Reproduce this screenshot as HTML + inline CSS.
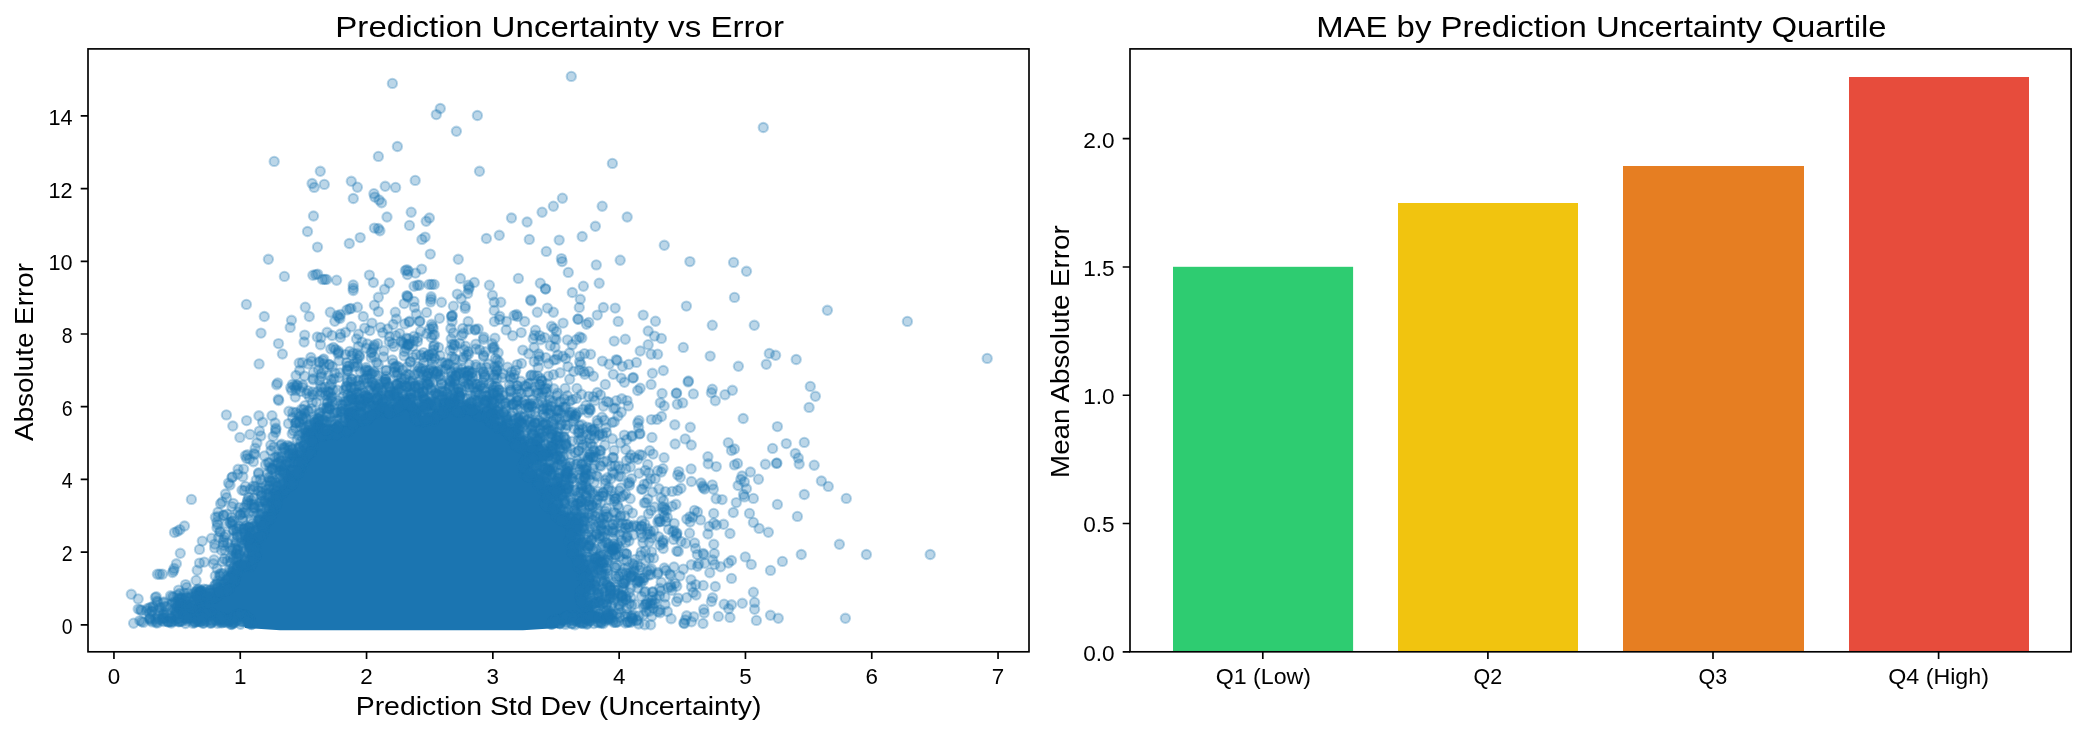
<!DOCTYPE html>
<html><head><meta charset="utf-8"><title>Prediction Uncertainty</title>
<style>html,body{margin:0;padding:0;background:#fff}svg{display:block;will-change:transform;opacity:.9999}text{font-family:"Liberation Sans",sans-serif;fill:#000}</style></head><body>
<svg width="2086" height="734" viewBox="0 0 2086 734">
<rect width="2086" height="734" fill="#fff"/>
<defs><circle id="p" r="4.65"/><clipPath id="ca"><rect x="88" y="48.9" width="941" height="602.9"/></clipPath></defs>
<g clip-path="url(#ca)"><path d="M392 392h1v1h-1zM457 392h1v1h-1zM391 393h3v1h-3zM456 393h3v1h-3zM390 394h5v1h-5zM455 394h3v1h-3zM355 395h1v1h-1zM362 395h2v1h-2zM389 395h6v1h-6zM398 395h1v1h-1zM407 395h1v1h-1zM420 395h2v1h-2zM455 395h4v1h-4zM361 396h4v1h-4zM390 396h5v1h-5zM397 396h3v1h-3zM406 396h3v1h-3zM419 396h4v1h-4zM454 396h5v1h-5zM493 396h1v1h-1zM361 397h8v1h-8zM381 397h1v1h-1zM392 397h2v1h-2zM398 397h4v1h-4zM403 397h1v1h-1zM405 397h5v1h-5zM420 397h2v1h-2zM450 397h1v1h-1zM454 397h4v1h-4zM492 397h3v1h-3zM354 396h3v3h-3zM380 398h3v1h-3zM392 398h3v1h-3zM399 398h11v1h-11zM428 398h1v1h-1zM445 398h13v1h-13zM488 398h1v1h-1zM493 398h1v1h-1zM355 399h1v1h-1zM379 399h4v1h-4zM393 399h1v1h-1zM398 399h12v1h-12zM425 399h5v1h-5zM444 399h15v1h-15zM487 399h3v1h-3zM362 398h8v3h-8zM355 400h2v1h-2zM359 400h1v1h-1zM378 400h4v1h-4zM398 400h13v1h-13zM423 400h9v1h-9zM445 400h15v1h-15zM486 400h4v1h-4zM354 401h17v1h-17zM373 401h1v1h-1zM377 401h6v1h-6zM398 401h15v1h-15zM422 401h11v1h-11zM444 401h15v1h-15zM487 401h4v1h-4zM355 402h10v1h-10zM367 402h3v1h-3zM372 402h3v1h-3zM376 402h7v1h-7zM384 402h2v1h-2zM397 402h17v1h-17zM421 402h13v1h-13zM440 402h1v1h-1zM444 402h16v1h-16zM488 402h3v2h-3zM356 403h10v1h-10zM368 403h1v1h-1zM373 403h1v1h-1zM375 403h12v1h-12zM396 403h19v1h-19zM421 403h12v1h-12zM444 403h15v1h-15zM468 403h1v1h-1zM439 403h3v2h-3zM357 404h3v1h-3zM362 404h5v1h-5zM375 404h13v1h-13zM395 404h21v1h-21zM422 404h12v1h-12zM444 404h14v1h-14zM465 404h6v1h-6zM473 404h2v1h-2zM487 404h3v1h-3zM356 405h1v1h-1zM364 405h3v1h-3zM392 405h25v1h-25zM420 405h14v1h-14zM439 405h20v1h-20zM463 405h13v1h-13zM376 405h13v2h-13zM486 405h3v2h-3zM355 406h3v1h-3zM365 406h1v1h-1zM391 406h27v1h-27zM419 406h14v1h-14zM439 406h36v1h-36zM356 407h7v1h-7zM375 407h57v1h-57zM439 407h37v1h-37zM487 407h1v1h-1zM490 407h1v1h-1zM347 408h1v1h-1zM349 408h4v1h-4zM357 408h7v1h-7zM374 408h58v1h-58zM439 408h38v1h-38zM489 408h6v1h-6zM346 409h19v1h-19zM371 409h57v1h-57zM429 409h2v1h-2zM435 409h1v1h-1zM437 409h41v1h-41zM488 409h8v1h-8zM345 410h16v1h-16zM362 410h2v1h-2zM369 410h55v1h-55zM434 410h47v1h-47zM482 410h1v1h-1zM487 410h10v1h-10zM345 411h13v1h-13zM368 411h54v1h-54zM434 411h64v1h-64zM345 412h12v1h-12zM366 412h55v1h-55zM433 412h65v1h-65zM344 413h15v1h-15zM365 413h56v1h-56zM426 413h1v1h-1zM432 413h65v1h-65zM344 414h16v1h-16zM363 414h58v1h-58zM425 414h3v1h-3zM431 414h66v1h-66zM345 415h14v1h-14zM361 415h60v1h-60zM424 415h5v1h-5zM430 415h68v1h-68zM345 416h153v1h-153zM317 417h1v1h-1zM345 417h154v1h-154zM316 418h3v1h-3zM346 418h152v1h-152zM520 418h2v1h-2zM317 419h3v1h-3zM519 419h4v1h-4zM346 419h150v2h-150zM317 420h4v1h-4zM503 420h1v1h-1zM518 420h4v1h-4zM316 421h6v1h-6zM347 421h150v1h-150zM502 421h3v1h-3zM519 421h1v1h-1zM315 422h7v1h-7zM347 422h151v1h-151zM502 422h4v1h-4zM516 422h2v1h-2zM314 423h9v1h-9zM335 423h1v1h-1zM347 423h152v1h-152zM500 423h6v1h-6zM515 423h4v1h-4zM313 424h11v1h-11zM334 424h3v1h-3zM514 424h6v1h-6zM346 424h161v2h-161zM313 425h12v1h-12zM333 425h6v1h-6zM342 425h1v1h-1zM515 425h6v2h-6zM312 426h14v1h-14zM334 426h6v1h-6zM341 426h167v1h-167zM312 427h13v1h-13zM512 427h8v1h-8zM333 427h176v2h-176zM308 428h16v1h-16zM327 428h1v1h-1zM329 428h1v1h-1zM510 428h9v1h-9zM307 429h17v1h-17zM325 429h6v1h-6zM333 429h187v1h-187zM306 430h214v1h-214zM306 431h215v1h-215zM305 432h215v1h-215zM304 433h216v1h-216zM537 433h1v1h-1zM303 434h217v1h-217zM536 434h3v1h-3zM304 435h1v1h-1zM306 435h213v1h-213zM535 435h5v1h-5zM307 436h211v1h-211zM535 436h4v1h-4zM308 437h210v1h-210zM519 437h3v1h-3zM536 437h1v1h-1zM307 438h216v1h-216zM533 438h1v1h-1zM308 439h214v1h-214zM532 439h3v1h-3zM532 440h4v1h-4zM537 440h1v1h-1zM525 441h1v1h-1zM532 441h7v1h-7zM307 440h214v3h-214zM524 442h3v1h-3zM531 442h9v1h-9zM531 443h10v1h-10zM555 443h1v1h-1zM307 443h221v2h-221zM532 444h8v1h-8zM554 444h3v1h-3zM302 445h1v1h-1zM308 445h220v1h-220zM530 445h10v1h-10zM555 445h1v1h-1zM301 446h3v1h-3zM307 446h234v1h-234zM302 447h1v1h-1zM306 447h234v2h-234zM303 448h2v1h-2zM548 448h1v1h-1zM302 449h237v1h-237zM543 449h3v1h-3zM547 449h4v1h-4zM301 450h238v1h-238zM541 450h11v1h-11zM296 451h1v1h-1zM302 451h249v1h-249zM556 451h1v1h-1zM292 452h2v1h-2zM295 452h3v1h-3zM303 452h248v1h-248zM555 452h3v1h-3zM291 453h7v1h-7zM302 453h251v1h-251zM556 453h1v1h-1zM291 454h8v1h-8zM301 454h253v1h-253zM292 455h262v1h-262zM292 456h261v1h-261zM290 457h258v1h-258zM289 458h258v1h-258zM290 459h256v1h-256zM291 460h1v1h-1zM294 460h248v1h-248zM297 461h239v1h-239zM537 461h1v1h-1zM540 461h1v1h-1zM297 462h237v1h-237zM297 463h233v1h-233zM531 463h3v1h-3zM290 464h1v1h-1zM532 464h1v1h-1zM296 464h233v2h-233zM289 465h3v1h-3zM294 465h1v1h-1zM546 465h2v1h-2zM549 465h1v1h-1zM279 466h1v1h-1zM288 466h3v1h-3zM293 466h236v1h-236zM545 466h6v1h-6zM278 467h3v1h-3zM282 467h1v1h-1zM289 467h1v1h-1zM544 467h9v1h-9zM294 467h236v2h-236zM279 468h6v1h-6zM286 468h2v1h-2zM543 468h11v2h-11zM280 469h9v1h-9zM294 469h235v1h-235zM532 469h1v1h-1zM279 470h6v1h-6zM286 470h4v1h-4zM292 470h237v1h-237zM531 470h3v1h-3zM542 470h12v1h-12zM280 471h1v1h-1zM286 471h249v1h-249zM541 471h12v1h-12zM286 472h250v1h-250zM541 472h11v1h-11zM569 472h1v1h-1zM286 473h251v1h-251zM542 473h10v1h-10zM568 473h3v2h-3zM285 474h253v1h-253zM546 474h5v1h-5zM286 475h253v1h-253zM540 475h1v1h-1zM547 475h3v1h-3zM567 475h4v1h-4zM284 476h259v1h-259zM567 476h3v1h-3zM568 477h1v1h-1zM283 477h261v2h-261zM284 479h1v1h-1zM286 479h259v1h-259zM287 480h258v2h-258zM558 481h1v1h-1zM285 482h261v1h-261zM557 482h3v1h-3zM284 483h261v1h-261zM556 483h4v1h-4zM283 484h262v1h-262zM546 484h1v1h-1zM554 484h7v1h-7zM281 485h269v1h-269zM552 485h11v1h-11zM280 486h284v1h-284zM279 487h286v1h-286zM279 488h287v1h-287zM279 489h286v1h-286zM276 490h289v1h-289zM271 491h1v1h-1zM275 491h290v1h-290zM270 492h294v1h-294zM270 493h293v1h-293zM271 494h291v1h-291zM271 495h289v2h-289zM271 497h288v1h-288zM268 498h1v1h-1zM270 498h286v1h-286zM267 499h285v1h-285zM268 500h283v1h-283zM269 501h282v1h-282zM270 502h280v1h-280zM552 502h1v1h-1zM271 503h283v1h-283zM271 504h286v1h-286zM561 504h1v1h-1zM270 505h288v1h-288zM560 505h3v2h-3zM269 506h289v1h-289zM269 507h290v1h-290zM561 507h1v1h-1zM269 508h291v1h-291zM269 509h292v1h-292zM268 510h293v1h-293zM268 511h294v1h-294zM267 512h295v1h-295zM266 513h295v1h-295zM563 513h1v1h-1zM565 513h1v1h-1zM567 513h2v1h-2zM266 514h304v1h-304zM263 515h306v1h-306zM262 516h307v1h-307zM573 516h2v1h-2zM261 517h308v1h-308zM572 517h5v1h-5zM261 518h310v1h-310zM572 518h6v1h-6zM579 518h1v1h-1zM261 519h320v1h-320zM260 520h322v1h-322zM260 521h321v1h-321zM257 522h1v1h-1zM259 522h322v1h-322zM256 523h325v1h-325zM256 524h326v1h-326zM257 525h326v1h-326zM253 526h1v1h-1zM256 526h326v1h-326zM252 527h3v1h-3zM257 527h324v2h-324zM247 528h1v1h-1zM253 528h1v1h-1zM246 529h3v1h-3zM258 529h323v2h-323zM245 530h3v1h-3zM246 531h4v1h-4zM258 531h322v1h-322zM245 532h6v1h-6zM256 532h321v1h-321zM245 533h7v1h-7zM254 533h324v1h-324zM245 534h334v1h-334zM244 535h334v1h-334zM244 536h332v3h-332zM578 538h2v1h-2zM243 539h333v1h-333zM577 539h4v2h-4zM244 540h331v1h-331zM587 541h1v1h-1zM245 541h335v2h-335zM586 542h3v1h-3zM244 543h336v1h-336zM587 543h1v1h-1zM245 544h335v2h-335zM611 545h4v1h-4zM245 546h334v1h-334zM610 546h6v1h-6zM609 547h8v1h-8zM246 547h332v2h-332zM608 548h10v1h-10zM247 549h332v1h-332zM609 549h8v1h-8zM249 550h329v1h-329zM610 550h7v1h-7zM249 551h330v1h-330zM611 551h6v1h-6zM250 552h1v1h-1zM612 552h5v1h-5zM252 552h327v2h-327zM613 553h3v1h-3zM250 554h330v1h-330zM581 554h1v1h-1zM248 555h335v1h-335zM247 556h337v1h-337zM247 557h336v1h-336zM599 557h3v1h-3zM248 558h335v1h-335zM598 558h5v1h-5zM240 559h1v1h-1zM248 559h336v1h-336zM585 559h1v1h-1zM597 559h7v1h-7zM239 560h3v1h-3zM247 560h340v1h-340zM593 560h1v1h-1zM596 560h7v1h-7zM237 561h1v1h-1zM239 561h347v1h-347zM592 561h10v1h-10zM235 562h350v1h-350zM592 562h8v1h-8zM234 563h351v1h-351zM593 563h7v1h-7zM235 564h350v1h-350zM596 564h5v1h-5zM236 565h349v1h-349zM587 565h1v1h-1zM597 565h4v1h-4zM598 566h2v1h-2zM236 566h353v2h-353zM234 568h1v1h-1zM237 568h352v1h-352zM233 569h357v1h-357zM232 570h359v1h-359zM231 571h361v1h-361zM230 572h362v1h-362zM228 573h364v1h-364zM227 574h364v1h-364zM227 575h363v1h-363zM228 576h361v1h-361zM229 577h359v1h-359zM223 578h1v1h-1zM229 578h360v1h-360zM592 578h1v1h-1zM222 579h3v1h-3zM229 579h365v1h-365zM223 580h1v1h-1zM228 580h366v1h-366zM227 581h366v1h-366zM225 582h368v1h-368zM220 583h1v1h-1zM224 583h369v1h-369zM223 584h371v1h-371zM219 584h3v2h-3zM224 585h371v1h-371zM219 586h376v1h-376zM216 587h1v1h-1zM218 587h376v1h-376zM201 588h2v1h-2zM213 588h380v1h-380zM196 589h1v1h-1zM200 589h4v1h-4zM212 589h379v1h-379zM195 590h11v1h-11zM213 590h377v1h-377zM195 591h12v1h-12zM214 591h375v1h-375zM195 592h16v1h-16zM213 592h375v1h-375zM195 593h392v1h-392zM195 594h391v1h-391zM192 595h1v1h-1zM194 595h392v1h-392zM191 596h395v2h-395zM181 597h1v1h-1zM177 598h1v1h-1zM180 598h3v1h-3zM192 598h394v1h-394zM596 598h1v1h-1zM176 599h3v1h-3zM181 599h3v1h-3zM595 599h3v1h-3zM193 599h394v2h-394zM176 600h4v1h-4zM182 600h4v1h-4zM188 600h2v1h-2zM591 600h1v1h-1zM596 600h1v1h-1zM175 601h16v1h-16zM194 601h399v1h-399zM175 602h17v1h-17zM195 602h397v2h-397zM176 603h17v1h-17zM175 604h417v1h-417zM175 605h418v2h-418zM174 607h419v2h-419zM174 609h418v1h-418zM174 610h419v1h-419zM609 610h1v1h-1zM175 611h418v1h-418zM608 611h3v1h-3zM176 612h421v1h-421zM608 612h2v1h-2zM177 613h421v1h-421zM603 613h1v1h-1zM606 613h5v1h-5zM178 614h421v1h-421zM602 614h10v1h-10zM174 615h1v1h-1zM179 615h421v1h-421zM601 615h12v1h-12zM166 616h2v1h-2zM173 616h3v1h-3zM178 616h436v1h-436zM165 617h4v1h-4zM171 617h1v1h-1zM173 617h442v1h-442zM628 617h1v1h-1zM165 618h3v1h-3zM170 618h444v1h-444zM627 618h3v1h-3zM171 619h6v1h-6zM182 619h427v1h-427zM610 619h3v1h-3zM628 619h1v1h-1zM166 619h3v2h-3zM173 620h3v1h-3zM183 620h1v1h-1zM185 620h3v1h-3zM204 620h1v1h-1zM206 620h2v1h-2zM214 620h388v1h-388zM604 620h3v1h-3zM189 620h14v2h-14zM167 621h1v1h-1zM174 621h1v1h-1zM186 621h1v1h-1zM215 621h23v1h-23zM243 621h349v1h-349zM593 621h1v1h-1zM596 621h4v1h-4zM605 621h1v1h-1zM190 622h1v1h-1zM194 622h8v1h-8zM216 622h22v1h-22zM244 622h325v1h-325zM574 622h7v1h-7zM582 622h8v1h-8zM197 623h3v1h-3zM219 623h15v1h-15zM235 623h2v1h-2zM244 623h321v1h-321zM575 623h5v1h-5zM584 623h2v1h-2zM587 623h1v1h-1zM198 624h1v1h-1zM226 624h6v1h-6zM559 624h1v1h-1zM561 624h3v1h-3zM576 624h1v1h-1zM245 624h313v4h-313zM282 628h192v1h-192zM479 628h1v1h-1zM481 628h26v1h-26zM515 628h1v1h-1zM299 629h1v1h-1zM301 629h1v1h-1zM308 629h2v1h-2zM313 629h1v1h-1zM315 629h119v1h-119zM435 629h7v1h-7zM463 629h1v1h-1zM245 628H558L523 630.35H280z" fill="#1b75b1"/>
<g fill="#1f77b4" stroke="#1f77b4" fill-opacity=".3" stroke-opacity=".3" stroke-width="2.08">
<use href="#p" x="535.3" y="423.8"/><use href="#p" x="178.8" y="613.8"/><use href="#p" x="300.8" y="441.6"/><use href="#p" x="585.4" y="475.3"/><use href="#p" x="554.7" y="442.2"/><use href="#p" x="641.1" y="533.3"/><use href="#p" x="423.7" y="357.6"/><use href="#p" x="605.1" y="511.3"/><use href="#p" x="460.4" y="278.5"/><use href="#p" x="377.7" y="343.7"/><use href="#p" x="210.7" y="623.4"/><use href="#p" x="707.9" y="456.7"/><use href="#p" x="576.9" y="534.2"/><use href="#p" x="569.8" y="478.2"/><use href="#p" x="809.1" y="407.4"/><use href="#p" x="345.5" y="354.6"/><use href="#p" x="604.1" y="524.1"/><use href="#p" x="602.4" y="603.1"/><use href="#p" x="374.8" y="385.3"/><use href="#p" x="539.6" y="464.5"/><use href="#p" x="691.1" y="468.9"/><use href="#p" x="261.8" y="483.1"/><use href="#p" x="580.3" y="492.2"/><use href="#p" x="691.5" y="586.8"/><use href="#p" x="636.4" y="620.8"/><use href="#p" x="421.3" y="421.4"/><use href="#p" x="243.1" y="512.9"/><use href="#p" x="547.4" y="425.0"/><use href="#p" x="583.5" y="542.0"/><use href="#p" x="238.9" y="526.3"/><use href="#p" x="478.2" y="328.9"/><use href="#p" x="248.1" y="530.1"/><use href="#p" x="550.6" y="437.3"/><use href="#p" x="449.3" y="406.4"/><use href="#p" x="627.0" y="400.6"/><use href="#p" x="545.5" y="468.7"/><use href="#p" x="472.1" y="409.8"/><use href="#p" x="573.3" y="551.9"/><use href="#p" x="292.2" y="433.7"/><use href="#p" x="608.3" y="548.2"/><use href="#p" x="223.1" y="573.8"/><use href="#p" x="555.4" y="467.1"/><use href="#p" x="476.8" y="404.0"/><use href="#p" x="607.6" y="573.6"/><use href="#p" x="572.2" y="412.0"/><use href="#p" x="337.5" y="390.1"/><use href="#p" x="605.0" y="620.9"/><use href="#p" x="238.2" y="546.9"/><use href="#p" x="306.3" y="448.1"/><use href="#p" x="227.7" y="579.4"/><use href="#p" x="357.5" y="421.9"/><use href="#p" x="701.1" y="483.0"/><use href="#p" x="302.7" y="463.6"/><use href="#p" x="514.1" y="315.5"/><use href="#p" x="248.1" y="527.6"/><use href="#p" x="217.6" y="587.0"/><use href="#p" x="278.2" y="462.8"/><use href="#p" x="600.1" y="465.4"/><use href="#p" x="814.2" y="465.2"/><use href="#p" x="546.5" y="498.8"/><use href="#p" x="326.0" y="421.7"/><use href="#p" x="282.7" y="492.7"/><use href="#p" x="307.6" y="436.4"/><use href="#p" x="372.8" y="408.5"/><use href="#p" x="598.9" y="435.5"/><use href="#p" x="256.5" y="530.5"/><use href="#p" x="557.5" y="478.4"/><use href="#p" x="614.1" y="450.4"/><use href="#p" x="310.8" y="445.5"/><use href="#p" x="272.3" y="497.2"/><use href="#p" x="356.9" y="362.8"/><use href="#p" x="626.5" y="460.7"/><use href="#p" x="776.9" y="463.0"/><use href="#p" x="556.7" y="480.7"/><use href="#p" x="609.8" y="554.6"/><use href="#p" x="428.3" y="355.0"/><use href="#p" x="333.0" y="390.1"/><use href="#p" x="166.6" y="612.6"/><use href="#p" x="553.8" y="503.2"/><use href="#p" x="529.8" y="403.8"/><use href="#p" x="429.3" y="403.2"/><use href="#p" x="349.8" y="415.6"/><use href="#p" x="613.1" y="549.4"/><use href="#p" x="636.7" y="582.9"/><use href="#p" x="319.2" y="362.7"/><use href="#p" x="577.5" y="556.8"/><use href="#p" x="512.7" y="335.7"/><use href="#p" x="565.8" y="424.7"/><use href="#p" x="627.7" y="622.2"/><use href="#p" x="563.2" y="500.8"/><use href="#p" x="422.1" y="408.0"/><use href="#p" x="245.6" y="531.8"/><use href="#p" x="461.3" y="407.6"/><use href="#p" x="524.9" y="467.2"/><use href="#p" x="440.1" y="410.0"/><use href="#p" x="229.7" y="580.2"/><use href="#p" x="360.1" y="399.7"/><use href="#p" x="600.5" y="394.9"/><use href="#p" x="736.3" y="502.6"/><use href="#p" x="222.0" y="620.5"/><use href="#p" x="376.0" y="388.1"/><use href="#p" x="552.9" y="401.8"/><use href="#p" x="625.3" y="616.4"/><use href="#p" x="415.9" y="414.3"/><use href="#p" x="586.9" y="434.5"/><use href="#p" x="353.2" y="288.2"/><use href="#p" x="591.8" y="504.9"/><use href="#p" x="575.7" y="538.2"/><use href="#p" x="357.1" y="421.7"/><use href="#p" x="321.2" y="373.8"/><use href="#p" x="306.4" y="418.3"/><use href="#p" x="171.4" y="623.0"/><use href="#p" x="397.6" y="391.0"/><use href="#p" x="252.8" y="554.0"/><use href="#p" x="589.3" y="489.5"/><use href="#p" x="165.8" y="617.7"/><use href="#p" x="550.0" y="486.2"/><use href="#p" x="390.0" y="408.1"/><use href="#p" x="543.6" y="424.7"/><use href="#p" x="305.2" y="432.6"/><use href="#p" x="599.9" y="450.5"/><use href="#p" x="574.6" y="510.4"/><use href="#p" x="470.5" y="395.0"/><use href="#p" x="371.9" y="352.2"/><use href="#p" x="424.9" y="399.3"/><use href="#p" x="450.1" y="397.0"/><use href="#p" x="451.1" y="371.3"/><use href="#p" x="198.1" y="616.1"/><use href="#p" x="537.2" y="444.5"/><use href="#p" x="769.3" y="353.5"/><use href="#p" x="530.6" y="443.0"/><use href="#p" x="608.2" y="517.2"/><use href="#p" x="431.6" y="324.3"/><use href="#p" x="598.0" y="491.3"/><use href="#p" x="343.5" y="431.1"/><use href="#p" x="290.7" y="387.8"/><use href="#p" x="534.1" y="449.9"/><use href="#p" x="243.7" y="551.6"/><use href="#p" x="641.6" y="596.5"/><use href="#p" x="268.1" y="513.1"/><use href="#p" x="587.5" y="574.1"/><use href="#p" x="185.5" y="623.5"/><use href="#p" x="261.4" y="501.4"/><use href="#p" x="616.3" y="359.6"/><use href="#p" x="181.8" y="597.8"/><use href="#p" x="379.1" y="200.0"/><use href="#p" x="604.1" y="537.1"/><use href="#p" x="273.3" y="502.6"/><use href="#p" x="308.4" y="453.3"/><use href="#p" x="555.8" y="511.6"/><use href="#p" x="377.2" y="398.4"/><use href="#p" x="253.0" y="486.2"/><use href="#p" x="738.4" y="366.3"/><use href="#p" x="595.8" y="581.5"/><use href="#p" x="613.0" y="603.0"/><use href="#p" x="315.3" y="421.9"/><use href="#p" x="509.3" y="385.0"/><use href="#p" x="387.7" y="329.0"/><use href="#p" x="553.2" y="509.8"/><use href="#p" x="633.0" y="620.6"/><use href="#p" x="468.2" y="370.6"/><use href="#p" x="249.8" y="619.8"/><use href="#p" x="288.2" y="482.0"/><use href="#p" x="535.2" y="480.9"/><use href="#p" x="528.7" y="461.2"/><use href="#p" x="573.7" y="371.4"/><use href="#p" x="306.9" y="452.9"/><use href="#p" x="514.7" y="442.1"/><use href="#p" x="553.4" y="312.2"/><use href="#p" x="596.3" y="264.9"/><use href="#p" x="429.1" y="284.4"/><use href="#p" x="432.6" y="326.4"/><use href="#p" x="557.9" y="410.5"/><use href="#p" x="324.2" y="420.4"/><use href="#p" x="232.4" y="524.8"/><use href="#p" x="404.9" y="379.1"/><use href="#p" x="265.3" y="502.9"/><use href="#p" x="494.8" y="419.2"/><use href="#p" x="507.7" y="421.9"/><use href="#p" x="484.4" y="377.1"/><use href="#p" x="444.8" y="402.2"/><use href="#p" x="613.7" y="530.3"/><use href="#p" x="253.8" y="540.8"/><use href="#p" x="269.5" y="503.1"/><use href="#p" x="446.3" y="408.7"/><use href="#p" x="325.3" y="428.8"/><use href="#p" x="619.5" y="617.3"/><use href="#p" x="583.4" y="579.4"/><use href="#p" x="369.8" y="330.6"/><use href="#p" x="147.6" y="608.5"/><use href="#p" x="225.5" y="494.0"/><use href="#p" x="361.2" y="412.1"/><use href="#p" x="396.4" y="407.9"/><use href="#p" x="334.8" y="429.2"/><use href="#p" x="360.1" y="418.3"/><use href="#p" x="438.4" y="412.0"/><use href="#p" x="287.6" y="475.3"/><use href="#p" x="249.0" y="544.2"/><use href="#p" x="581.4" y="558.5"/><use href="#p" x="484.7" y="408.6"/><use href="#p" x="554.4" y="338.3"/><use href="#p" x="314.2" y="187.4"/><use href="#p" x="417.2" y="411.8"/><use href="#p" x="598.8" y="566.6"/><use href="#p" x="483.9" y="337.2"/><use href="#p" x="476.9" y="392.1"/><use href="#p" x="632.4" y="618.2"/><use href="#p" x="327.9" y="391.6"/><use href="#p" x="303.0" y="419.6"/><use href="#p" x="427.9" y="373.2"/><use href="#p" x="627.3" y="621.9"/><use href="#p" x="399.5" y="404.6"/><use href="#p" x="357.1" y="418.2"/><use href="#p" x="264.4" y="501.0"/><use href="#p" x="619.1" y="490.9"/><use href="#p" x="326.7" y="407.4"/><use href="#p" x="575.2" y="490.2"/><use href="#p" x="548.4" y="376.1"/><use href="#p" x="429.7" y="329.0"/><use href="#p" x="236.9" y="620.3"/><use href="#p" x="492.7" y="347.9"/><use href="#p" x="585.8" y="596.2"/><use href="#p" x="523.8" y="469.8"/><use href="#p" x="323.7" y="408.1"/><use href="#p" x="497.0" y="395.4"/><use href="#p" x="301.7" y="462.2"/><use href="#p" x="184.6" y="598.9"/><use href="#p" x="651.6" y="600.6"/><use href="#p" x="592.4" y="612.6"/><use href="#p" x="496.5" y="410.8"/><use href="#p" x="413.8" y="340.8"/><use href="#p" x="582.1" y="528.1"/><use href="#p" x="579.5" y="478.7"/><use href="#p" x="533.3" y="475.8"/><use href="#p" x="433.2" y="328.4"/><use href="#p" x="312.6" y="392.0"/><use href="#p" x="250.7" y="546.1"/><use href="#p" x="500.8" y="302.2"/><use href="#p" x="221.5" y="623.0"/><use href="#p" x="209.8" y="590.5"/><use href="#p" x="634.6" y="457.6"/><use href="#p" x="229.3" y="588.4"/><use href="#p" x="576.0" y="537.2"/><use href="#p" x="309.0" y="425.6"/><use href="#p" x="528.5" y="472.2"/><use href="#p" x="204.6" y="620.9"/><use href="#p" x="455.9" y="375.5"/><use href="#p" x="330.2" y="422.0"/><use href="#p" x="375.2" y="374.8"/><use href="#p" x="369.1" y="390.0"/><use href="#p" x="584.3" y="520.7"/><use href="#p" x="246.3" y="562.0"/><use href="#p" x="568.3" y="509.6"/><use href="#p" x="265.1" y="519.7"/><use href="#p" x="362.0" y="342.1"/><use href="#p" x="419.5" y="321.5"/><use href="#p" x="573.0" y="545.4"/><use href="#p" x="538.6" y="353.9"/><use href="#p" x="560.6" y="509.4"/><use href="#p" x="581.3" y="517.3"/><use href="#p" x="507.2" y="419.9"/><use href="#p" x="187.4" y="620.7"/><use href="#p" x="408.9" y="374.7"/><use href="#p" x="557.8" y="464.6"/><use href="#p" x="576.6" y="558.7"/><use href="#p" x="248.4" y="619.2"/><use href="#p" x="531.9" y="476.0"/><use href="#p" x="584.6" y="592.2"/><use href="#p" x="167.1" y="621.3"/><use href="#p" x="275.8" y="429.6"/><use href="#p" x="296.0" y="387.4"/><use href="#p" x="651.3" y="568.7"/><use href="#p" x="233.8" y="530.6"/><use href="#p" x="373.6" y="347.0"/><use href="#p" x="626.0" y="573.1"/><use href="#p" x="454.2" y="408.2"/><use href="#p" x="410.6" y="361.9"/><use href="#p" x="348.3" y="413.4"/><use href="#p" x="586.5" y="546.1"/><use href="#p" x="170.5" y="595.8"/><use href="#p" x="364.7" y="328.1"/><use href="#p" x="338.4" y="351.0"/><use href="#p" x="236.7" y="554.0"/><use href="#p" x="625.8" y="468.8"/><use href="#p" x="565.9" y="444.5"/><use href="#p" x="557.7" y="618.9"/><use href="#p" x="599.5" y="617.2"/><use href="#p" x="217.8" y="581.0"/><use href="#p" x="326.6" y="279.4"/><use href="#p" x="354.9" y="400.7"/><use href="#p" x="608.6" y="618.8"/><use href="#p" x="930.2" y="554.5"/><use href="#p" x="201.0" y="591.0"/><use href="#p" x="227.4" y="543.1"/><use href="#p" x="224.4" y="558.9"/><use href="#p" x="650.5" y="606.0"/><use href="#p" x="579.5" y="425.4"/><use href="#p" x="565.5" y="624.4"/><use href="#p" x="674.8" y="424.8"/><use href="#p" x="587.2" y="556.6"/><use href="#p" x="654.5" y="336.1"/><use href="#p" x="537.0" y="460.4"/><use href="#p" x="580.3" y="531.6"/><use href="#p" x="404.1" y="355.9"/><use href="#p" x="459.8" y="396.6"/><use href="#p" x="488.3" y="400.2"/><use href="#p" x="179.7" y="593.5"/><use href="#p" x="269.9" y="467.5"/><use href="#p" x="477.5" y="414.9"/><use href="#p" x="441.0" y="369.7"/><use href="#p" x="328.6" y="392.6"/><use href="#p" x="483.4" y="339.2"/><use href="#p" x="568.0" y="366.6"/><use href="#p" x="536.3" y="438.4"/><use href="#p" x="444.7" y="403.1"/><use href="#p" x="542.6" y="448.6"/><use href="#p" x="589.3" y="602.6"/><use href="#p" x="612.0" y="550.1"/><use href="#p" x="574.0" y="542.7"/><use href="#p" x="230.8" y="624.3"/><use href="#p" x="412.6" y="407.2"/><use href="#p" x="497.3" y="370.4"/><use href="#p" x="573.7" y="529.2"/><use href="#p" x="574.0" y="514.8"/><use href="#p" x="188.1" y="605.3"/><use href="#p" x="260.8" y="435.9"/><use href="#p" x="365.4" y="395.5"/><use href="#p" x="433.9" y="420.7"/><use href="#p" x="284.5" y="449.3"/><use href="#p" x="238.1" y="469.3"/><use href="#p" x="426.7" y="409.5"/><use href="#p" x="559.7" y="623.5"/><use href="#p" x="523.9" y="462.3"/><use href="#p" x="344.0" y="430.2"/><use href="#p" x="305.4" y="443.1"/><use href="#p" x="605.6" y="615.3"/><use href="#p" x="581.0" y="593.0"/><use href="#p" x="679.9" y="576.0"/><use href="#p" x="293.7" y="467.9"/><use href="#p" x="615.7" y="513.1"/><use href="#p" x="253.1" y="555.5"/><use href="#p" x="273.4" y="512.4"/><use href="#p" x="273.5" y="489.3"/><use href="#p" x="579.5" y="622.2"/><use href="#p" x="217.6" y="524.4"/><use href="#p" x="703.2" y="553.5"/><use href="#p" x="294.8" y="473.8"/><use href="#p" x="186.4" y="618.6"/><use href="#p" x="305.3" y="307.2"/><use href="#p" x="527.7" y="441.8"/><use href="#p" x="295.9" y="412.5"/><use href="#p" x="359.8" y="412.5"/><use href="#p" x="331.7" y="428.8"/><use href="#p" x="312.1" y="432.1"/><use href="#p" x="570.0" y="401.1"/><use href="#p" x="293.2" y="481.8"/><use href="#p" x="330.2" y="406.6"/><use href="#p" x="531.0" y="300.8"/><use href="#p" x="182.1" y="621.2"/><use href="#p" x="299.1" y="446.8"/><use href="#p" x="553.8" y="453.6"/><use href="#p" x="506.1" y="409.1"/><use href="#p" x="350.0" y="405.2"/><use href="#p" x="311.0" y="452.0"/><use href="#p" x="618.0" y="590.3"/><use href="#p" x="600.9" y="529.8"/><use href="#p" x="290.3" y="446.3"/><use href="#p" x="294.4" y="470.2"/><use href="#p" x="386.4" y="402.2"/><use href="#p" x="519.0" y="446.8"/><use href="#p" x="591.0" y="546.2"/><use href="#p" x="316.4" y="427.2"/><use href="#p" x="643.2" y="315.1"/><use href="#p" x="351.4" y="399.4"/><use href="#p" x="576.0" y="519.3"/><use href="#p" x="622.4" y="366.3"/><use href="#p" x="586.8" y="427.1"/><use href="#p" x="585.4" y="478.2"/><use href="#p" x="609.9" y="587.2"/><use href="#p" x="579.6" y="469.7"/><use href="#p" x="475.9" y="344.1"/><use href="#p" x="180.8" y="602.8"/><use href="#p" x="553.4" y="206.2"/><use href="#p" x="352.7" y="421.1"/><use href="#p" x="252.3" y="561.6"/><use href="#p" x="234.3" y="576.4"/><use href="#p" x="516.6" y="314.5"/><use href="#p" x="657.7" y="574.1"/><use href="#p" x="347.5" y="366.2"/><use href="#p" x="171.4" y="621.4"/><use href="#p" x="661.3" y="472.0"/><use href="#p" x="292.1" y="453.4"/><use href="#p" x="319.1" y="426.8"/><use href="#p" x="606.6" y="584.5"/><use href="#p" x="408.9" y="391.8"/><use href="#p" x="601.0" y="466.3"/><use href="#p" x="684.4" y="623.6"/><use href="#p" x="530.7" y="375.8"/><use href="#p" x="526.6" y="386.5"/><use href="#p" x="412.7" y="383.2"/><use href="#p" x="316.3" y="430.9"/><use href="#p" x="599.5" y="538.5"/><use href="#p" x="409.6" y="343.9"/><use href="#p" x="301.7" y="465.2"/><use href="#p" x="431.4" y="390.4"/><use href="#p" x="431.1" y="404.9"/><use href="#p" x="590.5" y="590.0"/><use href="#p" x="568.3" y="482.4"/><use href="#p" x="221.6" y="584.4"/><use href="#p" x="239.4" y="507.7"/><use href="#p" x="744.4" y="496.9"/><use href="#p" x="244.2" y="490.6"/><use href="#p" x="332.0" y="335.5"/><use href="#p" x="254.0" y="453.4"/><use href="#p" x="589.4" y="557.4"/><use href="#p" x="568.4" y="618.4"/><use href="#p" x="415.1" y="413.2"/><use href="#p" x="281.4" y="470.7"/><use href="#p" x="495.1" y="414.7"/><use href="#p" x="594.3" y="583.8"/><use href="#p" x="256.3" y="549.6"/><use href="#p" x="370.8" y="386.9"/><use href="#p" x="249.7" y="566.7"/><use href="#p" x="377.3" y="413.2"/><use href="#p" x="589.3" y="439.1"/><use href="#p" x="446.0" y="369.1"/><use href="#p" x="450.9" y="372.7"/><use href="#p" x="603.4" y="307.5"/><use href="#p" x="691.4" y="481.5"/><use href="#p" x="479.7" y="386.2"/><use href="#p" x="509.8" y="435.4"/><use href="#p" x="253.3" y="538.0"/><use href="#p" x="488.7" y="406.7"/><use href="#p" x="270.7" y="481.8"/><use href="#p" x="533.9" y="460.0"/><use href="#p" x="488.2" y="364.0"/><use href="#p" x="200.2" y="603.8"/><use href="#p" x="497.2" y="400.1"/><use href="#p" x="318.5" y="369.8"/><use href="#p" x="356.5" y="339.0"/><use href="#p" x="514.3" y="440.1"/><use href="#p" x="266.6" y="516.6"/><use href="#p" x="632.3" y="618.5"/><use href="#p" x="341.2" y="417.9"/><use href="#p" x="308.1" y="436.8"/><use href="#p" x="277.2" y="497.4"/><use href="#p" x="336.9" y="419.4"/><use href="#p" x="626.9" y="578.6"/><use href="#p" x="560.6" y="425.3"/><use href="#p" x="528.6" y="458.9"/><use href="#p" x="309.8" y="451.8"/><use href="#p" x="644.3" y="502.9"/><use href="#p" x="586.5" y="467.6"/><use href="#p" x="287.6" y="445.5"/><use href="#p" x="409.5" y="225.4"/><use href="#p" x="550.1" y="491.6"/><use href="#p" x="588.7" y="577.4"/><use href="#p" x="178.6" y="599.5"/><use href="#p" x="368.2" y="398.1"/><use href="#p" x="197.1" y="619.6"/><use href="#p" x="334.3" y="429.6"/><use href="#p" x="578.0" y="543.5"/><use href="#p" x="418.6" y="420.0"/><use href="#p" x="592.5" y="446.4"/><use href="#p" x="602.0" y="417.2"/><use href="#p" x="433.6" y="349.9"/><use href="#p" x="274.5" y="480.4"/><use href="#p" x="410.0" y="402.4"/><use href="#p" x="583.8" y="371.6"/><use href="#p" x="597.6" y="561.2"/><use href="#p" x="363.3" y="316.5"/><use href="#p" x="548.1" y="503.5"/><use href="#p" x="556.0" y="409.9"/><use href="#p" x="637.7" y="390.5"/><use href="#p" x="599.9" y="454.5"/><use href="#p" x="566.5" y="446.7"/><use href="#p" x="275.1" y="493.1"/><use href="#p" x="626.7" y="537.5"/><use href="#p" x="572.2" y="344.7"/><use href="#p" x="589.5" y="570.0"/><use href="#p" x="579.8" y="550.8"/><use href="#p" x="572.1" y="478.2"/><use href="#p" x="590.2" y="526.3"/><use href="#p" x="395.5" y="391.6"/><use href="#p" x="606.5" y="618.8"/><use href="#p" x="357.9" y="405.4"/><use href="#p" x="371.0" y="374.0"/><use href="#p" x="317.3" y="337.0"/><use href="#p" x="392.4" y="83.4"/><use href="#p" x="410.8" y="406.1"/><use href="#p" x="486.4" y="238.5"/><use href="#p" x="548.6" y="456.2"/><use href="#p" x="376.8" y="408.3"/><use href="#p" x="433.5" y="346.6"/><use href="#p" x="639.9" y="578.4"/><use href="#p" x="309.4" y="397.1"/><use href="#p" x="606.5" y="508.4"/><use href="#p" x="357.7" y="381.3"/><use href="#p" x="584.0" y="596.1"/><use href="#p" x="542.0" y="464.2"/><use href="#p" x="477.4" y="115.5"/><use href="#p" x="184.6" y="606.6"/><use href="#p" x="297.6" y="385.3"/><use href="#p" x="442.0" y="362.5"/><use href="#p" x="611.0" y="466.1"/><use href="#p" x="738.1" y="485.5"/><use href="#p" x="567.3" y="395.7"/><use href="#p" x="580.3" y="299.3"/><use href="#p" x="602.5" y="436.2"/><use href="#p" x="392.4" y="359.9"/><use href="#p" x="632.7" y="563.5"/><use href="#p" x="322.5" y="279.4"/><use href="#p" x="234.6" y="581.0"/><use href="#p" x="293.0" y="470.4"/><use href="#p" x="553.7" y="423.9"/><use href="#p" x="155.5" y="619.0"/><use href="#p" x="226.4" y="414.9"/><use href="#p" x="615.8" y="555.1"/><use href="#p" x="522.7" y="445.4"/><use href="#p" x="625.8" y="449.5"/><use href="#p" x="499.8" y="316.3"/><use href="#p" x="395.7" y="407.6"/><use href="#p" x="555.2" y="493.7"/><use href="#p" x="610.1" y="552.2"/><use href="#p" x="607.8" y="585.4"/><use href="#p" x="257.4" y="526.3"/><use href="#p" x="521.1" y="409.0"/><use href="#p" x="556.9" y="508.5"/><use href="#p" x="502.6" y="392.4"/><use href="#p" x="228.0" y="582.4"/><use href="#p" x="234.2" y="582.2"/><use href="#p" x="483.6" y="355.3"/><use href="#p" x="622.4" y="523.3"/><use href="#p" x="355.3" y="420.3"/><use href="#p" x="538.1" y="481.7"/><use href="#p" x="241.8" y="564.2"/><use href="#p" x="607.3" y="477.8"/><use href="#p" x="537.5" y="423.0"/><use href="#p" x="536.2" y="467.2"/><use href="#p" x="212.2" y="613.9"/><use href="#p" x="633.8" y="525.3"/><use href="#p" x="439.0" y="412.7"/><use href="#p" x="402.5" y="393.8"/><use href="#p" x="420.9" y="355.1"/><use href="#p" x="534.1" y="347.5"/><use href="#p" x="428.4" y="379.1"/><use href="#p" x="302.4" y="362.7"/><use href="#p" x="754.6" y="602.4"/><use href="#p" x="332.2" y="366.6"/><use href="#p" x="304.9" y="413.2"/><use href="#p" x="598.8" y="613.6"/><use href="#p" x="584.2" y="564.8"/><use href="#p" x="575.5" y="617.1"/><use href="#p" x="365.4" y="401.7"/><use href="#p" x="596.5" y="503.8"/><use href="#p" x="546.5" y="392.2"/><use href="#p" x="203.7" y="623.1"/><use href="#p" x="542.6" y="480.1"/><use href="#p" x="627.6" y="524.3"/><use href="#p" x="663.2" y="512.1"/><use href="#p" x="312.5" y="445.4"/><use href="#p" x="614.1" y="557.7"/><use href="#p" x="428.0" y="403.6"/><use href="#p" x="694.5" y="510.4"/><use href="#p" x="436.3" y="114.6"/><use href="#p" x="215.4" y="517.3"/><use href="#p" x="235.7" y="615.2"/><use href="#p" x="231.6" y="621.3"/><use href="#p" x="566.1" y="492.8"/><use href="#p" x="272.4" y="478.9"/><use href="#p" x="421.0" y="422.3"/><use href="#p" x="670.6" y="575.5"/><use href="#p" x="570.8" y="620.0"/><use href="#p" x="472.3" y="384.2"/><use href="#p" x="517.8" y="385.9"/><use href="#p" x="417.7" y="337.7"/><use href="#p" x="421.8" y="404.4"/><use href="#p" x="357.3" y="359.0"/><use href="#p" x="378.4" y="411.2"/><use href="#p" x="613.1" y="524.6"/><use href="#p" x="312.7" y="444.2"/><use href="#p" x="382.8" y="398.9"/><use href="#p" x="537.7" y="447.5"/><use href="#p" x="262.2" y="534.3"/><use href="#p" x="579.2" y="370.1"/><use href="#p" x="384.8" y="410.3"/><use href="#p" x="576.4" y="529.7"/><use href="#p" x="289.7" y="475.8"/><use href="#p" x="583.5" y="593.5"/><use href="#p" x="394.1" y="393.6"/><use href="#p" x="306.7" y="393.5"/><use href="#p" x="542.7" y="392.9"/><use href="#p" x="456.3" y="378.4"/><use href="#p" x="323.7" y="358.9"/><use href="#p" x="592.8" y="492.7"/><use href="#p" x="454.4" y="409.5"/><use href="#p" x="649.4" y="611.2"/><use href="#p" x="194.7" y="621.8"/><use href="#p" x="581.6" y="569.8"/><use href="#p" x="563.4" y="456.4"/><use href="#p" x="300.1" y="458.4"/><use href="#p" x="490.2" y="420.4"/><use href="#p" x="227.1" y="514.1"/><use href="#p" x="589.7" y="506.1"/><use href="#p" x="613.3" y="457.6"/><use href="#p" x="433.7" y="372.2"/><use href="#p" x="597.5" y="499.5"/><use href="#p" x="366.1" y="416.2"/><use href="#p" x="527.2" y="471.5"/><use href="#p" x="311.7" y="433.9"/><use href="#p" x="537.4" y="390.2"/><use href="#p" x="384.6" y="289.3"/><use href="#p" x="368.1" y="401.5"/><use href="#p" x="627.2" y="536.0"/><use href="#p" x="418.2" y="421.0"/><use href="#p" x="541.8" y="466.5"/><use href="#p" x="364.7" y="395.9"/><use href="#p" x="703.1" y="487.8"/><use href="#p" x="746.5" y="271.3"/><use href="#p" x="484.9" y="400.8"/><use href="#p" x="254.2" y="504.3"/><use href="#p" x="582.1" y="447.0"/><use href="#p" x="550.9" y="434.0"/><use href="#p" x="262.1" y="488.0"/><use href="#p" x="541.8" y="380.6"/><use href="#p" x="777.4" y="504.4"/><use href="#p" x="440.3" y="108.5"/><use href="#p" x="490.3" y="413.2"/><use href="#p" x="293.5" y="456.3"/><use href="#p" x="605.3" y="384.4"/><use href="#p" x="606.0" y="599.1"/><use href="#p" x="559.8" y="486.8"/><use href="#p" x="409.5" y="321.3"/><use href="#p" x="246.6" y="420.6"/><use href="#p" x="149.8" y="618.8"/><use href="#p" x="369.2" y="408.3"/><use href="#p" x="338.5" y="430.7"/><use href="#p" x="594.6" y="562.3"/><use href="#p" x="560.4" y="459.0"/><use href="#p" x="296.7" y="385.2"/><use href="#p" x="597.3" y="558.5"/><use href="#p" x="202.2" y="620.3"/><use href="#p" x="418.0" y="420.1"/><use href="#p" x="458.6" y="400.4"/><use href="#p" x="371.4" y="397.5"/><use href="#p" x="651.9" y="537.9"/><use href="#p" x="255.7" y="555.9"/><use href="#p" x="581.7" y="510.4"/><use href="#p" x="275.9" y="428.2"/><use href="#p" x="238.1" y="556.8"/><use href="#p" x="768.4" y="532.3"/><use href="#p" x="426.7" y="356.4"/><use href="#p" x="650.6" y="478.9"/><use href="#p" x="519.3" y="422.0"/><use href="#p" x="278.5" y="343.6"/><use href="#p" x="599.3" y="614.0"/><use href="#p" x="377.6" y="389.8"/><use href="#p" x="337.0" y="431.2"/><use href="#p" x="600.9" y="556.1"/><use href="#p" x="289.2" y="462.7"/><use href="#p" x="394.4" y="367.8"/><use href="#p" x="346.7" y="388.9"/><use href="#p" x="197.0" y="594.9"/><use href="#p" x="218.8" y="617.6"/><use href="#p" x="408.5" y="338.8"/><use href="#p" x="668.2" y="587.6"/><use href="#p" x="251.5" y="504.5"/><use href="#p" x="578.7" y="451.1"/><use href="#p" x="253.9" y="526.5"/><use href="#p" x="452.1" y="321.5"/><use href="#p" x="317.7" y="274.1"/><use href="#p" x="602.4" y="523.5"/><use href="#p" x="620.2" y="260.2"/><use href="#p" x="311.2" y="408.6"/><use href="#p" x="364.4" y="399.9"/><use href="#p" x="500.3" y="399.1"/><use href="#p" x="230.9" y="575.9"/><use href="#p" x="655.2" y="478.7"/><use href="#p" x="663.3" y="540.1"/><use href="#p" x="610.1" y="587.2"/><use href="#p" x="264.3" y="524.7"/><use href="#p" x="534.7" y="455.3"/><use href="#p" x="593.3" y="396.7"/><use href="#p" x="543.7" y="490.3"/><use href="#p" x="770.5" y="615.3"/><use href="#p" x="479.7" y="394.5"/><use href="#p" x="425.8" y="420.3"/><use href="#p" x="281.1" y="461.0"/><use href="#p" x="472.9" y="410.0"/><use href="#p" x="685.3" y="620.0"/><use href="#p" x="526.3" y="449.4"/><use href="#p" x="603.4" y="517.2"/><use href="#p" x="592.9" y="494.6"/><use href="#p" x="559.1" y="477.1"/><use href="#p" x="295.6" y="428.2"/><use href="#p" x="542.5" y="456.0"/><use href="#p" x="406.9" y="295.6"/><use href="#p" x="582.1" y="543.0"/><use href="#p" x="240.1" y="515.1"/><use href="#p" x="595.4" y="615.7"/><use href="#p" x="410.8" y="398.5"/><use href="#p" x="546.5" y="477.6"/><use href="#p" x="389.1" y="396.2"/><use href="#p" x="697.5" y="512.0"/><use href="#p" x="542.0" y="461.8"/><use href="#p" x="715.3" y="400.7"/><use href="#p" x="268.1" y="462.5"/><use href="#p" x="382.8" y="332.7"/><use href="#p" x="652.4" y="596.6"/><use href="#p" x="279.8" y="482.2"/><use href="#p" x="675.0" y="583.6"/><use href="#p" x="414.4" y="386.5"/><use href="#p" x="313.3" y="444.2"/><use href="#p" x="260.9" y="506.7"/><use href="#p" x="226.2" y="590.6"/><use href="#p" x="303.0" y="461.1"/><use href="#p" x="518.9" y="442.1"/><use href="#p" x="473.7" y="387.8"/><use href="#p" x="249.5" y="619.1"/><use href="#p" x="468.1" y="383.6"/><use href="#p" x="331.5" y="421.0"/><use href="#p" x="611.0" y="614.2"/><use href="#p" x="275.8" y="506.2"/><use href="#p" x="514.1" y="432.0"/><use href="#p" x="404.9" y="403.3"/><use href="#p" x="309.3" y="316.5"/><use href="#p" x="565.3" y="485.3"/><use href="#p" x="516.2" y="443.7"/><use href="#p" x="270.8" y="445.2"/><use href="#p" x="565.3" y="618.2"/><use href="#p" x="529.1" y="419.0"/><use href="#p" x="577.1" y="531.8"/><use href="#p" x="347.3" y="430.1"/><use href="#p" x="253.4" y="538.5"/><use href="#p" x="196.1" y="594.5"/><use href="#p" x="561.7" y="423.9"/><use href="#p" x="618.0" y="416.0"/><use href="#p" x="590.0" y="613.8"/><use href="#p" x="653.0" y="592.0"/><use href="#p" x="300.8" y="391.4"/><use href="#p" x="491.4" y="405.5"/><use href="#p" x="343.0" y="396.7"/><use href="#p" x="628.1" y="483.5"/><use href="#p" x="337.5" y="412.2"/><use href="#p" x="566.8" y="488.9"/><use href="#p" x="432.2" y="413.2"/><use href="#p" x="353.0" y="407.7"/><use href="#p" x="557.5" y="455.4"/><use href="#p" x="319.0" y="425.7"/><use href="#p" x="196.0" y="607.6"/><use href="#p" x="191.6" y="614.4"/><use href="#p" x="585.5" y="469.7"/><use href="#p" x="510.3" y="389.3"/><use href="#p" x="184.2" y="618.0"/><use href="#p" x="588.8" y="564.3"/><use href="#p" x="367.5" y="382.9"/><use href="#p" x="590.6" y="354.3"/><use href="#p" x="583.9" y="456.1"/><use href="#p" x="606.8" y="562.7"/><use href="#p" x="603.0" y="563.2"/><use href="#p" x="644.4" y="592.2"/><use href="#p" x="299.9" y="446.8"/><use href="#p" x="291.8" y="390.5"/><use href="#p" x="373.6" y="392.9"/><use href="#p" x="378.3" y="228.5"/><use href="#p" x="573.2" y="549.9"/><use href="#p" x="406.6" y="401.0"/><use href="#p" x="637.4" y="620.0"/><use href="#p" x="510.1" y="400.0"/><use href="#p" x="275.7" y="482.7"/><use href="#p" x="189.7" y="614.8"/><use href="#p" x="585.9" y="591.5"/><use href="#p" x="383.9" y="350.8"/><use href="#p" x="654.9" y="603.1"/><use href="#p" x="537.4" y="448.3"/><use href="#p" x="409.9" y="386.6"/><use href="#p" x="475.1" y="330.1"/><use href="#p" x="315.7" y="423.9"/><use href="#p" x="664.1" y="507.1"/><use href="#p" x="400.8" y="400.7"/><use href="#p" x="608.1" y="560.6"/><use href="#p" x="534.9" y="423.1"/><use href="#p" x="564.4" y="521.6"/><use href="#p" x="219.0" y="617.7"/><use href="#p" x="378.4" y="156.4"/><use href="#p" x="633.8" y="576.3"/><use href="#p" x="633.7" y="615.0"/><use href="#p" x="691.3" y="445.0"/><use href="#p" x="283.4" y="490.0"/><use href="#p" x="715.3" y="586.5"/><use href="#p" x="599.5" y="434.0"/><use href="#p" x="451.2" y="338.9"/><use href="#p" x="321.0" y="337.6"/><use href="#p" x="503.6" y="412.8"/><use href="#p" x="609.1" y="598.6"/><use href="#p" x="588.2" y="513.8"/><use href="#p" x="431.6" y="405.8"/><use href="#p" x="438.7" y="376.6"/><use href="#p" x="222.9" y="622.4"/><use href="#p" x="644.7" y="624.7"/><use href="#p" x="533.2" y="338.8"/><use href="#p" x="231.7" y="624.6"/><use href="#p" x="664.2" y="406.0"/><use href="#p" x="545.3" y="453.8"/><use href="#p" x="271.6" y="501.9"/><use href="#p" x="498.2" y="422.6"/><use href="#p" x="583.6" y="593.9"/><use href="#p" x="565.7" y="445.6"/><use href="#p" x="325.8" y="395.6"/><use href="#p" x="585.2" y="605.6"/><use href="#p" x="273.1" y="436.4"/><use href="#p" x="393.5" y="405.9"/><use href="#p" x="332.8" y="429.6"/><use href="#p" x="700.5" y="519.9"/><use href="#p" x="493.5" y="374.9"/><use href="#p" x="273.8" y="493.1"/><use href="#p" x="324.9" y="435.3"/><use href="#p" x="366.1" y="348.1"/><use href="#p" x="173.6" y="597.3"/><use href="#p" x="216.2" y="617.2"/><use href="#p" x="564.3" y="500.0"/><use href="#p" x="416.3" y="414.8"/><use href="#p" x="613.3" y="548.4"/><use href="#p" x="546.3" y="251.4"/><use href="#p" x="517.5" y="409.4"/><use href="#p" x="629.1" y="592.7"/><use href="#p" x="553.1" y="621.0"/><use href="#p" x="342.4" y="404.9"/><use href="#p" x="625.7" y="542.7"/><use href="#p" x="587.8" y="457.4"/><use href="#p" x="578.9" y="526.6"/><use href="#p" x="664.3" y="516.4"/><use href="#p" x="465.6" y="372.2"/><use href="#p" x="351.0" y="381.6"/><use href="#p" x="405.0" y="399.3"/><use href="#p" x="600.8" y="525.6"/><use href="#p" x="239.0" y="555.1"/><use href="#p" x="576.3" y="556.8"/><use href="#p" x="551.6" y="624.4"/><use href="#p" x="312.9" y="275.3"/><use href="#p" x="409.6" y="398.8"/><use href="#p" x="528.2" y="472.5"/><use href="#p" x="604.4" y="618.3"/><use href="#p" x="479.7" y="349.9"/><use href="#p" x="228.6" y="621.9"/><use href="#p" x="454.1" y="403.6"/><use href="#p" x="499.0" y="397.6"/><use href="#p" x="161.8" y="620.2"/><use href="#p" x="516.9" y="400.6"/><use href="#p" x="163.6" y="603.0"/><use href="#p" x="529.8" y="477.4"/><use href="#p" x="409.8" y="397.2"/><use href="#p" x="348.7" y="399.2"/><use href="#p" x="398.4" y="397.5"/><use href="#p" x="617.0" y="565.4"/><use href="#p" x="381.6" y="202.8"/><use href="#p" x="493.7" y="393.8"/><use href="#p" x="299.5" y="448.9"/><use href="#p" x="523.7" y="468.0"/><use href="#p" x="572.3" y="441.3"/><use href="#p" x="295.5" y="422.9"/><use href="#p" x="238.0" y="614.4"/><use href="#p" x="276.6" y="384.7"/><use href="#p" x="615.0" y="520.0"/><use href="#p" x="250.7" y="546.1"/><use href="#p" x="295.8" y="422.9"/><use href="#p" x="595.2" y="516.1"/><use href="#p" x="581.4" y="464.6"/><use href="#p" x="570.5" y="537.8"/><use href="#p" x="243.6" y="469.1"/><use href="#p" x="603.7" y="583.7"/><use href="#p" x="237.6" y="549.5"/><use href="#p" x="628.0" y="567.6"/><use href="#p" x="457.3" y="294.1"/><use href="#p" x="537.6" y="375.9"/><use href="#p" x="907.4" y="321.4"/><use href="#p" x="527.1" y="222.0"/><use href="#p" x="589.2" y="619.0"/><use href="#p" x="211.3" y="596.5"/><use href="#p" x="608.7" y="487.5"/><use href="#p" x="753.4" y="592.2"/><use href="#p" x="547.1" y="486.1"/><use href="#p" x="218.2" y="616.9"/><use href="#p" x="259.5" y="526.0"/><use href="#p" x="206.3" y="614.8"/><use href="#p" x="675.1" y="444.0"/><use href="#p" x="608.0" y="489.5"/><use href="#p" x="539.6" y="335.6"/><use href="#p" x="581.6" y="394.3"/><use href="#p" x="506.2" y="329.9"/><use href="#p" x="289.3" y="465.1"/><use href="#p" x="224.2" y="618.6"/><use href="#p" x="643.0" y="542.8"/><use href="#p" x="264.0" y="531.3"/><use href="#p" x="404.2" y="400.3"/><use href="#p" x="476.2" y="376.0"/><use href="#p" x="528.9" y="472.0"/><use href="#p" x="162.8" y="618.1"/><use href="#p" x="484.7" y="403.3"/><use href="#p" x="563.0" y="620.3"/><use href="#p" x="249.1" y="538.4"/><use href="#p" x="581.2" y="439.5"/><use href="#p" x="591.3" y="539.9"/><use href="#p" x="565.3" y="473.3"/><use href="#p" x="675.9" y="504.3"/><use href="#p" x="625.3" y="339.2"/><use href="#p" x="171.4" y="618.2"/><use href="#p" x="249.2" y="537.5"/><use href="#p" x="590.2" y="498.9"/><use href="#p" x="268.0" y="516.6"/><use href="#p" x="232.1" y="572.6"/><use href="#p" x="630.2" y="498.7"/><use href="#p" x="407.4" y="274.6"/><use href="#p" x="797.4" y="516.4"/><use href="#p" x="742.3" y="603.3"/><use href="#p" x="360.3" y="372.0"/><use href="#p" x="303.7" y="463.9"/><use href="#p" x="281.3" y="457.0"/><use href="#p" x="340.0" y="425.2"/><use href="#p" x="565.7" y="443.6"/><use href="#p" x="350.9" y="420.1"/><use href="#p" x="302.0" y="437.1"/><use href="#p" x="587.4" y="489.4"/><use href="#p" x="552.7" y="482.9"/><use href="#p" x="740.8" y="479.5"/><use href="#p" x="567.7" y="425.4"/><use href="#p" x="676.3" y="393.4"/><use href="#p" x="399.8" y="333.5"/><use href="#p" x="306.6" y="455.9"/><use href="#p" x="245.6" y="541.0"/><use href="#p" x="572.3" y="292.5"/><use href="#p" x="513.2" y="440.8"/><use href="#p" x="744.4" y="481.9"/><use href="#p" x="432.3" y="364.1"/><use href="#p" x="351.4" y="398.2"/><use href="#p" x="378.4" y="297.3"/><use href="#p" x="205.6" y="618.8"/><use href="#p" x="345.3" y="418.6"/><use href="#p" x="259.4" y="431.1"/><use href="#p" x="413.4" y="409.0"/><use href="#p" x="308.7" y="433.5"/><use href="#p" x="579.1" y="554.9"/><use href="#p" x="592.0" y="535.1"/><use href="#p" x="637.4" y="581.2"/><use href="#p" x="581.5" y="507.1"/><use href="#p" x="192.9" y="623.3"/><use href="#p" x="336.1" y="434.8"/><use href="#p" x="557.9" y="485.9"/><use href="#p" x="439.4" y="414.7"/><use href="#p" x="618.8" y="604.5"/><use href="#p" x="150.8" y="620.2"/><use href="#p" x="284.9" y="447.4"/><use href="#p" x="545.3" y="424.0"/><use href="#p" x="578.2" y="319.0"/><use href="#p" x="518.4" y="419.3"/><use href="#p" x="395.9" y="375.4"/><use href="#p" x="722.1" y="499.6"/><use href="#p" x="456.4" y="131.3"/><use href="#p" x="778.3" y="618.3"/><use href="#p" x="651.0" y="510.4"/><use href="#p" x="524.7" y="416.3"/><use href="#p" x="276.5" y="494.9"/><use href="#p" x="625.8" y="599.5"/><use href="#p" x="549.2" y="398.8"/><use href="#p" x="546.8" y="490.4"/><use href="#p" x="475.5" y="410.3"/><use href="#p" x="449.2" y="387.3"/><use href="#p" x="381.4" y="404.9"/><use href="#p" x="431.0" y="419.5"/><use href="#p" x="525.7" y="451.3"/><use href="#p" x="449.3" y="380.1"/><use href="#p" x="597.2" y="610.6"/><use href="#p" x="486.8" y="411.4"/><use href="#p" x="529.1" y="446.2"/><use href="#p" x="489.7" y="396.1"/><use href="#p" x="585.9" y="405.4"/><use href="#p" x="638.3" y="580.6"/><use href="#p" x="543.3" y="449.9"/><use href="#p" x="547.7" y="498.7"/><use href="#p" x="196.7" y="591.2"/><use href="#p" x="643.7" y="607.2"/><use href="#p" x="138.2" y="598.9"/><use href="#p" x="284.5" y="487.2"/><use href="#p" x="186.8" y="587.4"/><use href="#p" x="629.0" y="540.9"/><use href="#p" x="624.9" y="515.9"/><use href="#p" x="358.3" y="346.4"/><use href="#p" x="230.5" y="562.7"/><use href="#p" x="282.8" y="473.3"/><use href="#p" x="511.6" y="415.8"/><use href="#p" x="527.1" y="465.9"/><use href="#p" x="520.9" y="422.7"/><use href="#p" x="310.3" y="452.3"/><use href="#p" x="406.9" y="269.6"/><use href="#p" x="750.4" y="472.0"/><use href="#p" x="532.6" y="470.0"/><use href="#p" x="280.1" y="489.6"/><use href="#p" x="587.6" y="570.7"/><use href="#p" x="218.3" y="594.3"/><use href="#p" x="546.3" y="472.2"/><use href="#p" x="465.5" y="405.5"/><use href="#p" x="579.4" y="517.0"/><use href="#p" x="537.8" y="480.7"/><use href="#p" x="324.2" y="430.1"/><use href="#p" x="577.3" y="503.7"/><use href="#p" x="639.0" y="473.3"/><use href="#p" x="171.7" y="604.2"/><use href="#p" x="565.3" y="463.9"/><use href="#p" x="651.4" y="419.6"/><use href="#p" x="398.4" y="401.0"/><use href="#p" x="686.7" y="615.8"/><use href="#p" x="661.5" y="416.5"/><use href="#p" x="320.6" y="386.1"/><use href="#p" x="578.7" y="561.7"/><use href="#p" x="338.8" y="377.3"/><use href="#p" x="295.0" y="458.6"/><use href="#p" x="247.7" y="500.1"/><use href="#p" x="689.9" y="261.6"/><use href="#p" x="258.7" y="472.7"/><use href="#p" x="219.8" y="531.4"/><use href="#p" x="346.8" y="370.2"/><use href="#p" x="698.7" y="564.0"/><use href="#p" x="247.8" y="566.2"/><use href="#p" x="284.2" y="490.2"/><use href="#p" x="494.2" y="302.2"/><use href="#p" x="565.1" y="518.9"/><use href="#p" x="231.9" y="506.6"/><use href="#p" x="541.7" y="381.0"/><use href="#p" x="239.4" y="554.1"/><use href="#p" x="386.1" y="409.2"/><use href="#p" x="603.4" y="623.5"/><use href="#p" x="556.8" y="504.4"/><use href="#p" x="530.1" y="383.1"/><use href="#p" x="493.2" y="412.0"/><use href="#p" x="815.4" y="396.3"/><use href="#p" x="429.5" y="370.0"/><use href="#p" x="505.4" y="418.3"/><use href="#p" x="179.6" y="610.0"/><use href="#p" x="223.8" y="540.1"/><use href="#p" x="560.1" y="514.9"/><use href="#p" x="345.1" y="404.2"/><use href="#p" x="159.5" y="607.3"/><use href="#p" x="411.2" y="212.2"/><use href="#p" x="580.0" y="595.9"/><use href="#p" x="652.4" y="492.1"/><use href="#p" x="671.1" y="618.7"/><use href="#p" x="549.4" y="468.9"/><use href="#p" x="271.0" y="450.6"/><use href="#p" x="245.5" y="615.4"/><use href="#p" x="513.6" y="423.7"/><use href="#p" x="782.4" y="561.4"/><use href="#p" x="591.2" y="605.4"/><use href="#p" x="557.0" y="432.5"/><use href="#p" x="449.9" y="350.5"/><use href="#p" x="599.8" y="518.2"/><use href="#p" x="141.6" y="610.6"/><use href="#p" x="307.6" y="456.0"/><use href="#p" x="247.1" y="540.1"/><use href="#p" x="711.4" y="601.5"/><use href="#p" x="423.4" y="391.2"/><use href="#p" x="242.5" y="520.9"/><use href="#p" x="556.1" y="459.2"/><use href="#p" x="427.1" y="420.6"/><use href="#p" x="619.2" y="546.3"/><use href="#p" x="596.1" y="475.3"/><use href="#p" x="596.3" y="616.7"/><use href="#p" x="570.0" y="462.7"/><use href="#p" x="369.4" y="275.1"/><use href="#p" x="480.0" y="400.3"/><use href="#p" x="419.9" y="414.1"/><use href="#p" x="492.4" y="295.3"/><use href="#p" x="592.5" y="507.3"/><use href="#p" x="543.7" y="502.8"/><use href="#p" x="493.9" y="387.4"/><use href="#p" x="245.7" y="560.5"/><use href="#p" x="249.5" y="545.5"/><use href="#p" x="455.2" y="403.7"/><use href="#p" x="499.0" y="398.7"/><use href="#p" x="597.3" y="622.2"/><use href="#p" x="544.6" y="337.6"/><use href="#p" x="464.9" y="386.4"/><use href="#p" x="342.3" y="426.4"/><use href="#p" x="478.3" y="411.1"/><use href="#p" x="280.2" y="474.4"/><use href="#p" x="330.5" y="430.8"/><use href="#p" x="258.0" y="490.7"/><use href="#p" x="438.6" y="347.5"/><use href="#p" x="261.0" y="508.7"/><use href="#p" x="557.9" y="442.8"/><use href="#p" x="463.5" y="372.4"/><use href="#p" x="288.5" y="423.6"/><use href="#p" x="597.0" y="508.7"/><use href="#p" x="214.7" y="544.1"/><use href="#p" x="612.3" y="613.8"/><use href="#p" x="227.2" y="561.1"/><use href="#p" x="421.6" y="269.1"/><use href="#p" x="375.8" y="406.7"/><use href="#p" x="323.8" y="364.0"/><use href="#p" x="602.2" y="544.0"/><use href="#p" x="556.3" y="515.8"/><use href="#p" x="631.6" y="605.2"/><use href="#p" x="635.1" y="559.4"/><use href="#p" x="754.3" y="325.3"/><use href="#p" x="272.0" y="415.7"/><use href="#p" x="152.0" y="611.3"/><use href="#p" x="265.5" y="464.7"/><use href="#p" x="608.5" y="614.9"/><use href="#p" x="282.2" y="452.8"/><use href="#p" x="243.7" y="548.2"/><use href="#p" x="549.6" y="508.6"/><use href="#p" x="261.0" y="526.5"/><use href="#p" x="169.0" y="616.2"/><use href="#p" x="360.1" y="408.3"/><use href="#p" x="548.3" y="501.5"/><use href="#p" x="596.1" y="557.9"/><use href="#p" x="303.1" y="433.2"/><use href="#p" x="589.2" y="545.9"/><use href="#p" x="589.9" y="455.8"/><use href="#p" x="251.8" y="545.5"/><use href="#p" x="188.4" y="618.0"/><use href="#p" x="226.3" y="576.3"/><use href="#p" x="254.6" y="547.9"/><use href="#p" x="249.5" y="547.6"/><use href="#p" x="578.4" y="440.0"/><use href="#p" x="587.1" y="619.1"/><use href="#p" x="487.0" y="410.8"/><use href="#p" x="550.2" y="470.3"/><use href="#p" x="317.5" y="391.8"/><use href="#p" x="531.6" y="374.9"/><use href="#p" x="247.5" y="617.6"/><use href="#p" x="643.4" y="614.9"/><use href="#p" x="394.3" y="395.6"/><use href="#p" x="412.6" y="380.9"/><use href="#p" x="236.9" y="616.7"/><use href="#p" x="287.7" y="457.0"/><use href="#p" x="350.7" y="412.4"/><use href="#p" x="185.7" y="606.5"/><use href="#p" x="259.3" y="520.1"/><use href="#p" x="418.6" y="391.3"/><use href="#p" x="491.8" y="401.3"/><use href="#p" x="766.3" y="364.3"/><use href="#p" x="338.2" y="354.0"/><use href="#p" x="602.2" y="536.2"/><use href="#p" x="543.2" y="425.2"/><use href="#p" x="588.7" y="536.9"/><use href="#p" x="586.0" y="473.4"/><use href="#p" x="186.7" y="604.7"/><use href="#p" x="542.8" y="422.6"/><use href="#p" x="650.7" y="574.7"/><use href="#p" x="214.1" y="559.8"/><use href="#p" x="620.1" y="517.3"/><use href="#p" x="217.0" y="527.7"/><use href="#p" x="550.2" y="400.5"/><use href="#p" x="556.5" y="331.6"/><use href="#p" x="310.6" y="450.4"/><use href="#p" x="678.8" y="471.6"/><use href="#p" x="646.4" y="611.6"/><use href="#p" x="582.8" y="480.2"/><use href="#p" x="398.5" y="409.7"/><use href="#p" x="434.2" y="401.5"/><use href="#p" x="409.0" y="405.8"/><use href="#p" x="341.1" y="431.5"/><use href="#p" x="450.0" y="381.8"/><use href="#p" x="393.4" y="391.8"/><use href="#p" x="453.3" y="332.9"/><use href="#p" x="598.7" y="597.0"/><use href="#p" x="196.1" y="580.4"/><use href="#p" x="247.5" y="454.8"/><use href="#p" x="603.4" y="406.2"/><use href="#p" x="378.0" y="375.5"/><use href="#p" x="553.1" y="446.1"/><use href="#p" x="457.8" y="395.2"/><use href="#p" x="276.3" y="491.6"/><use href="#p" x="403.3" y="385.4"/><use href="#p" x="306.9" y="454.1"/><use href="#p" x="572.6" y="517.8"/><use href="#p" x="331.1" y="417.0"/><use href="#p" x="517.2" y="364.6"/><use href="#p" x="229.6" y="618.2"/><use href="#p" x="607.0" y="614.8"/><use href="#p" x="318.0" y="418.9"/><use href="#p" x="349.5" y="308.9"/><use href="#p" x="328.9" y="364.5"/><use href="#p" x="288.8" y="450.4"/><use href="#p" x="465.2" y="306.2"/><use href="#p" x="731.5" y="578.4"/><use href="#p" x="589.6" y="621.4"/><use href="#p" x="603.0" y="492.8"/><use href="#p" x="485.0" y="415.8"/><use href="#p" x="338.0" y="426.3"/><use href="#p" x="534.8" y="430.1"/><use href="#p" x="565.6" y="429.0"/><use href="#p" x="623.7" y="495.8"/><use href="#p" x="443.3" y="403.6"/><use href="#p" x="619.6" y="556.4"/><use href="#p" x="236.3" y="541.3"/><use href="#p" x="558.5" y="492.8"/><use href="#p" x="550.6" y="414.2"/><use href="#p" x="518.8" y="434.4"/><use href="#p" x="376.5" y="400.2"/><use href="#p" x="331.4" y="379.7"/><use href="#p" x="451.5" y="316.6"/><use href="#p" x="598.4" y="593.1"/><use href="#p" x="450.7" y="381.6"/><use href="#p" x="666.6" y="510.5"/><use href="#p" x="650.5" y="603.1"/><use href="#p" x="171.0" y="618.1"/><use href="#p" x="423.1" y="420.6"/><use href="#p" x="547.5" y="404.9"/><use href="#p" x="463.5" y="409.1"/><use href="#p" x="591.1" y="584.4"/><use href="#p" x="414.7" y="408.6"/><use href="#p" x="338.5" y="352.6"/><use href="#p" x="612.6" y="546.1"/><use href="#p" x="377.9" y="405.6"/><use href="#p" x="429.9" y="381.5"/><use href="#p" x="558.1" y="502.6"/><use href="#p" x="557.3" y="622.2"/><use href="#p" x="540.8" y="437.7"/><use href="#p" x="639.4" y="434.1"/><use href="#p" x="552.3" y="490.2"/><use href="#p" x="585.1" y="582.8"/><use href="#p" x="575.0" y="452.6"/><use href="#p" x="547.1" y="410.2"/><use href="#p" x="594.5" y="558.1"/><use href="#p" x="603.4" y="554.7"/><use href="#p" x="288.0" y="480.4"/><use href="#p" x="338.2" y="426.4"/><use href="#p" x="199.9" y="592.4"/><use href="#p" x="459.3" y="395.6"/><use href="#p" x="573.4" y="550.3"/><use href="#p" x="362.6" y="420.8"/><use href="#p" x="368.0" y="418.4"/><use href="#p" x="374.4" y="305.2"/><use href="#p" x="707.9" y="534.0"/><use href="#p" x="786.3" y="443.6"/><use href="#p" x="591.1" y="559.5"/><use href="#p" x="431.1" y="296.8"/><use href="#p" x="537.2" y="473.5"/><use href="#p" x="203.4" y="613.1"/><use href="#p" x="251.4" y="519.4"/><use href="#p" x="616.8" y="613.9"/><use href="#p" x="586.1" y="571.6"/><use href="#p" x="485.4" y="401.1"/><use href="#p" x="368.8" y="403.9"/><use href="#p" x="494.6" y="375.2"/><use href="#p" x="629.4" y="603.8"/><use href="#p" x="685.8" y="543.2"/><use href="#p" x="268.9" y="488.9"/><use href="#p" x="647.3" y="534.3"/><use href="#p" x="319.0" y="412.2"/><use href="#p" x="846.3" y="498.4"/><use href="#p" x="565.3" y="417.3"/><use href="#p" x="593.1" y="457.7"/><use href="#p" x="176.7" y="611.3"/><use href="#p" x="565.7" y="358.4"/><use href="#p" x="405.4" y="270.6"/><use href="#p" x="463.6" y="357.1"/><use href="#p" x="584.0" y="477.2"/><use href="#p" x="497.2" y="359.9"/><use href="#p" x="570.0" y="615.6"/><use href="#p" x="408.4" y="271.1"/><use href="#p" x="298.9" y="422.1"/><use href="#p" x="589.0" y="609.7"/><use href="#p" x="521.1" y="393.5"/><use href="#p" x="581.1" y="593.8"/><use href="#p" x="472.4" y="372.4"/><use href="#p" x="614.2" y="496.3"/><use href="#p" x="246.7" y="458.6"/><use href="#p" x="210.9" y="622.8"/><use href="#p" x="732.4" y="390.3"/><use href="#p" x="231.7" y="517.3"/><use href="#p" x="156.1" y="622.8"/><use href="#p" x="587.3" y="474.7"/><use href="#p" x="524.2" y="440.6"/><use href="#p" x="594.2" y="482.3"/><use href="#p" x="592.6" y="580.5"/><use href="#p" x="580.5" y="591.3"/><use href="#p" x="339.0" y="360.8"/><use href="#p" x="351.0" y="412.2"/><use href="#p" x="656.2" y="598.8"/><use href="#p" x="174.1" y="568.4"/><use href="#p" x="676.5" y="536.1"/><use href="#p" x="548.5" y="363.8"/><use href="#p" x="407.4" y="296.3"/><use href="#p" x="650.7" y="624.8"/><use href="#p" x="334.9" y="424.1"/><use href="#p" x="643.3" y="580.7"/><use href="#p" x="638.6" y="624.0"/><use href="#p" x="640.6" y="567.3"/><use href="#p" x="386.1" y="400.8"/><use href="#p" x="153.5" y="607.5"/><use href="#p" x="579.3" y="432.9"/><use href="#p" x="566.7" y="471.8"/><use href="#p" x="548.3" y="495.8"/><use href="#p" x="499.3" y="235.3"/><use href="#p" x="596.5" y="534.3"/><use href="#p" x="804.3" y="442.4"/><use href="#p" x="501.7" y="425.7"/><use href="#p" x="625.7" y="494.2"/><use href="#p" x="522.1" y="443.6"/><use href="#p" x="731.5" y="604.8"/><use href="#p" x="526.8" y="475.8"/><use href="#p" x="409.9" y="384.9"/><use href="#p" x="588.4" y="599.9"/><use href="#p" x="478.2" y="390.0"/><use href="#p" x="584.2" y="571.3"/><use href="#p" x="608.9" y="546.6"/><use href="#p" x="582.5" y="567.6"/><use href="#p" x="559.3" y="410.1"/><use href="#p" x="214.7" y="547.9"/><use href="#p" x="235.5" y="577.2"/><use href="#p" x="733.3" y="512.5"/><use href="#p" x="658.0" y="572.5"/><use href="#p" x="601.2" y="623.3"/><use href="#p" x="592.9" y="548.7"/><use href="#p" x="575.7" y="618.4"/><use href="#p" x="230.0" y="485.0"/><use href="#p" x="423.8" y="392.0"/><use href="#p" x="287.3" y="461.1"/><use href="#p" x="345.5" y="332.3"/><use href="#p" x="314.7" y="428.8"/><use href="#p" x="581.8" y="338.0"/><use href="#p" x="208.6" y="616.6"/><use href="#p" x="667.3" y="517.6"/><use href="#p" x="212.5" y="621.0"/><use href="#p" x="575.3" y="505.5"/><use href="#p" x="827.4" y="310.3"/><use href="#p" x="179.4" y="597.9"/><use href="#p" x="530.6" y="450.8"/><use href="#p" x="624.5" y="553.3"/><use href="#p" x="427.8" y="403.2"/><use href="#p" x="261.5" y="495.4"/><use href="#p" x="253.3" y="536.4"/><use href="#p" x="369.2" y="370.7"/><use href="#p" x="546.8" y="408.5"/><use href="#p" x="610.5" y="596.0"/><use href="#p" x="540.8" y="339.7"/><use href="#p" x="490.4" y="421.9"/><use href="#p" x="537.5" y="480.1"/><use href="#p" x="588.5" y="504.6"/><use href="#p" x="222.3" y="617.9"/><use href="#p" x="413.0" y="357.3"/><use href="#p" x="636.5" y="526.3"/><use href="#p" x="527.4" y="463.5"/><use href="#p" x="538.2" y="367.4"/><use href="#p" x="276.3" y="502.0"/><use href="#p" x="631.5" y="478.7"/><use href="#p" x="584.8" y="477.4"/><use href="#p" x="595.2" y="526.7"/><use href="#p" x="240.6" y="514.1"/><use href="#p" x="619.9" y="534.6"/><use href="#p" x="418.6" y="401.2"/><use href="#p" x="468.2" y="321.5"/><use href="#p" x="547.4" y="308.1"/><use href="#p" x="775.6" y="355.3"/><use href="#p" x="223.5" y="542.2"/><use href="#p" x="555.2" y="623.0"/><use href="#p" x="588.8" y="565.3"/><use href="#p" x="556.9" y="487.7"/><use href="#p" x="335.4" y="349.5"/><use href="#p" x="246.0" y="526.2"/><use href="#p" x="550.3" y="345.7"/><use href="#p" x="552.3" y="434.5"/><use href="#p" x="421.9" y="239.4"/><use href="#p" x="746.5" y="488.8"/><use href="#p" x="358.4" y="400.0"/><use href="#p" x="396.3" y="319.0"/><use href="#p" x="616.8" y="548.5"/><use href="#p" x="226.3" y="619.0"/><use href="#p" x="668.6" y="529.3"/><use href="#p" x="329.2" y="408.6"/><use href="#p" x="648.2" y="344.7"/><use href="#p" x="642.7" y="578.4"/><use href="#p" x="322.4" y="420.2"/><use href="#p" x="391.8" y="398.7"/><use href="#p" x="605.4" y="480.0"/><use href="#p" x="274.2" y="506.5"/><use href="#p" x="226.7" y="523.8"/><use href="#p" x="324.2" y="430.2"/><use href="#p" x="694.6" y="543.0"/><use href="#p" x="545.0" y="445.2"/><use href="#p" x="681.0" y="488.3"/><use href="#p" x="152.7" y="606.4"/><use href="#p" x="260.6" y="491.8"/><use href="#p" x="479.5" y="410.6"/><use href="#p" x="351.9" y="355.5"/><use href="#p" x="653.7" y="530.9"/><use href="#p" x="624.3" y="435.1"/><use href="#p" x="496.2" y="415.6"/><use href="#p" x="548.1" y="440.8"/><use href="#p" x="565.1" y="476.2"/><use href="#p" x="397.9" y="401.2"/><use href="#p" x="676.8" y="551.1"/><use href="#p" x="295.9" y="390.2"/><use href="#p" x="329.8" y="431.0"/><use href="#p" x="204.0" y="589.2"/><use href="#p" x="645.4" y="551.2"/><use href="#p" x="353.6" y="363.8"/><use href="#p" x="395.8" y="335.7"/><use href="#p" x="524.8" y="433.7"/><use href="#p" x="547.2" y="467.7"/><use href="#p" x="602.9" y="581.9"/><use href="#p" x="278.4" y="456.4"/><use href="#p" x="770.5" y="570.4"/><use href="#p" x="400.4" y="407.2"/><use href="#p" x="138.2" y="609.1"/><use href="#p" x="230.5" y="557.9"/><use href="#p" x="199.5" y="563.1"/><use href="#p" x="361.5" y="412.4"/><use href="#p" x="286.2" y="464.4"/><use href="#p" x="314.0" y="419.9"/><use href="#p" x="527.2" y="420.2"/><use href="#p" x="291.1" y="485.8"/><use href="#p" x="268.0" y="514.8"/><use href="#p" x="390.5" y="391.5"/><use href="#p" x="314.4" y="439.5"/><use href="#p" x="345.7" y="428.9"/><use href="#p" x="308.5" y="430.7"/><use href="#p" x="247.8" y="620.6"/><use href="#p" x="584.4" y="569.6"/><use href="#p" x="583.4" y="529.0"/><use href="#p" x="562.0" y="619.3"/><use href="#p" x="423.1" y="400.0"/><use href="#p" x="244.8" y="512.3"/><use href="#p" x="399.8" y="383.2"/><use href="#p" x="453.4" y="306.2"/><use href="#p" x="294.6" y="455.6"/><use href="#p" x="530.9" y="443.2"/><use href="#p" x="469.1" y="375.3"/><use href="#p" x="346.2" y="386.3"/><use href="#p" x="534.5" y="335.3"/><use href="#p" x="455.2" y="402.1"/><use href="#p" x="274.5" y="457.4"/><use href="#p" x="709.8" y="572.7"/><use href="#p" x="422.0" y="383.6"/><use href="#p" x="479.8" y="415.5"/><use href="#p" x="386.1" y="370.6"/><use href="#p" x="527.6" y="403.9"/><use href="#p" x="613.0" y="620.2"/><use href="#p" x="631.0" y="455.0"/><use href="#p" x="177.2" y="606.8"/><use href="#p" x="494.0" y="347.1"/><use href="#p" x="374.1" y="371.8"/><use href="#p" x="587.7" y="610.9"/><use href="#p" x="313.2" y="379.9"/><use href="#p" x="177.6" y="595.2"/><use href="#p" x="300.2" y="426.7"/><use href="#p" x="351.9" y="414.4"/><use href="#p" x="249.6" y="528.3"/><use href="#p" x="260.1" y="502.3"/><use href="#p" x="322.2" y="435.4"/><use href="#p" x="259.9" y="535.0"/><use href="#p" x="575.2" y="416.2"/><use href="#p" x="559.6" y="489.6"/><use href="#p" x="223.5" y="589.1"/><use href="#p" x="556.7" y="621.2"/><use href="#p" x="639.7" y="570.1"/><use href="#p" x="641.8" y="526.7"/><use href="#p" x="559.7" y="513.5"/><use href="#p" x="175.2" y="604.1"/><use href="#p" x="395.3" y="366.7"/><use href="#p" x="311.0" y="449.9"/><use href="#p" x="480.5" y="413.4"/><use href="#p" x="589.3" y="408.4"/><use href="#p" x="393.1" y="363.4"/><use href="#p" x="611.8" y="615.0"/><use href="#p" x="220.3" y="532.0"/><use href="#p" x="591.0" y="576.9"/><use href="#p" x="389.5" y="405.9"/><use href="#p" x="277.6" y="486.5"/><use href="#p" x="537.9" y="403.3"/><use href="#p" x="530.3" y="425.1"/><use href="#p" x="579.1" y="568.3"/><use href="#p" x="538.7" y="360.4"/><use href="#p" x="191.8" y="616.1"/><use href="#p" x="512.9" y="404.1"/><use href="#p" x="434.3" y="411.9"/><use href="#p" x="496.9" y="378.5"/><use href="#p" x="678.3" y="551.4"/><use href="#p" x="231.7" y="550.3"/><use href="#p" x="352.4" y="421.8"/><use href="#p" x="522.2" y="444.6"/><use href="#p" x="581.7" y="553.7"/><use href="#p" x="591.0" y="605.7"/><use href="#p" x="445.7" y="404.8"/><use href="#p" x="623.9" y="583.1"/><use href="#p" x="383.3" y="381.6"/><use href="#p" x="625.3" y="623.0"/><use href="#p" x="562.2" y="461.6"/><use href="#p" x="640.9" y="582.5"/><use href="#p" x="324.7" y="433.9"/><use href="#p" x="519.2" y="391.2"/><use href="#p" x="349.1" y="421.2"/><use href="#p" x="545.2" y="482.4"/><use href="#p" x="490.4" y="420.1"/><use href="#p" x="229.9" y="618.9"/><use href="#p" x="557.6" y="483.3"/><use href="#p" x="274.2" y="468.1"/><use href="#p" x="520.2" y="441.7"/><use href="#p" x="461.2" y="298.8"/><use href="#p" x="419.5" y="410.5"/><use href="#p" x="211.8" y="613.2"/><use href="#p" x="299.4" y="422.8"/><use href="#p" x="468.2" y="351.6"/><use href="#p" x="245.2" y="539.8"/><use href="#p" x="376.6" y="362.6"/><use href="#p" x="626.6" y="598.9"/><use href="#p" x="256.9" y="443.0"/><use href="#p" x="565.7" y="406.9"/><use href="#p" x="414.5" y="307.4"/><use href="#p" x="524.4" y="474.1"/><use href="#p" x="175.5" y="620.3"/><use href="#p" x="583.8" y="512.9"/><use href="#p" x="539.5" y="384.4"/><use href="#p" x="347.5" y="430.5"/><use href="#p" x="327.2" y="421.7"/><use href="#p" x="186.2" y="597.7"/><use href="#p" x="178.2" y="621.5"/><use href="#p" x="574.2" y="554.4"/><use href="#p" x="572.4" y="540.6"/><use href="#p" x="451.9" y="316.0"/><use href="#p" x="253.6" y="507.5"/><use href="#p" x="551.3" y="497.8"/><use href="#p" x="230.2" y="571.8"/><use href="#p" x="559.1" y="478.1"/><use href="#p" x="249.0" y="503.6"/><use href="#p" x="254.0" y="498.2"/><use href="#p" x="555.1" y="511.8"/><use href="#p" x="184.5" y="607.0"/><use href="#p" x="482.4" y="414.0"/><use href="#p" x="321.4" y="428.8"/><use href="#p" x="237.4" y="550.6"/><use href="#p" x="539.4" y="450.1"/><use href="#p" x="190.7" y="608.6"/><use href="#p" x="492.2" y="343.8"/><use href="#p" x="494.5" y="414.4"/><use href="#p" x="378.4" y="400.9"/><use href="#p" x="233.7" y="559.2"/><use href="#p" x="613.4" y="622.2"/><use href="#p" x="623.8" y="559.5"/><use href="#p" x="430.0" y="417.1"/><use href="#p" x="662.9" y="468.7"/><use href="#p" x="194.6" y="622.7"/><use href="#p" x="244.5" y="566.1"/><use href="#p" x="609.8" y="594.2"/><use href="#p" x="276.3" y="457.0"/><use href="#p" x="195.7" y="619.0"/><use href="#p" x="577.9" y="319.3"/><use href="#p" x="343.9" y="390.2"/><use href="#p" x="543.9" y="408.5"/><use href="#p" x="301.0" y="469.9"/><use href="#p" x="449.6" y="383.9"/><use href="#p" x="271.7" y="489.0"/><use href="#p" x="452.3" y="315.5"/><use href="#p" x="594.7" y="536.6"/><use href="#p" x="461.7" y="369.3"/><use href="#p" x="462.7" y="328.5"/><use href="#p" x="394.3" y="372.3"/><use href="#p" x="263.0" y="533.8"/><use href="#p" x="431.2" y="387.9"/><use href="#p" x="403.9" y="396.9"/><use href="#p" x="456.1" y="392.3"/><use href="#p" x="603.0" y="562.7"/><use href="#p" x="267.2" y="505.0"/><use href="#p" x="324.6" y="423.8"/><use href="#p" x="244.4" y="558.7"/><use href="#p" x="610.4" y="593.3"/><use href="#p" x="521.5" y="363.4"/><use href="#p" x="229.9" y="585.4"/><use href="#p" x="422.3" y="396.1"/><use href="#p" x="495.4" y="358.4"/><use href="#p" x="545.3" y="388.6"/><use href="#p" x="377.7" y="397.2"/><use href="#p" x="620.6" y="442.9"/><use href="#p" x="323.8" y="370.1"/><use href="#p" x="458.2" y="388.2"/><use href="#p" x="590.5" y="410.1"/><use href="#p" x="585.1" y="582.3"/><use href="#p" x="490.9" y="407.6"/><use href="#p" x="297.9" y="462.7"/><use href="#p" x="536.9" y="471.5"/><use href="#p" x="594.0" y="574.8"/><use href="#p" x="579.7" y="498.3"/><use href="#p" x="536.8" y="393.2"/><use href="#p" x="584.2" y="469.1"/><use href="#p" x="613.7" y="408.5"/><use href="#p" x="149.8" y="618.9"/><use href="#p" x="521.7" y="441.9"/><use href="#p" x="579.2" y="619.8"/><use href="#p" x="598.3" y="570.0"/><use href="#p" x="704.6" y="489.1"/><use href="#p" x="304.1" y="342.0"/><use href="#p" x="584.5" y="353.7"/><use href="#p" x="795.3" y="453.5"/><use href="#p" x="301.5" y="460.4"/><use href="#p" x="410.9" y="406.6"/><use href="#p" x="415.4" y="385.9"/><use href="#p" x="640.0" y="433.4"/><use href="#p" x="527.5" y="392.1"/><use href="#p" x="385.2" y="186.3"/><use href="#p" x="283.9" y="470.6"/><use href="#p" x="613.9" y="600.0"/><use href="#p" x="436.7" y="417.2"/><use href="#p" x="537.9" y="452.4"/><use href="#p" x="223.9" y="583.3"/><use href="#p" x="236.4" y="557.5"/><use href="#p" x="547.4" y="383.7"/><use href="#p" x="667.4" y="611.5"/><use href="#p" x="304.9" y="457.0"/><use href="#p" x="691.3" y="564.8"/><use href="#p" x="560.3" y="401.6"/><use href="#p" x="591.7" y="505.1"/><use href="#p" x="428.0" y="411.4"/><use href="#p" x="551.9" y="441.1"/><use href="#p" x="776.5" y="463.4"/><use href="#p" x="604.6" y="591.9"/><use href="#p" x="361.1" y="406.4"/><use href="#p" x="194.5" y="593.3"/><use href="#p" x="548.6" y="451.3"/><use href="#p" x="593.5" y="524.2"/><use href="#p" x="155.4" y="597.6"/><use href="#p" x="173.0" y="602.5"/><use href="#p" x="642.4" y="537.6"/><use href="#p" x="625.4" y="582.8"/><use href="#p" x="363.9" y="392.6"/><use href="#p" x="324.8" y="279.4"/><use href="#p" x="272.3" y="481.9"/><use href="#p" x="237.7" y="474.2"/><use href="#p" x="340.7" y="404.8"/><use href="#p" x="527.1" y="458.0"/><use href="#p" x="550.1" y="410.1"/><use href="#p" x="274.0" y="509.6"/><use href="#p" x="554.0" y="360.0"/><use href="#p" x="499.3" y="389.9"/><use href="#p" x="254.5" y="507.4"/><use href="#p" x="341.7" y="411.5"/><use href="#p" x="517.4" y="430.1"/><use href="#p" x="562.1" y="618.3"/><use href="#p" x="662.5" y="541.9"/><use href="#p" x="548.3" y="429.1"/><use href="#p" x="579.2" y="537.8"/><use href="#p" x="556.3" y="440.4"/><use href="#p" x="249.2" y="527.4"/><use href="#p" x="291.3" y="469.2"/><use href="#p" x="447.1" y="392.8"/><use href="#p" x="414.8" y="413.5"/><use href="#p" x="181.9" y="611.8"/><use href="#p" x="603.1" y="619.3"/><use href="#p" x="527.4" y="475.9"/><use href="#p" x="306.0" y="438.8"/><use href="#p" x="228.5" y="588.4"/><use href="#p" x="563.1" y="448.9"/><use href="#p" x="543.1" y="468.8"/><use href="#p" x="540.4" y="378.4"/><use href="#p" x="397.1" y="385.0"/><use href="#p" x="599.0" y="556.9"/><use href="#p" x="312.3" y="439.1"/><use href="#p" x="319.1" y="426.2"/><use href="#p" x="546.5" y="483.0"/><use href="#p" x="641.8" y="520.8"/><use href="#p" x="464.0" y="349.8"/><use href="#p" x="709.1" y="526.4"/><use href="#p" x="634.8" y="604.3"/><use href="#p" x="218.0" y="516.8"/><use href="#p" x="564.7" y="516.8"/><use href="#p" x="255.1" y="486.5"/><use href="#p" x="597.4" y="476.6"/><use href="#p" x="571.3" y="76.4"/><use href="#p" x="550.7" y="508.4"/><use href="#p" x="594.9" y="585.2"/><use href="#p" x="365.8" y="369.5"/><use href="#p" x="575.0" y="418.6"/><use href="#p" x="559.2" y="428.1"/><use href="#p" x="529.6" y="444.6"/><use href="#p" x="576.0" y="620.1"/><use href="#p" x="712.3" y="389.2"/><use href="#p" x="723.6" y="524.3"/><use href="#p" x="515.2" y="435.6"/><use href="#p" x="444.0" y="406.7"/><use href="#p" x="395.6" y="187.4"/><use href="#p" x="401.6" y="378.3"/><use href="#p" x="401.3" y="341.0"/><use href="#p" x="235.1" y="622.2"/><use href="#p" x="260.9" y="520.3"/><use href="#p" x="422.5" y="368.8"/><use href="#p" x="220.9" y="587.1"/><use href="#p" x="620.8" y="487.9"/><use href="#p" x="528.6" y="474.9"/><use href="#p" x="539.2" y="474.1"/><use href="#p" x="279.3" y="495.3"/><use href="#p" x="378.4" y="311.6"/><use href="#p" x="556.0" y="493.9"/><use href="#p" x="211.4" y="598.5"/><use href="#p" x="393.1" y="410.7"/><use href="#p" x="483.7" y="416.6"/><use href="#p" x="288.5" y="479.0"/><use href="#p" x="299.4" y="469.0"/><use href="#p" x="386.1" y="395.3"/><use href="#p" x="366.4" y="419.2"/><use href="#p" x="686.4" y="306.1"/><use href="#p" x="193.6" y="617.3"/><use href="#p" x="462.3" y="410.7"/><use href="#p" x="636.4" y="362.4"/><use href="#p" x="330.9" y="397.9"/><use href="#p" x="551.7" y="493.1"/><use href="#p" x="569.3" y="540.1"/><use href="#p" x="529.5" y="406.9"/><use href="#p" x="645.9" y="502.7"/><use href="#p" x="580.2" y="562.9"/><use href="#p" x="626.4" y="608.7"/><use href="#p" x="549.2" y="467.4"/><use href="#p" x="257.4" y="530.3"/><use href="#p" x="321.7" y="387.6"/><use href="#p" x="313.4" y="447.2"/><use href="#p" x="253.7" y="513.0"/><use href="#p" x="622.0" y="595.9"/><use href="#p" x="492.0" y="411.7"/><use href="#p" x="297.3" y="474.8"/><use href="#p" x="553.5" y="508.0"/><use href="#p" x="570.9" y="539.1"/><use href="#p" x="421.5" y="400.6"/><use href="#p" x="543.2" y="436.3"/><use href="#p" x="307.4" y="432.8"/><use href="#p" x="600.7" y="450.8"/><use href="#p" x="660.1" y="545.1"/><use href="#p" x="499.0" y="409.5"/><use href="#p" x="601.5" y="575.1"/><use href="#p" x="607.8" y="613.5"/><use href="#p" x="262.8" y="530.4"/><use href="#p" x="590.6" y="457.1"/><use href="#p" x="580.2" y="596.2"/><use href="#p" x="373.9" y="193.7"/><use href="#p" x="467.9" y="409.3"/><use href="#p" x="466.6" y="355.3"/><use href="#p" x="652.0" y="437.4"/><use href="#p" x="539.2" y="420.3"/><use href="#p" x="730.0" y="533.5"/><use href="#p" x="583.2" y="521.4"/><use href="#p" x="232.5" y="521.2"/><use href="#p" x="612.6" y="523.9"/><use href="#p" x="291.9" y="455.1"/><use href="#p" x="524.6" y="440.9"/><use href="#p" x="580.5" y="621.5"/><use href="#p" x="383.6" y="407.2"/><use href="#p" x="730.0" y="617.4"/><use href="#p" x="602.8" y="604.6"/><use href="#p" x="262.7" y="513.2"/><use href="#p" x="421.0" y="371.6"/><use href="#p" x="406.0" y="386.9"/><use href="#p" x="186.4" y="606.3"/><use href="#p" x="224.7" y="584.1"/><use href="#p" x="454.4" y="344.2"/><use href="#p" x="229.3" y="569.8"/><use href="#p" x="632.0" y="575.0"/><use href="#p" x="577.3" y="553.3"/><use href="#p" x="641.9" y="455.3"/><use href="#p" x="334.8" y="321.3"/><use href="#p" x="602.7" y="589.0"/><use href="#p" x="613.6" y="582.2"/><use href="#p" x="497.7" y="427.8"/><use href="#p" x="242.8" y="566.8"/><use href="#p" x="359.1" y="355.6"/><use href="#p" x="273.1" y="494.7"/><use href="#p" x="175.7" y="613.6"/><use href="#p" x="350.6" y="387.8"/><use href="#p" x="577.9" y="619.0"/><use href="#p" x="242.4" y="518.1"/><use href="#p" x="454.8" y="345.5"/><use href="#p" x="529.1" y="452.3"/><use href="#p" x="586.6" y="608.8"/><use href="#p" x="173.0" y="621.5"/><use href="#p" x="591.8" y="539.8"/><use href="#p" x="131.3" y="594.3"/><use href="#p" x="683.3" y="347.4"/><use href="#p" x="265.7" y="523.1"/><use href="#p" x="255.6" y="557.3"/><use href="#p" x="233.1" y="581.5"/><use href="#p" x="347.8" y="382.1"/><use href="#p" x="332.1" y="396.9"/><use href="#p" x="566.8" y="616.5"/><use href="#p" x="197.2" y="570.2"/><use href="#p" x="177.8" y="605.8"/><use href="#p" x="330.3" y="312.2"/><use href="#p" x="509.9" y="435.8"/><use href="#p" x="657.0" y="419.4"/><use href="#p" x="588.0" y="620.7"/><use href="#p" x="490.5" y="420.1"/><use href="#p" x="536.9" y="465.4"/><use href="#p" x="603.1" y="519.1"/><use href="#p" x="377.5" y="413.9"/><use href="#p" x="612.6" y="528.4"/><use href="#p" x="600.4" y="553.7"/><use href="#p" x="287.2" y="462.0"/><use href="#p" x="449.3" y="404.1"/><use href="#p" x="483.4" y="412.3"/><use href="#p" x="548.8" y="413.8"/><use href="#p" x="502.1" y="377.6"/><use href="#p" x="581.5" y="568.8"/><use href="#p" x="358.6" y="334.2"/><use href="#p" x="317.5" y="247.1"/><use href="#p" x="559.5" y="448.9"/><use href="#p" x="437.7" y="394.4"/><use href="#p" x="328.3" y="395.6"/><use href="#p" x="533.6" y="403.3"/><use href="#p" x="282.6" y="492.7"/><use href="#p" x="385.3" y="411.8"/><use href="#p" x="220.4" y="576.3"/><use href="#p" x="603.1" y="530.5"/><use href="#p" x="500.0" y="419.9"/><use href="#p" x="570.4" y="454.8"/><use href="#p" x="427.9" y="383.5"/><use href="#p" x="374.5" y="344.9"/><use href="#p" x="214.5" y="598.2"/><use href="#p" x="340.9" y="423.6"/><use href="#p" x="254.2" y="558.0"/><use href="#p" x="570.4" y="448.7"/><use href="#p" x="302.8" y="385.0"/><use href="#p" x="556.4" y="488.8"/><use href="#p" x="218.8" y="595.3"/><use href="#p" x="724.1" y="604.2"/><use href="#p" x="493.3" y="419.3"/><use href="#p" x="424.4" y="398.9"/><use href="#p" x="685.2" y="438.9"/><use href="#p" x="503.0" y="426.3"/><use href="#p" x="598.0" y="602.0"/><use href="#p" x="461.4" y="411.8"/><use href="#p" x="472.5" y="377.5"/><use href="#p" x="576.4" y="339.7"/><use href="#p" x="614.8" y="593.1"/><use href="#p" x="570.8" y="533.5"/><use href="#p" x="251.3" y="500.2"/><use href="#p" x="570.7" y="498.1"/><use href="#p" x="440.3" y="379.1"/><use href="#p" x="248.7" y="513.2"/><use href="#p" x="610.4" y="598.3"/><use href="#p" x="246.4" y="539.3"/><use href="#p" x="429.4" y="218.0"/><use href="#p" x="439.5" y="318.3"/><use href="#p" x="367.3" y="370.8"/><use href="#p" x="256.3" y="480.1"/><use href="#p" x="549.6" y="497.4"/><use href="#p" x="586.2" y="469.9"/><use href="#p" x="569.0" y="500.0"/><use href="#p" x="291.3" y="458.7"/><use href="#p" x="518.2" y="417.9"/><use href="#p" x="655.5" y="321.2"/><use href="#p" x="250.9" y="563.6"/><use href="#p" x="465.2" y="308.4"/><use href="#p" x="521.1" y="439.4"/><use href="#p" x="397.5" y="411.0"/><use href="#p" x="262.6" y="422.3"/><use href="#p" x="179.4" y="609.1"/><use href="#p" x="206.7" y="589.4"/><use href="#p" x="728.3" y="442.7"/><use href="#p" x="219.4" y="619.6"/><use href="#p" x="540.2" y="384.7"/><use href="#p" x="304.9" y="405.7"/><use href="#p" x="469.2" y="287.2"/><use href="#p" x="178.9" y="621.8"/><use href="#p" x="489.5" y="394.8"/><use href="#p" x="598.4" y="602.5"/><use href="#p" x="240.3" y="565.2"/><use href="#p" x="378.8" y="388.0"/><use href="#p" x="588.7" y="396.4"/><use href="#p" x="442.4" y="396.5"/><use href="#p" x="607.9" y="570.5"/><use href="#p" x="510.1" y="425.2"/><use href="#p" x="592.2" y="429.9"/><use href="#p" x="307.5" y="439.8"/><use href="#p" x="393.9" y="346.6"/><use href="#p" x="559.2" y="464.6"/><use href="#p" x="548.2" y="471.1"/><use href="#p" x="582.2" y="436.3"/><use href="#p" x="407.9" y="297.3"/><use href="#p" x="631.6" y="615.6"/><use href="#p" x="551.5" y="326.3"/><use href="#p" x="563.3" y="619.0"/><use href="#p" x="654.7" y="507.0"/><use href="#p" x="324.3" y="184.4"/><use href="#p" x="527.6" y="407.1"/><use href="#p" x="557.4" y="393.2"/><use href="#p" x="753.4" y="498.4"/><use href="#p" x="278.7" y="458.2"/><use href="#p" x="359.5" y="410.3"/><use href="#p" x="511.8" y="405.1"/><use href="#p" x="532.2" y="477.3"/><use href="#p" x="592.9" y="520.0"/><use href="#p" x="540.0" y="438.2"/><use href="#p" x="292.8" y="449.2"/><use href="#p" x="570.9" y="518.7"/><use href="#p" x="319.0" y="425.2"/><use href="#p" x="581.8" y="598.5"/><use href="#p" x="242.4" y="621.8"/><use href="#p" x="454.0" y="388.0"/><use href="#p" x="522.0" y="423.4"/><use href="#p" x="586.5" y="487.4"/><use href="#p" x="414.0" y="409.7"/><use href="#p" x="606.6" y="568.6"/><use href="#p" x="446.2" y="365.4"/><use href="#p" x="489.4" y="415.2"/><use href="#p" x="437.4" y="372.0"/><use href="#p" x="670.6" y="585.2"/><use href="#p" x="280.8" y="466.8"/><use href="#p" x="589.1" y="577.4"/><use href="#p" x="389.6" y="336.6"/><use href="#p" x="290.2" y="462.6"/><use href="#p" x="250.1" y="532.4"/><use href="#p" x="475.3" y="329.3"/><use href="#p" x="387.0" y="217.0"/><use href="#p" x="578.4" y="412.3"/><use href="#p" x="423.3" y="374.9"/><use href="#p" x="327.7" y="402.3"/><use href="#p" x="587.4" y="623.5"/><use href="#p" x="519.4" y="422.0"/><use href="#p" x="477.0" y="401.2"/><use href="#p" x="417.9" y="395.5"/><use href="#p" x="586.0" y="605.9"/><use href="#p" x="417.2" y="409.1"/><use href="#p" x="567.0" y="489.6"/><use href="#p" x="664.3" y="568.0"/><use href="#p" x="674.1" y="530.6"/><use href="#p" x="329.7" y="435.4"/><use href="#p" x="598.2" y="513.5"/><use href="#p" x="629.9" y="573.1"/><use href="#p" x="163.3" y="614.5"/><use href="#p" x="240.3" y="614.6"/><use href="#p" x="410.6" y="394.5"/><use href="#p" x="562.3" y="516.0"/><use href="#p" x="203.4" y="613.8"/><use href="#p" x="603.1" y="567.7"/><use href="#p" x="777.4" y="426.6"/><use href="#p" x="298.2" y="461.5"/><use href="#p" x="551.9" y="431.2"/><use href="#p" x="162.5" y="574.2"/><use href="#p" x="334.8" y="373.1"/><use href="#p" x="284.1" y="483.9"/><use href="#p" x="313.5" y="216.0"/><use href="#p" x="383.5" y="391.8"/><use href="#p" x="392.2" y="395.5"/><use href="#p" x="351.9" y="428.1"/><use href="#p" x="414.0" y="301.4"/><use href="#p" x="562.9" y="356.2"/><use href="#p" x="507.9" y="431.7"/><use href="#p" x="202.3" y="541.1"/><use href="#p" x="652.4" y="592.0"/><use href="#p" x="431.1" y="299.3"/><use href="#p" x="270.7" y="505.4"/><use href="#p" x="597.1" y="593.5"/><use href="#p" x="704.8" y="563.2"/><use href="#p" x="751.3" y="564.4"/><use href="#p" x="301.3" y="415.7"/><use href="#p" x="653.3" y="608.3"/><use href="#p" x="516.1" y="430.1"/><use href="#p" x="580.8" y="543.9"/><use href="#p" x="200.1" y="591.6"/><use href="#p" x="598.6" y="594.6"/><use href="#p" x="612.8" y="550.0"/><use href="#p" x="411.0" y="393.4"/><use href="#p" x="521.2" y="332.6"/><use href="#p" x="579.5" y="523.1"/><use href="#p" x="545.4" y="416.8"/><use href="#p" x="358.3" y="418.4"/><use href="#p" x="617.1" y="360.5"/><use href="#p" x="535.7" y="446.2"/><use href="#p" x="216.9" y="522.1"/><use href="#p" x="317.9" y="422.7"/><use href="#p" x="494.1" y="349.2"/><use href="#p" x="616.0" y="567.7"/><use href="#p" x="302.4" y="387.3"/><use href="#p" x="299.7" y="370.3"/><use href="#p" x="627.2" y="217.0"/><use href="#p" x="251.0" y="565.2"/><use href="#p" x="541.7" y="433.7"/><use href="#p" x="454.5" y="405.0"/><use href="#p" x="430.3" y="254.1"/><use href="#p" x="542.1" y="212.2"/><use href="#p" x="608.6" y="402.1"/><use href="#p" x="427.2" y="390.0"/><use href="#p" x="612.1" y="597.1"/><use href="#p" x="431.3" y="368.5"/><use href="#p" x="584.4" y="528.6"/><use href="#p" x="360.3" y="399.2"/><use href="#p" x="586.6" y="619.5"/><use href="#p" x="581.7" y="603.4"/><use href="#p" x="251.4" y="624.3"/><use href="#p" x="594.3" y="464.8"/><use href="#p" x="223.8" y="515.1"/><use href="#p" x="474.2" y="412.5"/><use href="#p" x="582.5" y="463.8"/><use href="#p" x="605.3" y="483.5"/><use href="#p" x="222.2" y="501.9"/><use href="#p" x="515.2" y="419.7"/><use href="#p" x="559.3" y="473.5"/><use href="#p" x="516.8" y="385.7"/><use href="#p" x="513.2" y="432.6"/><use href="#p" x="561.3" y="465.7"/><use href="#p" x="228.6" y="578.1"/><use href="#p" x="590.2" y="583.4"/><use href="#p" x="516.9" y="423.5"/><use href="#p" x="598.9" y="564.6"/><use href="#p" x="304.1" y="455.1"/><use href="#p" x="493.1" y="390.2"/><use href="#p" x="321.5" y="376.6"/><use href="#p" x="272.5" y="502.8"/><use href="#p" x="653.1" y="454.1"/><use href="#p" x="341.6" y="414.3"/><use href="#p" x="305.4" y="429.6"/><use href="#p" x="575.1" y="618.4"/><use href="#p" x="588.2" y="615.7"/><use href="#p" x="467.7" y="293.5"/><use href="#p" x="217.1" y="568.7"/><use href="#p" x="239.6" y="564.6"/><use href="#p" x="639.2" y="581.3"/><use href="#p" x="676.6" y="393.0"/><use href="#p" x="569.1" y="541.8"/><use href="#p" x="423.6" y="410.1"/><use href="#p" x="211.7" y="620.2"/><use href="#p" x="547.9" y="457.2"/><use href="#p" x="538.4" y="393.4"/><use href="#p" x="270.6" y="514.7"/><use href="#p" x="299.4" y="456.8"/><use href="#p" x="176.1" y="609.8"/><use href="#p" x="417.5" y="285.2"/><use href="#p" x="529.1" y="392.0"/><use href="#p" x="518.1" y="436.8"/><use href="#p" x="468.6" y="354.3"/><use href="#p" x="533.8" y="455.9"/><use href="#p" x="524.8" y="462.8"/><use href="#p" x="290.6" y="478.4"/><use href="#p" x="269.8" y="480.6"/><use href="#p" x="536.8" y="462.6"/><use href="#p" x="671.9" y="590.2"/><use href="#p" x="600.7" y="503.0"/><use href="#p" x="389.4" y="412.8"/><use href="#p" x="487.0" y="402.6"/><use href="#p" x="238.5" y="619.9"/><use href="#p" x="424.9" y="400.9"/><use href="#p" x="275.6" y="469.9"/><use href="#p" x="176.9" y="613.4"/><use href="#p" x="611.5" y="605.9"/><use href="#p" x="352.9" y="412.0"/><use href="#p" x="589.4" y="611.9"/><use href="#p" x="349.3" y="243.5"/><use href="#p" x="399.0" y="388.9"/><use href="#p" x="594.4" y="431.3"/><use href="#p" x="315.7" y="274.6"/><use href="#p" x="575.0" y="624.7"/><use href="#p" x="268.3" y="477.4"/><use href="#p" x="303.7" y="445.5"/><use href="#p" x="289.3" y="480.2"/><use href="#p" x="665.8" y="521.4"/><use href="#p" x="522.8" y="350.1"/><use href="#p" x="504.9" y="430.1"/><use href="#p" x="582.1" y="500.0"/><use href="#p" x="306.3" y="457.2"/><use href="#p" x="479.4" y="415.4"/><use href="#p" x="233.2" y="529.9"/><use href="#p" x="557.8" y="503.9"/><use href="#p" x="213.4" y="589.8"/><use href="#p" x="645.3" y="470.4"/><use href="#p" x="180.5" y="599.0"/><use href="#p" x="331.5" y="384.2"/><use href="#p" x="349.9" y="416.5"/><use href="#p" x="391.7" y="410.5"/><use href="#p" x="265.0" y="500.5"/><use href="#p" x="599.9" y="606.0"/><use href="#p" x="611.8" y="549.6"/><use href="#p" x="676.8" y="586.2"/><use href="#p" x="713.7" y="523.2"/><use href="#p" x="249.5" y="526.9"/><use href="#p" x="630.3" y="467.0"/><use href="#p" x="410.2" y="405.5"/><use href="#p" x="796.2" y="359.5"/><use href="#p" x="351.4" y="387.9"/><use href="#p" x="534.1" y="434.9"/><use href="#p" x="196.3" y="594.5"/><use href="#p" x="524.6" y="462.0"/><use href="#p" x="612.1" y="531.2"/><use href="#p" x="487.9" y="410.8"/><use href="#p" x="606.4" y="603.9"/><use href="#p" x="386.3" y="370.3"/><use href="#p" x="355.6" y="402.9"/><use href="#p" x="214.8" y="619.2"/><use href="#p" x="180.3" y="553.3"/><use href="#p" x="575.3" y="416.0"/><use href="#p" x="367.8" y="398.2"/><use href="#p" x="582.0" y="485.5"/><use href="#p" x="416.7" y="414.3"/><use href="#p" x="402.9" y="342.5"/><use href="#p" x="337.4" y="315.5"/><use href="#p" x="316.5" y="402.1"/><use href="#p" x="302.9" y="461.4"/><use href="#p" x="581.8" y="424.8"/><use href="#p" x="388.6" y="399.1"/><use href="#p" x="742.0" y="476.0"/><use href="#p" x="351.1" y="421.7"/><use href="#p" x="476.3" y="366.9"/><use href="#p" x="523.8" y="434.9"/><use href="#p" x="416.0" y="419.9"/><use href="#p" x="575.2" y="532.7"/><use href="#p" x="615.8" y="576.5"/><use href="#p" x="559.0" y="489.1"/><use href="#p" x="657.8" y="521.8"/><use href="#p" x="437.4" y="410.7"/><use href="#p" x="233.0" y="622.9"/><use href="#p" x="511.4" y="428.4"/><use href="#p" x="596.0" y="603.1"/><use href="#p" x="663.2" y="543.2"/><use href="#p" x="576.3" y="414.1"/><use href="#p" x="386.5" y="387.5"/><use href="#p" x="506.3" y="419.8"/><use href="#p" x="220.6" y="503.7"/><use href="#p" x="597.3" y="315.1"/><use href="#p" x="503.0" y="419.4"/><use href="#p" x="562.0" y="621.0"/><use href="#p" x="381.9" y="402.6"/><use href="#p" x="563.1" y="323.1"/><use href="#p" x="329.7" y="364.8"/><use href="#p" x="652.7" y="603.8"/><use href="#p" x="460.4" y="411.4"/><use href="#p" x="281.4" y="485.8"/><use href="#p" x="591.2" y="474.2"/><use href="#p" x="429.0" y="413.6"/><use href="#p" x="197.5" y="589.3"/><use href="#p" x="242.4" y="615.7"/><use href="#p" x="301.5" y="463.4"/><use href="#p" x="648.7" y="574.9"/><use href="#p" x="232.3" y="571.9"/><use href="#p" x="440.5" y="374.9"/><use href="#p" x="355.3" y="410.9"/><use href="#p" x="866.4" y="554.5"/><use href="#p" x="596.4" y="617.2"/><use href="#p" x="353.3" y="198.5"/><use href="#p" x="512.8" y="437.4"/><use href="#p" x="691.5" y="621.8"/><use href="#p" x="220.8" y="573.5"/><use href="#p" x="590.7" y="614.0"/><use href="#p" x="528.2" y="452.3"/><use href="#p" x="245.4" y="455.8"/><use href="#p" x="583.3" y="519.4"/><use href="#p" x="516.7" y="404.8"/><use href="#p" x="587.5" y="607.6"/><use href="#p" x="531.2" y="463.1"/><use href="#p" x="500.0" y="427.8"/><use href="#p" x="576.9" y="388.4"/><use href="#p" x="579.1" y="530.8"/><use href="#p" x="602.4" y="361.1"/><use href="#p" x="728.7" y="608.8"/><use href="#p" x="510.0" y="376.9"/><use href="#p" x="534.2" y="361.6"/><use href="#p" x="423.2" y="396.3"/><use href="#p" x="540.3" y="283.2"/><use href="#p" x="514.8" y="428.5"/><use href="#p" x="433.6" y="416.7"/><use href="#p" x="588.8" y="322.4"/><use href="#p" x="562.4" y="481.1"/><use href="#p" x="515.0" y="431.7"/><use href="#p" x="389.2" y="341.6"/><use href="#p" x="583.2" y="491.2"/><use href="#p" x="542.3" y="409.4"/><use href="#p" x="389.7" y="412.3"/><use href="#p" x="283.1" y="469.6"/><use href="#p" x="289.8" y="469.6"/><use href="#p" x="176.3" y="607.4"/><use href="#p" x="588.2" y="460.7"/><use href="#p" x="234.1" y="577.7"/><use href="#p" x="531.3" y="429.8"/><use href="#p" x="252.3" y="554.4"/><use href="#p" x="614.3" y="421.8"/><use href="#p" x="189.5" y="618.1"/><use href="#p" x="175.1" y="616.3"/><use href="#p" x="536.1" y="444.2"/><use href="#p" x="622.9" y="583.1"/><use href="#p" x="367.9" y="416.0"/><use href="#p" x="445.8" y="403.2"/><use href="#p" x="190.8" y="617.2"/><use href="#p" x="590.8" y="601.5"/><use href="#p" x="622.7" y="602.1"/><use href="#p" x="217.0" y="595.7"/><use href="#p" x="375.6" y="412.9"/><use href="#p" x="558.7" y="487.7"/><use href="#p" x="364.1" y="379.0"/><use href="#p" x="605.2" y="574.2"/><use href="#p" x="373.4" y="282.5"/><use href="#p" x="575.8" y="527.9"/><use href="#p" x="246.4" y="304.4"/><use href="#p" x="139.8" y="620.6"/><use href="#p" x="611.7" y="618.1"/><use href="#p" x="248.4" y="553.0"/><use href="#p" x="673.6" y="539.5"/><use href="#p" x="163.8" y="617.9"/><use href="#p" x="234.2" y="567.0"/><use href="#p" x="312.3" y="433.3"/><use href="#p" x="578.2" y="523.1"/><use href="#p" x="518.8" y="447.4"/><use href="#p" x="622.6" y="572.8"/><use href="#p" x="544.0" y="389.6"/><use href="#p" x="607.8" y="559.2"/><use href="#p" x="366.9" y="417.3"/><use href="#p" x="458.4" y="388.6"/><use href="#p" x="373.1" y="411.3"/><use href="#p" x="257.0" y="536.6"/><use href="#p" x="406.9" y="367.0"/><use href="#p" x="467.6" y="375.7"/><use href="#p" x="203.2" y="594.2"/><use href="#p" x="373.1" y="349.0"/><use href="#p" x="588.1" y="617.9"/><use href="#p" x="335.1" y="412.5"/><use href="#p" x="409.2" y="404.3"/><use href="#p" x="395.2" y="397.0"/><use href="#p" x="379.9" y="407.4"/><use href="#p" x="456.7" y="409.6"/><use href="#p" x="532.1" y="406.1"/><use href="#p" x="255.2" y="448.3"/><use href="#p" x="269.4" y="463.1"/><use href="#p" x="534.9" y="450.3"/><use href="#p" x="618.9" y="593.7"/><use href="#p" x="334.5" y="433.9"/><use href="#p" x="492.0" y="410.4"/><use href="#p" x="150.3" y="607.5"/><use href="#p" x="371.9" y="323.1"/><use href="#p" x="759.1" y="528.4"/><use href="#p" x="180.2" y="607.0"/><use href="#p" x="382.4" y="407.1"/><use href="#p" x="195.2" y="618.4"/><use href="#p" x="562.1" y="261.6"/><use href="#p" x="616.1" y="622.3"/><use href="#p" x="626.3" y="524.7"/><use href="#p" x="568.6" y="488.7"/><use href="#p" x="697.5" y="566.3"/><use href="#p" x="182.0" y="599.0"/><use href="#p" x="366.4" y="378.1"/><use href="#p" x="234.9" y="579.9"/><use href="#p" x="268.5" y="520.2"/><use href="#p" x="711.4" y="392.8"/><use href="#p" x="494.2" y="310.4"/><use href="#p" x="282.4" y="354.0"/><use href="#p" x="210.8" y="589.8"/><use href="#p" x="197.2" y="598.6"/><use href="#p" x="431.6" y="284.4"/><use href="#p" x="498.2" y="352.7"/><use href="#p" x="241.1" y="621.4"/><use href="#p" x="195.8" y="609.4"/><use href="#p" x="493.2" y="400.7"/><use href="#p" x="438.7" y="400.7"/><use href="#p" x="320.3" y="171.3"/><use href="#p" x="397.4" y="146.5"/><use href="#p" x="579.0" y="503.1"/><use href="#p" x="418.4" y="388.5"/><use href="#p" x="232.1" y="622.7"/><use href="#p" x="239.9" y="437.4"/><use href="#p" x="284.5" y="490.0"/><use href="#p" x="244.4" y="528.5"/><use href="#p" x="303.9" y="450.2"/><use href="#p" x="546.2" y="482.8"/><use href="#p" x="745.3" y="556.9"/><use href="#p" x="572.2" y="553.3"/><use href="#p" x="191.4" y="499.4"/><use href="#p" x="317.8" y="420.9"/><use href="#p" x="233.0" y="623.5"/><use href="#p" x="545.0" y="443.5"/><use href="#p" x="396.3" y="384.5"/><use href="#p" x="615.2" y="587.2"/><use href="#p" x="455.1" y="402.2"/><use href="#p" x="523.4" y="449.5"/><use href="#p" x="582.9" y="409.4"/><use href="#p" x="213.6" y="598.1"/><use href="#p" x="648.4" y="513.9"/><use href="#p" x="396.9" y="366.0"/><use href="#p" x="172.2" y="596.7"/><use href="#p" x="195.9" y="592.0"/><use href="#p" x="486.3" y="367.4"/><use href="#p" x="588.9" y="529.1"/><use href="#p" x="228.5" y="483.1"/><use href="#p" x="238.2" y="566.0"/><use href="#p" x="614.2" y="341.1"/><use href="#p" x="437.0" y="396.4"/><use href="#p" x="594.3" y="616.4"/><use href="#p" x="218.4" y="537.7"/><use href="#p" x="608.9" y="617.8"/><use href="#p" x="436.4" y="414.0"/><use href="#p" x="208.2" y="598.2"/><use href="#p" x="555.0" y="347.2"/><use href="#p" x="552.2" y="468.9"/><use href="#p" x="562.2" y="489.3"/><use href="#p" x="577.7" y="463.4"/><use href="#p" x="660.9" y="590.9"/><use href="#p" x="305.6" y="437.2"/><use href="#p" x="539.3" y="356.3"/><use href="#p" x="492.0" y="415.0"/><use href="#p" x="690.1" y="522.0"/><use href="#p" x="569.6" y="415.5"/><use href="#p" x="576.0" y="464.4"/><use href="#p" x="647.0" y="571.2"/><use href="#p" x="180.6" y="603.7"/><use href="#p" x="347.6" y="369.5"/><use href="#p" x="601.5" y="618.0"/><use href="#p" x="649.7" y="450.7"/><use href="#p" x="447.0" y="396.6"/><use href="#p" x="554.4" y="493.9"/><use href="#p" x="255.3" y="547.6"/><use href="#p" x="638.9" y="420.5"/><use href="#p" x="617.9" y="523.1"/><use href="#p" x="229.6" y="584.6"/><use href="#p" x="572.4" y="478.2"/><use href="#p" x="219.5" y="574.8"/><use href="#p" x="248.8" y="553.7"/><use href="#p" x="599.7" y="555.6"/><use href="#p" x="468.6" y="329.2"/><use href="#p" x="613.8" y="512.1"/><use href="#p" x="569.4" y="471.6"/><use href="#p" x="597.5" y="589.9"/><use href="#p" x="294.5" y="470.6"/><use href="#p" x="565.8" y="439.4"/><use href="#p" x="486.0" y="396.0"/><use href="#p" x="623.2" y="532.8"/><use href="#p" x="285.6" y="474.1"/><use href="#p" x="276.1" y="504.0"/><use href="#p" x="346.9" y="309.9"/><use href="#p" x="284.4" y="276.4"/><use href="#p" x="307.5" y="231.5"/><use href="#p" x="564.5" y="503.8"/><use href="#p" x="195.9" y="621.1"/><use href="#p" x="620.5" y="515.9"/><use href="#p" x="588.4" y="617.3"/><use href="#p" x="555.1" y="621.9"/><use href="#p" x="614.5" y="594.6"/><use href="#p" x="522.8" y="427.1"/><use href="#p" x="288.9" y="411.3"/><use href="#p" x="181.0" y="605.1"/><use href="#p" x="389.6" y="387.1"/><use href="#p" x="613.3" y="374.3"/><use href="#p" x="754.6" y="609.3"/><use href="#p" x="429.2" y="354.7"/><use href="#p" x="236.1" y="553.6"/><use href="#p" x="580.0" y="534.8"/><use href="#p" x="676.6" y="534.1"/><use href="#p" x="528.3" y="462.9"/><use href="#p" x="610.9" y="478.7"/><use href="#p" x="213.9" y="592.2"/><use href="#p" x="589.1" y="517.3"/><use href="#p" x="201.3" y="593.6"/><use href="#p" x="598.0" y="564.3"/><use href="#p" x="191.5" y="605.4"/><use href="#p" x="532.8" y="475.3"/><use href="#p" x="300.5" y="467.3"/><use href="#p" x="586.5" y="496.9"/><use href="#p" x="219.9" y="620.3"/><use href="#p" x="178.3" y="618.6"/><use href="#p" x="326.7" y="416.6"/><use href="#p" x="564.2" y="515.6"/><use href="#p" x="573.1" y="481.5"/><use href="#p" x="558.9" y="497.6"/><use href="#p" x="203.3" y="617.9"/><use href="#p" x="295.7" y="467.1"/><use href="#p" x="576.4" y="398.4"/><use href="#p" x="258.9" y="415.8"/><use href="#p" x="251.1" y="549.1"/><use href="#p" x="528.3" y="470.7"/><use href="#p" x="283.2" y="483.4"/><use href="#p" x="665.4" y="491.6"/><use href="#p" x="581.8" y="488.4"/><use href="#p" x="298.4" y="464.8"/><use href="#p" x="270.4" y="492.4"/><use href="#p" x="246.0" y="566.3"/><use href="#p" x="540.0" y="451.8"/><use href="#p" x="469.1" y="404.2"/><use href="#p" x="193.8" y="601.1"/><use href="#p" x="379.0" y="384.9"/><use href="#p" x="614.7" y="567.3"/><use href="#p" x="396.7" y="384.1"/><use href="#p" x="336.8" y="413.1"/><use href="#p" x="237.0" y="616.8"/><use href="#p" x="590.7" y="443.6"/><use href="#p" x="370.6" y="415.1"/><use href="#p" x="458.7" y="373.9"/><use href="#p" x="572.5" y="547.4"/><use href="#p" x="589.7" y="560.7"/><use href="#p" x="268.4" y="259.3"/><use href="#p" x="594.8" y="618.2"/><use href="#p" x="254.1" y="508.7"/><use href="#p" x="483.1" y="371.6"/><use href="#p" x="133.6" y="623.2"/><use href="#p" x="217.5" y="623.2"/><use href="#p" x="367.9" y="410.6"/><use href="#p" x="369.9" y="415.8"/><use href="#p" x="320.3" y="427.8"/><use href="#p" x="572.1" y="522.1"/><use href="#p" x="187.9" y="593.3"/><use href="#p" x="398.1" y="406.4"/><use href="#p" x="237.2" y="566.4"/><use href="#p" x="623.9" y="583.4"/><use href="#p" x="359.6" y="356.8"/><use href="#p" x="593.5" y="603.0"/><use href="#p" x="322.7" y="360.3"/><use href="#p" x="550.5" y="446.3"/><use href="#p" x="734.5" y="464.9"/><use href="#p" x="606.5" y="605.1"/><use href="#p" x="661.2" y="582.3"/><use href="#p" x="311.5" y="440.0"/><use href="#p" x="587.6" y="584.3"/><use href="#p" x="357.4" y="187.2"/><use href="#p" x="277.3" y="485.6"/><use href="#p" x="546.1" y="456.2"/><use href="#p" x="557.1" y="504.2"/><use href="#p" x="267.2" y="474.0"/><use href="#p" x="633.3" y="534.9"/><use href="#p" x="657.9" y="611.6"/><use href="#p" x="595.5" y="580.4"/><use href="#p" x="524.6" y="400.5"/><use href="#p" x="249.1" y="621.7"/><use href="#p" x="659.5" y="521.7"/><use href="#p" x="270.2" y="516.8"/><use href="#p" x="373.9" y="384.1"/><use href="#p" x="583.9" y="573.5"/><use href="#p" x="204.2" y="562.1"/><use href="#p" x="253.9" y="531.4"/><use href="#p" x="593.1" y="584.7"/><use href="#p" x="564.0" y="485.2"/><use href="#p" x="159.0" y="619.3"/><use href="#p" x="569.5" y="353.0"/><use href="#p" x="212.4" y="592.9"/><use href="#p" x="499.3" y="362.2"/><use href="#p" x="327.1" y="434.6"/><use href="#p" x="474.8" y="412.4"/><use href="#p" x="506.8" y="416.0"/><use href="#p" x="580.8" y="364.3"/><use href="#p" x="240.2" y="614.2"/><use href="#p" x="412.8" y="400.5"/><use href="#p" x="517.9" y="400.8"/><use href="#p" x="290.2" y="327.4"/><use href="#p" x="545.4" y="489.1"/><use href="#p" x="374.8" y="197.1"/><use href="#p" x="683.8" y="622.9"/><use href="#p" x="586.5" y="604.5"/><use href="#p" x="622.0" y="527.9"/><use href="#p" x="608.5" y="544.0"/><use href="#p" x="505.1" y="403.0"/><use href="#p" x="253.4" y="461.7"/><use href="#p" x="576.7" y="548.2"/><use href="#p" x="566.2" y="619.3"/><use href="#p" x="663.3" y="370.5"/><use href="#p" x="559.5" y="620.1"/><use href="#p" x="581.8" y="522.0"/><use href="#p" x="433.3" y="395.7"/><use href="#p" x="618.8" y="476.2"/><use href="#p" x="206.8" y="621.3"/><use href="#p" x="386.3" y="381.9"/><use href="#p" x="710.2" y="356.1"/><use href="#p" x="211.6" y="538.3"/><use href="#p" x="458.3" y="259.3"/><use href="#p" x="534.9" y="422.3"/><use href="#p" x="435.9" y="392.9"/><use href="#p" x="350.6" y="418.9"/><use href="#p" x="272.5" y="468.2"/><use href="#p" x="546.8" y="453.3"/><use href="#p" x="354.7" y="406.6"/><use href="#p" x="599.3" y="496.3"/><use href="#p" x="314.3" y="422.2"/><use href="#p" x="353.0" y="420.3"/><use href="#p" x="582.0" y="602.3"/><use href="#p" x="604.8" y="542.5"/><use href="#p" x="393.9" y="412.2"/><use href="#p" x="294.3" y="461.9"/><use href="#p" x="514.4" y="374.6"/><use href="#p" x="603.8" y="602.7"/><use href="#p" x="149.9" y="617.6"/><use href="#p" x="594.2" y="603.1"/><use href="#p" x="166.7" y="606.8"/><use href="#p" x="494.9" y="402.1"/><use href="#p" x="184.1" y="613.4"/><use href="#p" x="630.6" y="577.7"/><use href="#p" x="588.9" y="501.1"/><use href="#p" x="305.4" y="457.8"/><use href="#p" x="246.6" y="557.0"/><use href="#p" x="334.9" y="428.5"/><use href="#p" x="599.2" y="283.2"/><use href="#p" x="600.5" y="600.6"/><use href="#p" x="583.5" y="526.2"/><use href="#p" x="191.3" y="597.1"/><use href="#p" x="466.2" y="405.0"/><use href="#p" x="549.2" y="501.4"/><use href="#p" x="313.0" y="378.6"/><use href="#p" x="346.9" y="401.0"/><use href="#p" x="310.9" y="357.5"/><use href="#p" x="237.3" y="616.7"/><use href="#p" x="417.9" y="366.5"/><use href="#p" x="420.0" y="406.9"/><use href="#p" x="228.1" y="579.9"/><use href="#p" x="481.2" y="367.8"/><use href="#p" x="378.3" y="364.8"/><use href="#p" x="567.4" y="339.9"/><use href="#p" x="489.4" y="285.2"/><use href="#p" x="349.1" y="417.4"/><use href="#p" x="238.7" y="616.0"/><use href="#p" x="231.3" y="619.6"/><use href="#p" x="475.5" y="391.5"/><use href="#p" x="503.1" y="373.8"/><use href="#p" x="527.6" y="439.8"/><use href="#p" x="540.1" y="433.5"/><use href="#p" x="533.4" y="433.5"/><use href="#p" x="548.2" y="455.6"/><use href="#p" x="237.8" y="512.2"/><use href="#p" x="506.0" y="423.8"/><use href="#p" x="549.9" y="505.9"/><use href="#p" x="339.4" y="423.8"/><use href="#p" x="340.4" y="314.5"/><use href="#p" x="270.2" y="502.4"/><use href="#p" x="331.1" y="433.8"/><use href="#p" x="305.1" y="416.8"/><use href="#p" x="598.7" y="523.1"/><use href="#p" x="515.6" y="445.3"/><use href="#p" x="548.8" y="469.8"/><use href="#p" x="378.6" y="406.2"/><use href="#p" x="419.9" y="367.9"/><use href="#p" x="563.5" y="511.0"/><use href="#p" x="199.5" y="549.4"/><use href="#p" x="450.4" y="386.0"/><use href="#p" x="367.9" y="396.3"/><use href="#p" x="712.3" y="325.2"/><use href="#p" x="294.2" y="385.8"/><use href="#p" x="593.1" y="550.6"/><use href="#p" x="350.7" y="423.8"/><use href="#p" x="189.3" y="601.2"/><use href="#p" x="295.3" y="397.0"/><use href="#p" x="502.9" y="395.3"/><use href="#p" x="432.9" y="334.9"/><use href="#p" x="247.9" y="537.2"/><use href="#p" x="566.1" y="474.1"/><use href="#p" x="505.7" y="406.5"/><use href="#p" x="505.6" y="402.8"/><use href="#p" x="567.0" y="522.2"/><use href="#p" x="260.2" y="522.6"/><use href="#p" x="550.3" y="450.2"/><use href="#p" x="551.5" y="406.4"/><use href="#p" x="515.4" y="436.9"/><use href="#p" x="458.1" y="392.8"/><use href="#p" x="232.2" y="575.0"/><use href="#p" x="491.5" y="414.2"/><use href="#p" x="467.1" y="404.2"/><use href="#p" x="603.5" y="574.5"/><use href="#p" x="299.0" y="448.1"/><use href="#p" x="358.0" y="394.1"/><use href="#p" x="273.1" y="509.4"/><use href="#p" x="628.7" y="364.4"/><use href="#p" x="519.0" y="429.4"/><use href="#p" x="188.5" y="607.0"/><use href="#p" x="344.7" y="401.3"/><use href="#p" x="259.2" y="519.2"/><use href="#p" x="599.5" y="536.2"/><use href="#p" x="562.3" y="619.2"/><use href="#p" x="560.1" y="372.8"/><use href="#p" x="581.0" y="598.7"/><use href="#p" x="664.9" y="509.3"/><use href="#p" x="569.8" y="523.2"/><use href="#p" x="801.3" y="554.5"/><use href="#p" x="660.1" y="612.7"/><use href="#p" x="388.8" y="409.6"/><use href="#p" x="646.7" y="602.1"/><use href="#p" x="712.7" y="560.0"/><use href="#p" x="621.0" y="596.5"/><use href="#p" x="615.3" y="408.0"/><use href="#p" x="563.8" y="491.6"/><use href="#p" x="231.0" y="522.8"/><use href="#p" x="626.5" y="553.7"/><use href="#p" x="550.2" y="431.2"/><use href="#p" x="555.3" y="510.3"/><use href="#p" x="677.3" y="404.2"/><use href="#p" x="468.2" y="409.1"/><use href="#p" x="397.7" y="375.0"/><use href="#p" x="575.6" y="620.2"/><use href="#p" x="725.0" y="394.7"/><use href="#p" x="229.9" y="619.6"/><use href="#p" x="313.5" y="372.2"/><use href="#p" x="618.2" y="621.8"/><use href="#p" x="637.7" y="423.0"/><use href="#p" x="560.2" y="623.7"/><use href="#p" x="598.2" y="616.9"/><use href="#p" x="569.8" y="516.9"/><use href="#p" x="465.5" y="409.2"/><use href="#p" x="415.3" y="418.4"/><use href="#p" x="224.3" y="536.9"/><use href="#p" x="311.8" y="429.8"/><use href="#p" x="244.5" y="621.4"/><use href="#p" x="617.5" y="505.2"/><use href="#p" x="756.4" y="620.4"/><use href="#p" x="578.2" y="504.8"/><use href="#p" x="275.5" y="496.6"/><use href="#p" x="385.4" y="381.6"/><use href="#p" x="351.1" y="427.4"/><use href="#p" x="367.7" y="409.0"/><use href="#p" x="616.0" y="498.4"/><use href="#p" x="552.3" y="446.3"/><use href="#p" x="211.5" y="615.6"/><use href="#p" x="559.0" y="508.2"/><use href="#p" x="195.0" y="616.3"/><use href="#p" x="524.7" y="321.5"/><use href="#p" x="670.9" y="587.2"/><use href="#p" x="342.0" y="430.6"/><use href="#p" x="596.7" y="533.9"/><use href="#p" x="230.1" y="547.8"/><use href="#p" x="198.9" y="604.2"/><use href="#p" x="453.4" y="378.8"/><use href="#p" x="554.2" y="506.7"/><use href="#p" x="539.3" y="478.5"/><use href="#p" x="254.8" y="454.6"/><use href="#p" x="601.6" y="573.2"/><use href="#p" x="552.5" y="501.7"/><use href="#p" x="571.5" y="548.6"/><use href="#p" x="463.6" y="381.3"/><use href="#p" x="589.1" y="515.0"/><use href="#p" x="454.7" y="398.9"/><use href="#p" x="163.5" y="621.6"/><use href="#p" x="517.7" y="438.7"/><use href="#p" x="463.3" y="333.3"/><use href="#p" x="520.8" y="381.3"/><use href="#p" x="353.3" y="398.8"/><use href="#p" x="561.0" y="520.2"/><use href="#p" x="664.1" y="457.7"/><use href="#p" x="447.2" y="394.4"/><use href="#p" x="515.7" y="402.3"/><use href="#p" x="490.2" y="422.3"/><use href="#p" x="219.8" y="622.0"/><use href="#p" x="204.3" y="614.9"/><use href="#p" x="987.2" y="358.4"/><use href="#p" x="286.7" y="488.4"/><use href="#p" x="609.5" y="616.4"/><use href="#p" x="152.1" y="621.9"/><use href="#p" x="469.3" y="371.4"/><use href="#p" x="310.2" y="449.8"/><use href="#p" x="603.0" y="492.8"/><use href="#p" x="228.8" y="620.0"/><use href="#p" x="275.1" y="464.6"/><use href="#p" x="577.3" y="541.6"/><use href="#p" x="577.2" y="517.5"/><use href="#p" x="183.7" y="617.5"/><use href="#p" x="374.0" y="356.6"/><use href="#p" x="537.6" y="440.9"/><use href="#p" x="606.4" y="610.6"/><use href="#p" x="600.9" y="562.8"/><use href="#p" x="457.8" y="367.9"/><use href="#p" x="633.9" y="565.0"/><use href="#p" x="652.4" y="373.3"/><use href="#p" x="604.9" y="445.2"/><use href="#p" x="180.8" y="620.7"/><use href="#p" x="565.7" y="616.5"/><use href="#p" x="279.5" y="472.2"/><use href="#p" x="593.8" y="450.5"/><use href="#p" x="492.5" y="392.7"/><use href="#p" x="301.8" y="451.4"/><use href="#p" x="545.4" y="288.7"/><use href="#p" x="621.1" y="612.5"/><use href="#p" x="535.8" y="473.6"/><use href="#p" x="151.8" y="611.4"/><use href="#p" x="308.8" y="411.7"/><use href="#p" x="585.2" y="572.8"/><use href="#p" x="541.5" y="397.0"/><use href="#p" x="672.1" y="506.3"/><use href="#p" x="461.0" y="392.7"/><use href="#p" x="275.1" y="423.0"/><use href="#p" x="433.4" y="371.0"/><use href="#p" x="242.8" y="476.7"/><use href="#p" x="469.2" y="364.5"/><use href="#p" x="695.8" y="584.7"/><use href="#p" x="600.9" y="562.8"/><use href="#p" x="361.7" y="405.3"/><use href="#p" x="370.4" y="406.0"/><use href="#p" x="195.3" y="604.6"/><use href="#p" x="560.7" y="451.8"/><use href="#p" x="398.9" y="367.3"/><use href="#p" x="308.1" y="450.7"/><use href="#p" x="394.1" y="394.5"/><use href="#p" x="380.7" y="396.1"/><use href="#p" x="180.2" y="602.6"/><use href="#p" x="348.9" y="420.7"/><use href="#p" x="190.1" y="617.9"/><use href="#p" x="162.3" y="618.4"/><use href="#p" x="613.3" y="538.4"/><use href="#p" x="183.4" y="611.6"/><use href="#p" x="578.8" y="474.6"/><use href="#p" x="422.2" y="392.6"/><use href="#p" x="449.7" y="402.1"/><use href="#p" x="599.5" y="592.1"/><use href="#p" x="466.0" y="382.1"/><use href="#p" x="272.4" y="469.3"/><use href="#p" x="568.7" y="485.7"/><use href="#p" x="555.9" y="491.1"/><use href="#p" x="510.0" y="391.3"/><use href="#p" x="362.3" y="390.5"/><use href="#p" x="681.0" y="541.5"/><use href="#p" x="387.9" y="408.3"/><use href="#p" x="428.4" y="405.3"/><use href="#p" x="161.3" y="607.6"/><use href="#p" x="572.4" y="399.6"/><use href="#p" x="221.4" y="550.3"/><use href="#p" x="588.9" y="371.4"/><use href="#p" x="645.6" y="560.8"/><use href="#p" x="804.3" y="494.5"/><use href="#p" x="460.6" y="372.8"/><use href="#p" x="548.9" y="469.4"/><use href="#p" x="168.1" y="621.8"/><use href="#p" x="607.8" y="530.3"/><use href="#p" x="529.9" y="421.7"/><use href="#p" x="272.8" y="510.5"/><use href="#p" x="444.9" y="391.8"/><use href="#p" x="281.5" y="444.1"/><use href="#p" x="402.5" y="401.3"/><use href="#p" x="586.7" y="587.6"/><use href="#p" x="465.5" y="346.2"/><use href="#p" x="582.2" y="236.5"/><use href="#p" x="799.2" y="464.0"/><use href="#p" x="340.4" y="337.4"/><use href="#p" x="443.9" y="399.3"/><use href="#p" x="351.3" y="181.3"/><use href="#p" x="622.0" y="597.9"/><use href="#p" x="352.0" y="395.2"/><use href="#p" x="634.2" y="571.3"/><use href="#p" x="651.8" y="616.3"/><use href="#p" x="530.4" y="477.2"/><use href="#p" x="511.4" y="372.0"/><use href="#p" x="716.1" y="498.8"/><use href="#p" x="351.7" y="379.2"/><use href="#p" x="601.3" y="570.4"/><use href="#p" x="606.5" y="432.5"/><use href="#p" x="296.8" y="454.9"/><use href="#p" x="247.6" y="565.0"/><use href="#p" x="612.1" y="422.5"/><use href="#p" x="356.6" y="397.5"/><use href="#p" x="585.9" y="568.8"/><use href="#p" x="220.0" y="583.8"/><use href="#p" x="589.5" y="587.1"/><use href="#p" x="551.2" y="475.2"/><use href="#p" x="232.3" y="573.3"/><use href="#p" x="428.4" y="373.4"/><use href="#p" x="315.1" y="423.2"/><use href="#p" x="263.9" y="530.4"/><use href="#p" x="586.9" y="446.0"/><use href="#p" x="644.2" y="484.2"/><use href="#p" x="589.3" y="409.7"/><use href="#p" x="361.7" y="420.2"/><use href="#p" x="427.3" y="375.8"/><use href="#p" x="647.7" y="464.5"/><use href="#p" x="354.5" y="413.6"/><use href="#p" x="575.9" y="512.8"/><use href="#p" x="214.9" y="615.7"/><use href="#p" x="613.9" y="550.4"/><use href="#p" x="626.4" y="554.1"/><use href="#p" x="298.5" y="473.0"/><use href="#p" x="582.5" y="580.6"/><use href="#p" x="704.2" y="612.9"/><use href="#p" x="223.7" y="590.9"/><use href="#p" x="423.8" y="398.4"/><use href="#p" x="557.2" y="456.3"/><use href="#p" x="583.5" y="596.1"/><use href="#p" x="556.6" y="439.3"/><use href="#p" x="571.5" y="414.8"/><use href="#p" x="427.9" y="418.0"/><use href="#p" x="621.3" y="412.2"/><use href="#p" x="425.5" y="404.1"/><use href="#p" x="845.4" y="618.3"/><use href="#p" x="810.3" y="386.4"/><use href="#p" x="645.7" y="604.4"/><use href="#p" x="612.4" y="163.4"/><use href="#p" x="565.9" y="620.2"/><use href="#p" x="557.0" y="410.6"/><use href="#p" x="345.3" y="432.4"/><use href="#p" x="427.3" y="384.3"/><use href="#p" x="534.7" y="477.2"/><use href="#p" x="672.1" y="491.4"/><use href="#p" x="581.1" y="501.7"/><use href="#p" x="244.9" y="558.3"/><use href="#p" x="731.5" y="450.5"/><use href="#p" x="455.0" y="359.4"/><use href="#p" x="293.1" y="457.4"/><use href="#p" x="686.7" y="597.7"/><use href="#p" x="415.4" y="406.6"/><use href="#p" x="404.2" y="303.6"/><use href="#p" x="270.5" y="512.9"/><use href="#p" x="410.0" y="361.8"/><use href="#p" x="602.2" y="206.2"/><use href="#p" x="336.5" y="434.0"/><use href="#p" x="568.8" y="491.8"/><use href="#p" x="522.5" y="402.8"/><use href="#p" x="631.2" y="576.8"/><use href="#p" x="627.2" y="614.3"/><use href="#p" x="743.5" y="494.5"/><use href="#p" x="591.5" y="435.5"/><use href="#p" x="319.2" y="418.7"/><use href="#p" x="185.6" y="584.6"/><use href="#p" x="341.3" y="429.3"/><use href="#p" x="289.5" y="474.8"/><use href="#p" x="515.7" y="370.4"/><use href="#p" x="156.3" y="596.7"/><use href="#p" x="401.5" y="382.3"/><use href="#p" x="588.5" y="545.8"/><use href="#p" x="450.9" y="328.4"/><use href="#p" x="267.1" y="503.4"/><use href="#p" x="389.1" y="392.2"/><use href="#p" x="437.5" y="408.3"/><use href="#p" x="579.8" y="559.8"/><use href="#p" x="595.0" y="564.3"/><use href="#p" x="555.5" y="486.6"/><use href="#p" x="321.8" y="434.2"/><use href="#p" x="356.7" y="392.7"/><use href="#p" x="556.2" y="492.3"/><use href="#p" x="251.6" y="624.5"/><use href="#p" x="461.0" y="405.9"/><use href="#p" x="494.9" y="338.2"/><use href="#p" x="243.5" y="529.0"/><use href="#p" x="600.6" y="621.8"/><use href="#p" x="577.9" y="514.5"/><use href="#p" x="284.2" y="466.0"/><use href="#p" x="179.9" y="529.7"/><use href="#p" x="650.0" y="570.2"/><use href="#p" x="625.5" y="528.1"/><use href="#p" x="449.9" y="405.7"/><use href="#p" x="296.1" y="474.6"/><use href="#p" x="529.3" y="457.1"/><use href="#p" x="544.1" y="454.2"/><use href="#p" x="265.8" y="485.2"/><use href="#p" x="532.3" y="456.1"/><use href="#p" x="590.2" y="620.6"/><use href="#p" x="234.6" y="578.5"/><use href="#p" x="275.6" y="432.2"/><use href="#p" x="415.1" y="395.5"/><use href="#p" x="620.5" y="573.9"/><use href="#p" x="419.2" y="393.0"/><use href="#p" x="520.4" y="416.0"/><use href="#p" x="579.0" y="558.9"/><use href="#p" x="517.6" y="316.5"/><use href="#p" x="366.6" y="399.4"/><use href="#p" x="510.9" y="398.0"/><use href="#p" x="516.6" y="432.9"/><use href="#p" x="364.4" y="405.4"/><use href="#p" x="558.6" y="504.1"/><use href="#p" x="271.5" y="469.0"/><use href="#p" x="408.1" y="345.8"/><use href="#p" x="581.1" y="560.3"/><use href="#p" x="537.7" y="439.7"/><use href="#p" x="586.2" y="495.5"/><use href="#p" x="378.4" y="404.5"/><use href="#p" x="397.6" y="397.6"/><use href="#p" x="396.5" y="408.6"/><use href="#p" x="344.0" y="420.8"/><use href="#p" x="537.3" y="312.2"/><use href="#p" x="579.6" y="337.0"/><use href="#p" x="168.3" y="621.9"/><use href="#p" x="638.8" y="615.9"/><use href="#p" x="594.8" y="400.7"/><use href="#p" x="562.8" y="407.3"/><use href="#p" x="563.2" y="519.6"/><use href="#p" x="552.2" y="451.4"/><use href="#p" x="279.3" y="478.1"/><use href="#p" x="524.7" y="385.9"/><use href="#p" x="309.6" y="443.2"/><use href="#p" x="552.0" y="451.5"/><use href="#p" x="264.3" y="316.5"/><use href="#p" x="452.0" y="344.5"/><use href="#p" x="452.7" y="403.1"/><use href="#p" x="593.4" y="376.2"/><use href="#p" x="713.4" y="489.2"/><use href="#p" x="372.2" y="373.5"/><use href="#p" x="369.0" y="418.0"/><use href="#p" x="320.5" y="344.7"/><use href="#p" x="239.5" y="528.8"/><use href="#p" x="250.4" y="621.3"/><use href="#p" x="549.9" y="488.9"/><use href="#p" x="682.7" y="402.9"/><use href="#p" x="261.5" y="528.0"/><use href="#p" x="642.6" y="489.1"/><use href="#p" x="358.2" y="380.2"/><use href="#p" x="360.2" y="237.6"/><use href="#p" x="223.1" y="588.4"/><use href="#p" x="621.6" y="595.0"/><use href="#p" x="367.2" y="418.6"/><use href="#p" x="659.6" y="588.3"/><use href="#p" x="174.6" y="608.8"/><use href="#p" x="615.9" y="548.2"/><use href="#p" x="595.6" y="610.8"/><use href="#p" x="487.0" y="396.2"/><use href="#p" x="333.6" y="413.3"/><use href="#p" x="384.7" y="383.2"/><use href="#p" x="572.3" y="502.5"/><use href="#p" x="627.8" y="509.7"/><use href="#p" x="475.3" y="409.4"/><use href="#p" x="301.5" y="409.3"/><use href="#p" x="313.2" y="445.9"/><use href="#p" x="565.2" y="500.6"/><use href="#p" x="693.8" y="616.8"/><use href="#p" x="556.0" y="444.5"/><use href="#p" x="571.6" y="529.3"/><use href="#p" x="471.0" y="381.1"/><use href="#p" x="330.8" y="348.9"/><use href="#p" x="453.7" y="398.1"/><use href="#p" x="382.1" y="390.7"/><use href="#p" x="338.9" y="317.0"/><use href="#p" x="572.2" y="521.2"/><use href="#p" x="218.1" y="512.1"/><use href="#p" x="628.4" y="405.9"/><use href="#p" x="434.5" y="334.9"/><use href="#p" x="688.5" y="381.0"/><use href="#p" x="378.2" y="410.0"/><use href="#p" x="508.7" y="428.7"/><use href="#p" x="321.0" y="420.9"/><use href="#p" x="545.0" y="476.7"/><use href="#p" x="565.1" y="388.4"/><use href="#p" x="615.2" y="308.1"/><use href="#p" x="374.4" y="228.1"/><use href="#p" x="525.1" y="404.9"/><use href="#p" x="478.4" y="416.0"/><use href="#p" x="231.7" y="619.6"/><use href="#p" x="290.1" y="447.4"/><use href="#p" x="222.9" y="561.6"/><use href="#p" x="405.0" y="403.3"/><use href="#p" x="583.1" y="589.1"/><use href="#p" x="644.7" y="604.9"/><use href="#p" x="637.8" y="588.0"/><use href="#p" x="372.5" y="382.8"/><use href="#p" x="432.9" y="382.2"/><use href="#p" x="401.1" y="387.1"/><use href="#p" x="534.3" y="456.0"/><use href="#p" x="423.8" y="412.7"/><use href="#p" x="389.3" y="283.0"/><use href="#p" x="177.5" y="531.3"/><use href="#p" x="356.2" y="386.4"/><use href="#p" x="431.6" y="358.7"/><use href="#p" x="532.2" y="465.4"/><use href="#p" x="279.7" y="470.6"/><use href="#p" x="637.4" y="565.6"/><use href="#p" x="586.1" y="534.5"/><use href="#p" x="676.9" y="533.1"/><use href="#p" x="567.5" y="618.2"/><use href="#p" x="258.6" y="513.7"/><use href="#p" x="458.7" y="392.2"/><use href="#p" x="233.3" y="503.5"/><use href="#p" x="347.6" y="394.5"/><use href="#p" x="303.7" y="409.6"/><use href="#p" x="567.9" y="468.6"/><use href="#p" x="573.4" y="504.5"/><use href="#p" x="445.1" y="362.9"/><use href="#p" x="560.8" y="413.2"/><use href="#p" x="478.6" y="416.0"/><use href="#p" x="610.4" y="589.9"/><use href="#p" x="528.8" y="444.0"/><use href="#p" x="157.9" y="616.9"/><use href="#p" x="426.3" y="380.7"/><use href="#p" x="556.2" y="494.9"/><use href="#p" x="232.4" y="476.9"/><use href="#p" x="677.6" y="490.5"/><use href="#p" x="419.0" y="381.2"/><use href="#p" x="188.4" y="598.5"/><use href="#p" x="553.1" y="456.3"/><use href="#p" x="432.7" y="353.7"/><use href="#p" x="292.4" y="384.4"/><use href="#p" x="544.7" y="459.4"/><use href="#p" x="509.8" y="432.5"/><use href="#p" x="493.7" y="393.7"/><use href="#p" x="450.5" y="401.8"/><use href="#p" x="630.6" y="588.0"/><use href="#p" x="565.1" y="479.7"/><use href="#p" x="289.0" y="454.1"/><use href="#p" x="544.1" y="486.8"/><use href="#p" x="483.2" y="399.3"/><use href="#p" x="265.8" y="523.3"/><use href="#p" x="496.3" y="369.0"/><use href="#p" x="556.9" y="395.5"/><use href="#p" x="544.2" y="455.3"/><use href="#p" x="252.2" y="563.8"/><use href="#p" x="366.1" y="367.4"/><use href="#p" x="489.2" y="383.5"/><use href="#p" x="327.0" y="408.5"/><use href="#p" x="471.6" y="401.8"/><use href="#p" x="640.2" y="351.0"/><use href="#p" x="436.5" y="373.7"/><use href="#p" x="287.6" y="481.1"/><use href="#p" x="546.7" y="430.4"/><use href="#p" x="560.7" y="495.1"/><use href="#p" x="474.3" y="282.4"/><use href="#p" x="488.4" y="411.4"/><use href="#p" x="578.2" y="566.0"/><use href="#p" x="583.4" y="286.2"/><use href="#p" x="225.6" y="587.7"/><use href="#p" x="252.6" y="523.4"/><use href="#p" x="622.6" y="600.2"/><use href="#p" x="568.0" y="473.3"/><use href="#p" x="359.7" y="405.5"/><use href="#p" x="556.9" y="436.1"/><use href="#p" x="409.2" y="322.1"/><use href="#p" x="338.1" y="427.8"/><use href="#p" x="407.5" y="344.5"/><use href="#p" x="430.6" y="301.9"/><use href="#p" x="289.6" y="453.8"/><use href="#p" x="351.2" y="326.7"/><use href="#p" x="581.8" y="564.1"/><use href="#p" x="564.0" y="437.5"/><use href="#p" x="581.6" y="505.7"/><use href="#p" x="296.7" y="421.8"/><use href="#p" x="567.5" y="416.4"/><use href="#p" x="255.6" y="556.7"/><use href="#p" x="631.0" y="597.8"/><use href="#p" x="238.2" y="567.2"/><use href="#p" x="485.4" y="351.8"/><use href="#p" x="674.0" y="567.0"/><use href="#p" x="558.6" y="475.8"/><use href="#p" x="492.5" y="414.0"/><use href="#p" x="496.6" y="425.9"/><use href="#p" x="240.8" y="564.9"/><use href="#p" x="641.4" y="489.3"/><use href="#p" x="180.1" y="621.5"/><use href="#p" x="272.0" y="503.5"/><use href="#p" x="737.5" y="463.4"/><use href="#p" x="339.9" y="318.5"/><use href="#p" x="357.5" y="307.2"/><use href="#p" x="350.9" y="396.3"/><use href="#p" x="678.2" y="598.1"/><use href="#p" x="581.1" y="501.6"/><use href="#p" x="538.9" y="479.3"/><use href="#p" x="552.4" y="430.2"/><use href="#p" x="558.1" y="478.6"/><use href="#p" x="300.7" y="454.5"/><use href="#p" x="529.3" y="476.4"/><use href="#p" x="232.6" y="521.2"/><use href="#p" x="330.5" y="392.5"/><use href="#p" x="499.9" y="414.4"/><use href="#p" x="604.4" y="560.1"/><use href="#p" x="716.3" y="466.6"/><use href="#p" x="347.9" y="371.3"/><use href="#p" x="449.7" y="402.7"/><use href="#p" x="529.0" y="457.7"/><use href="#p" x="571.9" y="623.8"/><use href="#p" x="437.1" y="374.0"/><use href="#p" x="591.6" y="600.3"/><use href="#p" x="355.0" y="366.5"/><use href="#p" x="546.3" y="474.8"/><use href="#p" x="526.6" y="430.6"/><use href="#p" x="414.4" y="374.8"/><use href="#p" x="217.6" y="583.6"/><use href="#p" x="702.8" y="486.0"/><use href="#p" x="291.5" y="320.3"/><use href="#p" x="297.2" y="439.4"/><use href="#p" x="202.2" y="591.2"/><use href="#p" x="584.0" y="517.3"/><use href="#p" x="232.0" y="477.4"/><use href="#p" x="248.6" y="497.3"/><use href="#p" x="483.5" y="356.8"/><use href="#p" x="557.0" y="417.8"/><use href="#p" x="352.0" y="379.0"/><use href="#p" x="576.8" y="527.5"/><use href="#p" x="614.2" y="543.7"/><use href="#p" x="567.8" y="488.1"/><use href="#p" x="385.9" y="376.3"/><use href="#p" x="482.2" y="388.3"/><use href="#p" x="621.0" y="497.1"/><use href="#p" x="609.4" y="619.8"/><use href="#p" x="319.7" y="395.3"/><use href="#p" x="353.2" y="285.0"/><use href="#p" x="581.6" y="569.6"/><use href="#p" x="644.7" y="523.9"/><use href="#p" x="247.4" y="541.7"/><use href="#p" x="606.5" y="401.4"/><use href="#p" x="497.8" y="366.0"/><use href="#p" x="193.6" y="605.5"/><use href="#p" x="542.8" y="459.2"/><use href="#p" x="615.2" y="465.9"/><use href="#p" x="541.2" y="478.0"/><use href="#p" x="592.6" y="616.2"/><use href="#p" x="384.9" y="379.7"/><use href="#p" x="583.6" y="618.2"/><use href="#p" x="589.4" y="479.8"/><use href="#p" x="573.4" y="546.7"/><use href="#p" x="143.4" y="622.4"/><use href="#p" x="519.8" y="434.9"/><use href="#p" x="198.1" y="598.9"/><use href="#p" x="351.6" y="422.0"/><use href="#p" x="637.8" y="459.2"/><use href="#p" x="550.1" y="461.0"/><use href="#p" x="531.9" y="406.5"/><use href="#p" x="677.7" y="474.9"/><use href="#p" x="348.3" y="409.4"/><use href="#p" x="683.3" y="569.2"/><use href="#p" x="463.5" y="378.9"/><use href="#p" x="497.5" y="392.4"/><use href="#p" x="320.3" y="412.8"/><use href="#p" x="549.6" y="472.0"/><use href="#p" x="244.9" y="535.1"/><use href="#p" x="556.0" y="339.4"/><use href="#p" x="250.6" y="548.4"/><use href="#p" x="626.8" y="560.8"/><use href="#p" x="559.2" y="240.1"/><use href="#p" x="641.3" y="551.9"/><use href="#p" x="553.5" y="419.3"/><use href="#p" x="571.2" y="517.6"/><use href="#p" x="308.3" y="453.5"/><use href="#p" x="661.1" y="497.8"/><use href="#p" x="266.6" y="494.0"/><use href="#p" x="283.6" y="480.7"/><use href="#p" x="507.6" y="367.2"/><use href="#p" x="274.2" y="161.4"/><use href="#p" x="468.2" y="409.3"/><use href="#p" x="566.4" y="522.8"/><use href="#p" x="508.1" y="423.3"/><use href="#p" x="703.7" y="609.3"/><use href="#p" x="392.6" y="343.4"/><use href="#p" x="374.1" y="406.4"/><use href="#p" x="551.2" y="624.0"/><use href="#p" x="328.5" y="406.4"/><use href="#p" x="703.2" y="585.4"/><use href="#p" x="530.9" y="471.0"/><use href="#p" x="624.6" y="580.1"/><use href="#p" x="506.0" y="426.5"/><use href="#p" x="528.7" y="353.8"/><use href="#p" x="491.9" y="422.9"/><use href="#p" x="577.9" y="460.8"/><use href="#p" x="224.4" y="583.2"/><use href="#p" x="565.3" y="617.6"/><use href="#p" x="690.1" y="516.6"/><use href="#p" x="587.3" y="586.3"/><use href="#p" x="378.6" y="394.9"/><use href="#p" x="618.7" y="507.8"/><use href="#p" x="340.5" y="411.7"/><use href="#p" x="225.0" y="550.3"/><use href="#p" x="184.5" y="526.0"/><use href="#p" x="426.6" y="312.4"/><use href="#p" x="242.0" y="490.2"/><use href="#p" x="528.2" y="383.9"/><use href="#p" x="575.5" y="538.4"/><use href="#p" x="535.0" y="444.8"/><use href="#p" x="540.4" y="429.5"/><use href="#p" x="197.8" y="620.7"/><use href="#p" x="423.2" y="421.6"/><use href="#p" x="477.3" y="401.0"/><use href="#p" x="234.4" y="574.2"/><use href="#p" x="411.6" y="398.8"/><use href="#p" x="414.0" y="336.3"/><use href="#p" x="605.8" y="514.2"/><use href="#p" x="561.5" y="494.6"/><use href="#p" x="580.2" y="552.8"/><use href="#p" x="209.9" y="593.0"/><use href="#p" x="493.7" y="424.0"/><use href="#p" x="420.5" y="331.3"/><use href="#p" x="404.8" y="390.7"/><use href="#p" x="227.2" y="579.3"/><use href="#p" x="623.8" y="589.7"/><use href="#p" x="156.6" y="621.3"/><use href="#p" x="598.0" y="423.2"/><use href="#p" x="447.5" y="364.3"/><use href="#p" x="621.8" y="398.8"/><use href="#p" x="198.5" y="621.6"/><use href="#p" x="305.9" y="427.0"/><use href="#p" x="304.2" y="427.8"/><use href="#p" x="510.9" y="379.0"/><use href="#p" x="374.6" y="412.9"/><use href="#p" x="425.1" y="237.1"/><use href="#p" x="193.5" y="601.0"/><use href="#p" x="578.8" y="429.8"/><use href="#p" x="593.9" y="623.6"/><use href="#p" x="276.3" y="496.3"/><use href="#p" x="547.0" y="490.9"/><use href="#p" x="560.1" y="449.3"/><use href="#p" x="545.8" y="357.7"/><use href="#p" x="498.1" y="427.5"/><use href="#p" x="524.2" y="448.3"/><use href="#p" x="553.6" y="466.0"/><use href="#p" x="236.7" y="567.3"/><use href="#p" x="592.7" y="601.0"/><use href="#p" x="542.5" y="489.9"/><use href="#p" x="351.6" y="418.3"/><use href="#p" x="375.3" y="386.4"/><use href="#p" x="206.6" y="614.4"/><use href="#p" x="597.3" y="569.1"/><use href="#p" x="311.7" y="361.3"/><use href="#p" x="234.1" y="617.1"/><use href="#p" x="435.4" y="418.5"/><use href="#p" x="199.1" y="589.1"/><use href="#p" x="225.7" y="620.6"/><use href="#p" x="349.6" y="351.4"/><use href="#p" x="178.0" y="602.0"/><use href="#p" x="567.2" y="473.8"/><use href="#p" x="633.3" y="377.5"/><use href="#p" x="495.2" y="386.1"/><use href="#p" x="728.4" y="563.0"/><use href="#p" x="696.0" y="595.0"/><use href="#p" x="200.4" y="621.4"/><use href="#p" x="237.4" y="565.9"/><use href="#p" x="348.8" y="400.7"/><use href="#p" x="546.4" y="505.8"/><use href="#p" x="415.7" y="409.2"/><use href="#p" x="360.6" y="385.5"/><use href="#p" x="513.0" y="436.5"/><use href="#p" x="540.1" y="444.2"/><use href="#p" x="468.7" y="384.7"/><use href="#p" x="592.2" y="589.9"/><use href="#p" x="594.3" y="429.1"/><use href="#p" x="573.1" y="421.5"/><use href="#p" x="459.7" y="343.4"/><use href="#p" x="633.9" y="569.8"/><use href="#p" x="581.8" y="542.7"/><use href="#p" x="583.8" y="564.4"/><use href="#p" x="333.5" y="347.4"/><use href="#p" x="342.4" y="408.6"/><use href="#p" x="440.1" y="413.9"/><use href="#p" x="535.4" y="416.0"/><use href="#p" x="839.4" y="544.3"/><use href="#p" x="254.0" y="555.0"/><use href="#p" x="579.6" y="362.1"/><use href="#p" x="407.3" y="374.2"/><use href="#p" x="245.4" y="486.4"/><use href="#p" x="610.0" y="612.6"/><use href="#p" x="524.8" y="424.3"/><use href="#p" x="555.7" y="457.7"/><use href="#p" x="478.5" y="406.9"/><use href="#p" x="607.3" y="583.1"/><use href="#p" x="371.0" y="352.9"/><use href="#p" x="615.4" y="622.4"/><use href="#p" x="216.9" y="615.7"/><use href="#p" x="299.2" y="363.0"/><use href="#p" x="232.8" y="426.0"/><use href="#p" x="542.5" y="402.6"/><use href="#p" x="560.9" y="444.6"/><use href="#p" x="497.5" y="410.6"/><use href="#p" x="568.3" y="272.4"/><use href="#p" x="614.8" y="498.9"/><use href="#p" x="354.1" y="414.6"/><use href="#p" x="552.2" y="622.0"/><use href="#p" x="275.9" y="490.9"/><use href="#p" x="174.5" y="532.5"/><use href="#p" x="556.1" y="516.3"/><use href="#p" x="423.3" y="385.2"/><use href="#p" x="561.4" y="258.6"/><use href="#p" x="567.5" y="518.0"/><use href="#p" x="582.3" y="486.8"/><use href="#p" x="650.3" y="531.4"/><use href="#p" x="441.5" y="390.9"/><use href="#p" x="578.2" y="561.0"/><use href="#p" x="455.6" y="376.5"/><use href="#p" x="532.1" y="442.9"/><use href="#p" x="465.6" y="398.8"/><use href="#p" x="419.9" y="321.0"/><use href="#p" x="462.0" y="390.9"/><use href="#p" x="606.7" y="542.4"/><use href="#p" x="293.7" y="454.2"/><use href="#p" x="441.5" y="302.3"/><use href="#p" x="285.4" y="464.6"/><use href="#p" x="289.5" y="486.0"/><use href="#p" x="368.9" y="402.3"/><use href="#p" x="309.7" y="424.6"/><use href="#p" x="258.8" y="506.4"/><use href="#p" x="548.8" y="481.6"/><use href="#p" x="629.4" y="621.7"/><use href="#p" x="380.6" y="327.4"/><use href="#p" x="176.8" y="612.3"/><use href="#p" x="357.5" y="366.0"/><use href="#p" x="564.6" y="407.1"/><use href="#p" x="269.7" y="485.4"/><use href="#p" x="590.5" y="427.9"/><use href="#p" x="276.8" y="499.6"/><use href="#p" x="203.7" y="591.9"/><use href="#p" x="569.7" y="379.2"/><use href="#p" x="403.3" y="343.8"/><use href="#p" x="467.1" y="376.2"/><use href="#p" x="597.2" y="420.5"/><use href="#p" x="433.8" y="399.4"/><use href="#p" x="301.3" y="458.9"/><use href="#p" x="731.5" y="560.5"/><use href="#p" x="532.2" y="433.8"/><use href="#p" x="327.1" y="434.6"/><use href="#p" x="443.8" y="402.3"/><use href="#p" x="199.9" y="598.7"/><use href="#p" x="458.5" y="398.9"/><use href="#p" x="435.3" y="403.5"/><use href="#p" x="629.8" y="458.0"/><use href="#p" x="230.1" y="522.8"/><use href="#p" x="251.5" y="544.2"/><use href="#p" x="628.6" y="527.1"/><use href="#p" x="557.8" y="355.0"/><use href="#p" x="404.4" y="351.5"/><use href="#p" x="530.2" y="413.2"/><use href="#p" x="329.1" y="408.7"/><use href="#p" x="630.6" y="622.4"/><use href="#p" x="574.5" y="616.2"/><use href="#p" x="574.0" y="508.7"/><use href="#p" x="367.2" y="420.0"/><use href="#p" x="586.9" y="624.3"/><use href="#p" x="353.0" y="393.1"/><use href="#p" x="349.0" y="412.4"/><use href="#p" x="511.5" y="218.0"/><use href="#p" x="237.0" y="560.4"/><use href="#p" x="664.9" y="597.1"/><use href="#p" x="532.4" y="434.6"/><use href="#p" x="583.9" y="545.0"/><use href="#p" x="662.1" y="393.4"/><use href="#p" x="578.2" y="492.4"/><use href="#p" x="480.7" y="386.0"/><use href="#p" x="543.4" y="454.9"/><use href="#p" x="426.2" y="221.3"/><use href="#p" x="491.6" y="385.2"/><use href="#p" x="554.5" y="494.9"/><use href="#p" x="573.4" y="473.2"/><use href="#p" x="584.8" y="374.2"/><use href="#p" x="568.6" y="523.6"/><use href="#p" x="402.0" y="404.6"/><use href="#p" x="561.1" y="494.9"/><use href="#p" x="566.6" y="511.9"/><use href="#p" x="474.7" y="400.1"/><use href="#p" x="562.4" y="198.2"/><use href="#p" x="377.1" y="391.6"/><use href="#p" x="223.0" y="588.4"/><use href="#p" x="477.4" y="384.4"/><use href="#p" x="607.1" y="461.2"/><use href="#p" x="290.3" y="482.9"/><use href="#p" x="578.9" y="547.4"/><use href="#p" x="357.3" y="353.6"/><use href="#p" x="262.9" y="493.2"/><use href="#p" x="225.0" y="620.3"/><use href="#p" x="417.5" y="341.4"/><use href="#p" x="708.2" y="463.8"/><use href="#p" x="434.5" y="345.2"/><use href="#p" x="587.9" y="459.4"/><use href="#p" x="571.5" y="535.4"/><use href="#p" x="435.1" y="358.9"/><use href="#p" x="703.0" y="623.5"/><use href="#p" x="674.2" y="523.4"/><use href="#p" x="614.3" y="501.4"/><use href="#p" x="266.4" y="489.7"/><use href="#p" x="547.0" y="505.5"/><use href="#p" x="692.6" y="517.3"/><use href="#p" x="260.4" y="479.4"/><use href="#p" x="364.9" y="371.2"/><use href="#p" x="530.7" y="299.8"/><use href="#p" x="192.4" y="601.0"/><use href="#p" x="387.2" y="397.3"/><use href="#p" x="435.3" y="416.3"/><use href="#p" x="557.0" y="506.1"/><use href="#p" x="604.2" y="532.3"/><use href="#p" x="330.2" y="385.8"/><use href="#p" x="616.3" y="400.7"/><use href="#p" x="280.8" y="445.4"/><use href="#p" x="359.2" y="403.3"/><use href="#p" x="558.8" y="514.4"/><use href="#p" x="349.3" y="365.9"/><use href="#p" x="367.5" y="344.0"/><use href="#p" x="349.7" y="413.5"/><use href="#p" x="660.2" y="609.9"/><use href="#p" x="640.5" y="555.7"/><use href="#p" x="763.3" y="127.5"/><use href="#p" x="348.5" y="429.5"/><use href="#p" x="244.4" y="529.1"/><use href="#p" x="298.7" y="435.4"/><use href="#p" x="431.4" y="337.5"/><use href="#p" x="558.2" y="437.5"/><use href="#p" x="529.3" y="239.4"/><use href="#p" x="275.9" y="497.5"/><use href="#p" x="590.0" y="491.2"/><use href="#p" x="453.4" y="400.8"/><use href="#p" x="572.8" y="516.3"/><use href="#p" x="566.6" y="483.9"/><use href="#p" x="486.2" y="417.6"/><use href="#p" x="572.1" y="552.7"/><use href="#p" x="618.2" y="321.4"/><use href="#p" x="455.0" y="383.9"/><use href="#p" x="601.3" y="622.5"/><use href="#p" x="244.4" y="615.1"/><use href="#p" x="603.7" y="461.8"/><use href="#p" x="548.1" y="491.2"/><use href="#p" x="527.8" y="476.5"/><use href="#p" x="533.5" y="450.8"/><use href="#p" x="257.0" y="552.4"/><use href="#p" x="583.0" y="429.2"/><use href="#p" x="276.7" y="503.9"/><use href="#p" x="632.5" y="513.1"/><use href="#p" x="573.8" y="523.6"/><use href="#p" x="653.6" y="558.1"/><use href="#p" x="569.9" y="412.5"/><use href="#p" x="186.7" y="597.4"/><use href="#p" x="604.7" y="580.3"/><use href="#p" x="539.9" y="484.1"/><use href="#p" x="714.3" y="553.6"/><use href="#p" x="559.4" y="419.0"/><use href="#p" x="261.3" y="495.5"/><use href="#p" x="660.3" y="402.8"/><use href="#p" x="631.5" y="575.9"/><use href="#p" x="336.6" y="280.2"/><use href="#p" x="632.9" y="378.1"/><use href="#p" x="219.7" y="619.2"/><use href="#p" x="515.2" y="428.6"/><use href="#p" x="517.4" y="397.0"/><use href="#p" x="528.5" y="408.0"/><use href="#p" x="688.1" y="381.9"/><use href="#p" x="212.8" y="598.1"/><use href="#p" x="469.3" y="409.6"/><use href="#p" x="292.9" y="412.3"/><use href="#p" x="713.7" y="513.4"/><use href="#p" x="236.9" y="534.4"/><use href="#p" x="556.9" y="440.0"/><use href="#p" x="347.7" y="431.7"/><use href="#p" x="307.3" y="454.2"/><use href="#p" x="456.6" y="403.5"/><use href="#p" x="556.1" y="359.4"/><use href="#p" x="344.9" y="409.9"/><use href="#p" x="396.0" y="403.2"/><use href="#p" x="332.4" y="401.7"/><use href="#p" x="494.4" y="321.5"/><use href="#p" x="411.7" y="398.6"/><use href="#p" x="451.7" y="376.5"/><use href="#p" x="232.6" y="548.2"/><use href="#p" x="540.4" y="455.7"/><use href="#p" x="406.2" y="348.8"/><use href="#p" x="415.5" y="273.1"/><use href="#p" x="596.3" y="618.1"/><use href="#p" x="714.7" y="564.4"/><use href="#p" x="293.6" y="430.7"/><use href="#p" x="245.6" y="536.5"/><use href="#p" x="405.0" y="401.1"/><use href="#p" x="543.7" y="481.0"/><use href="#p" x="672.8" y="531.8"/><use href="#p" x="553.9" y="388.8"/><use href="#p" x="427.0" y="376.2"/><use href="#p" x="592.6" y="567.3"/><use href="#p" x="573.6" y="547.5"/><use href="#p" x="304.1" y="446.1"/><use href="#p" x="534.7" y="387.0"/><use href="#p" x="470.3" y="406.7"/><use href="#p" x="424.7" y="371.0"/><use href="#p" x="271.2" y="515.1"/><use href="#p" x="450.3" y="399.7"/><use href="#p" x="259.1" y="363.9"/><use href="#p" x="592.9" y="572.8"/><use href="#p" x="404.7" y="323.9"/><use href="#p" x="414.0" y="286.2"/><use href="#p" x="680.3" y="477.2"/><use href="#p" x="252.4" y="554.7"/><use href="#p" x="244.1" y="507.6"/><use href="#p" x="211.8" y="622.4"/><use href="#p" x="291.2" y="483.3"/><use href="#p" x="212.5" y="596.4"/><use href="#p" x="571.7" y="623.6"/><use href="#p" x="459.8" y="395.9"/><use href="#p" x="290.8" y="477.0"/><use href="#p" x="431.4" y="418.4"/><use href="#p" x="581.2" y="601.3"/><use href="#p" x="598.4" y="570.9"/><use href="#p" x="198.6" y="596.6"/><use href="#p" x="254.6" y="531.0"/><use href="#p" x="449.5" y="397.6"/><use href="#p" x="551.8" y="491.3"/><use href="#p" x="594.4" y="438.8"/><use href="#p" x="605.4" y="595.9"/><use href="#p" x="234.1" y="537.5"/><use href="#p" x="228.7" y="589.5"/><use href="#p" x="585.0" y="592.4"/><use href="#p" x="594.5" y="586.5"/><use href="#p" x="219.2" y="617.7"/><use href="#p" x="588.4" y="606.2"/><use href="#p" x="417.5" y="419.4"/><use href="#p" x="574.0" y="538.4"/><use href="#p" x="269.7" y="478.2"/><use href="#p" x="434.2" y="284.4"/><use href="#p" x="690.3" y="427.3"/><use href="#p" x="543.2" y="431.6"/><use href="#p" x="520.5" y="420.7"/><use href="#p" x="536.4" y="475.5"/><use href="#p" x="321.3" y="416.4"/><use href="#p" x="733.6" y="262.4"/><use href="#p" x="141.7" y="621.6"/><use href="#p" x="570.9" y="533.9"/><use href="#p" x="416.3" y="314.0"/><use href="#p" x="551.9" y="474.9"/><use href="#p" x="167.3" y="614.2"/><use href="#p" x="250.1" y="559.8"/><use href="#p" x="387.9" y="406.5"/><use href="#p" x="268.4" y="515.2"/><use href="#p" x="140.5" y="609.7"/><use href="#p" x="588.3" y="412.7"/><use href="#p" x="242.5" y="614.9"/><use href="#p" x="307.5" y="447.3"/><use href="#p" x="497.0" y="386.6"/><use href="#p" x="577.5" y="555.3"/><use href="#p" x="552.4" y="623.6"/><use href="#p" x="532.4" y="427.2"/><use href="#p" x="351.0" y="308.4"/><use href="#p" x="544.8" y="469.2"/><use href="#p" x="350.0" y="422.3"/><use href="#p" x="249.0" y="623.5"/><use href="#p" x="613.1" y="532.6"/><use href="#p" x="579.9" y="356.3"/><use href="#p" x="442.5" y="413.6"/><use href="#p" x="586.5" y="324.3"/><use href="#p" x="328.3" y="375.3"/><use href="#p" x="264.5" y="455.9"/><use href="#p" x="545.4" y="504.4"/><use href="#p" x="618.9" y="608.9"/><use href="#p" x="540.4" y="450.4"/><use href="#p" x="176.4" y="563.8"/><use href="#p" x="592.1" y="514.2"/><use href="#p" x="423.6" y="362.7"/><use href="#p" x="233.1" y="568.3"/><use href="#p" x="457.4" y="410.6"/><use href="#p" x="585.8" y="571.6"/><use href="#p" x="176.7" y="615.1"/><use href="#p" x="199.7" y="591.0"/><use href="#p" x="556.0" y="482.4"/><use href="#p" x="369.1" y="378.6"/><use href="#p" x="595.4" y="558.9"/><use href="#p" x="566.9" y="478.0"/><use href="#p" x="248.8" y="560.9"/><use href="#p" x="215.1" y="592.5"/><use href="#p" x="235.8" y="543.8"/><use href="#p" x="478.5" y="401.5"/><use href="#p" x="376.4" y="398.7"/><use href="#p" x="540.5" y="457.3"/><use href="#p" x="659.0" y="519.2"/><use href="#p" x="564.0" y="436.6"/><use href="#p" x="500.9" y="421.6"/><use href="#p" x="260.3" y="515.5"/><use href="#p" x="369.7" y="398.2"/><use href="#p" x="648.2" y="331.0"/><use href="#p" x="302.6" y="418.6"/><use href="#p" x="514.4" y="432.5"/><use href="#p" x="533.0" y="450.4"/><use href="#p" x="659.5" y="595.7"/><use href="#p" x="466.3" y="406.7"/><use href="#p" x="165.0" y="606.5"/><use href="#p" x="346.6" y="386.8"/><use href="#p" x="581.5" y="559.0"/><use href="#p" x="380.6" y="405.2"/><use href="#p" x="278.7" y="400.5"/><use href="#p" x="292.4" y="470.7"/><use href="#p" x="256.3" y="524.4"/><use href="#p" x="565.0" y="510.1"/><use href="#p" x="620.2" y="469.2"/><use href="#p" x="296.0" y="375.5"/><use href="#p" x="226.8" y="590.4"/><use href="#p" x="327.3" y="411.5"/><use href="#p" x="686.8" y="519.1"/><use href="#p" x="472.2" y="410.0"/><use href="#p" x="475.4" y="395.1"/><use href="#p" x="648.8" y="473.0"/><use href="#p" x="248.4" y="621.3"/><use href="#p" x="156.9" y="601.1"/><use href="#p" x="178.8" y="618.6"/><use href="#p" x="253.9" y="548.4"/><use href="#p" x="360.1" y="405.6"/><use href="#p" x="354.1" y="389.1"/><use href="#p" x="553.4" y="509.0"/><use href="#p" x="385.4" y="379.3"/><use href="#p" x="283.5" y="447.9"/><use href="#p" x="366.1" y="407.9"/><use href="#p" x="440.7" y="388.3"/><use href="#p" x="520.8" y="447.8"/><use href="#p" x="566.4" y="622.3"/><use href="#p" x="484.7" y="377.1"/><use href="#p" x="483.0" y="382.4"/><use href="#p" x="557.5" y="619.9"/><use href="#p" x="319.5" y="380.5"/><use href="#p" x="169.8" y="621.8"/><use href="#p" x="591.8" y="430.0"/><use href="#p" x="299.5" y="416.2"/><use href="#p" x="441.6" y="384.4"/><use href="#p" x="416.3" y="354.5"/><use href="#p" x="241.4" y="542.8"/><use href="#p" x="443.8" y="403.8"/><use href="#p" x="260.9" y="513.7"/><use href="#p" x="718.4" y="616.4"/><use href="#p" x="640.2" y="388.2"/><use href="#p" x="585.4" y="485.3"/><use href="#p" x="250.5" y="489.2"/><use href="#p" x="743.2" y="418.5"/><use href="#p" x="589.2" y="544.7"/><use href="#p" x="486.9" y="415.6"/><use href="#p" x="189.8" y="597.1"/><use href="#p" x="412.9" y="346.5"/><use href="#p" x="613.8" y="473.8"/><use href="#p" x="518.4" y="278.4"/><use href="#p" x="453.6" y="348.6"/><use href="#p" x="249.6" y="537.1"/><use href="#p" x="243.5" y="616.4"/><use href="#p" x="641.5" y="525.9"/><use href="#p" x="438.0" y="414.7"/><use href="#p" x="423.6" y="352.6"/><use href="#p" x="693.4" y="393.9"/><use href="#p" x="582.3" y="577.0"/><use href="#p" x="313.0" y="394.8"/><use href="#p" x="533.7" y="462.9"/><use href="#p" x="449.0" y="364.0"/><use href="#p" x="624.4" y="382.3"/><use href="#p" x="475.8" y="349.0"/><use href="#p" x="183.7" y="613.8"/><use href="#p" x="311.5" y="432.6"/><use href="#p" x="753.4" y="522.4"/><use href="#p" x="280.4" y="466.3"/><use href="#p" x="304.5" y="376.1"/><use href="#p" x="581.8" y="622.9"/><use href="#p" x="237.5" y="617.0"/><use href="#p" x="415.2" y="180.4"/><use href="#p" x="410.3" y="381.4"/><use href="#p" x="649.3" y="558.2"/><use href="#p" x="647.3" y="483.4"/><use href="#p" x="560.1" y="459.3"/><use href="#p" x="587.6" y="614.3"/><use href="#p" x="494.2" y="403.7"/><use href="#p" x="583.2" y="565.1"/><use href="#p" x="249.5" y="459.0"/><use href="#p" x="595.3" y="452.0"/><use href="#p" x="540.8" y="484.3"/><use href="#p" x="366.6" y="397.0"/><use href="#p" x="542.0" y="456.8"/><use href="#p" x="558.7" y="436.8"/><use href="#p" x="214.7" y="585.8"/><use href="#p" x="333.8" y="378.9"/><use href="#p" x="215.7" y="584.3"/><use href="#p" x="716.4" y="525.0"/><use href="#p" x="205.6" y="595.8"/><use href="#p" x="645.4" y="591.4"/><use href="#p" x="693.1" y="592.5"/><use href="#p" x="626.0" y="596.6"/><use href="#p" x="277.9" y="463.1"/><use href="#p" x="469.2" y="387.6"/><use href="#p" x="626.7" y="439.7"/><use href="#p" x="585.2" y="606.9"/><use href="#p" x="553.5" y="374.7"/><use href="#p" x="584.3" y="622.5"/><use href="#p" x="618.9" y="576.4"/><use href="#p" x="484.4" y="387.7"/><use href="#p" x="559.4" y="519.2"/><use href="#p" x="532.4" y="399.7"/><use href="#p" x="340.0" y="372.9"/><use href="#p" x="246.4" y="504.8"/><use href="#p" x="574.4" y="429.0"/><use href="#p" x="532.0" y="458.0"/><use href="#p" x="551.0" y="472.1"/><use href="#p" x="240.7" y="537.7"/><use href="#p" x="417.5" y="371.2"/><use href="#p" x="618.5" y="466.0"/><use href="#p" x="513.5" y="377.6"/><use href="#p" x="425.9" y="407.9"/><use href="#p" x="596.0" y="548.9"/><use href="#p" x="649.2" y="534.0"/><use href="#p" x="462.6" y="359.5"/><use href="#p" x="376.1" y="398.3"/><use href="#p" x="498.1" y="414.3"/><use href="#p" x="428.3" y="384.7"/><use href="#p" x="246.5" y="621.6"/><use href="#p" x="663.5" y="500.8"/><use href="#p" x="551.5" y="495.6"/><use href="#p" x="200.9" y="621.9"/><use href="#p" x="425.5" y="409.6"/><use href="#p" x="758.5" y="479.2"/><use href="#p" x="248.9" y="546.4"/><use href="#p" x="531.7" y="460.7"/><use href="#p" x="359.2" y="385.7"/><use href="#p" x="439.5" y="394.9"/><use href="#p" x="564.3" y="398.9"/><use href="#p" x="195.1" y="622.0"/><use href="#p" x="388.6" y="412.8"/><use href="#p" x="258.5" y="473.8"/><use href="#p" x="442.5" y="391.8"/><use href="#p" x="418.6" y="387.5"/><use href="#p" x="647.8" y="499.0"/><use href="#p" x="306.2" y="434.8"/><use href="#p" x="307.9" y="390.7"/><use href="#p" x="323.8" y="429.3"/><use href="#p" x="547.2" y="497.8"/><use href="#p" x="418.4" y="373.4"/><use href="#p" x="544.0" y="484.6"/><use href="#p" x="269.7" y="509.2"/><use href="#p" x="159.2" y="612.9"/><use href="#p" x="586.5" y="559.8"/><use href="#p" x="569.3" y="466.3"/><use href="#p" x="597.3" y="392.5"/><use href="#p" x="303.9" y="446.1"/><use href="#p" x="555.7" y="419.4"/><use href="#p" x="238.5" y="616.7"/><use href="#p" x="298.7" y="467.1"/><use href="#p" x="325.0" y="386.9"/><use href="#p" x="304.7" y="335.1"/><use href="#p" x="546.5" y="470.7"/><use href="#p" x="216.5" y="620.5"/><use href="#p" x="543.4" y="414.1"/><use href="#p" x="516.6" y="428.0"/><use href="#p" x="534.0" y="375.7"/><use href="#p" x="304.6" y="458.3"/><use href="#p" x="483.4" y="372.8"/><use href="#p" x="588.5" y="578.2"/><use href="#p" x="411.9" y="405.6"/><use href="#p" x="503.7" y="412.7"/><use href="#p" x="828.3" y="486.4"/><use href="#p" x="274.0" y="447.0"/><use href="#p" x="600.3" y="603.5"/><use href="#p" x="419.5" y="285.2"/><use href="#p" x="560.1" y="456.2"/><use href="#p" x="434.1" y="356.8"/><use href="#p" x="689.6" y="533.2"/><use href="#p" x="371.2" y="357.7"/><use href="#p" x="247.4" y="502.0"/><use href="#p" x="265.3" y="521.6"/><use href="#p" x="612.8" y="457.5"/><use href="#p" x="468.2" y="285.2"/><use href="#p" x="589.3" y="584.7"/><use href="#p" x="532.9" y="459.0"/><use href="#p" x="434.9" y="406.1"/><use href="#p" x="658.9" y="488.8"/><use href="#p" x="474.1" y="409.1"/><use href="#p" x="223.4" y="515.5"/><use href="#p" x="466.7" y="408.3"/><use href="#p" x="616.5" y="578.3"/><use href="#p" x="475.8" y="384.1"/><use href="#p" x="495.6" y="426.0"/><use href="#p" x="610.0" y="499.7"/><use href="#p" x="587.5" y="548.4"/><use href="#p" x="346.7" y="362.6"/><use href="#p" x="581.0" y="591.2"/><use href="#p" x="462.5" y="406.9"/><use href="#p" x="184.3" y="593.3"/><use href="#p" x="559.7" y="623.2"/><use href="#p" x="565.6" y="470.3"/><use href="#p" x="588.8" y="617.5"/><use href="#p" x="582.6" y="617.8"/><use href="#p" x="538.2" y="439.5"/><use href="#p" x="647.1" y="604.1"/><use href="#p" x="543.0" y="406.9"/><use href="#p" x="499.5" y="319.5"/><use href="#p" x="554.5" y="474.7"/><use href="#p" x="192.1" y="607.9"/><use href="#p" x="240.8" y="565.4"/><use href="#p" x="695.6" y="548.5"/><use href="#p" x="651.6" y="551.9"/><use href="#p" x="471.5" y="409.9"/><use href="#p" x="308.2" y="363.9"/><use href="#p" x="244.6" y="618.2"/><use href="#p" x="454.6" y="381.7"/><use href="#p" x="592.9" y="468.4"/><use href="#p" x="282.0" y="484.2"/><use href="#p" x="621.0" y="476.5"/><use href="#p" x="307.8" y="410.7"/><use href="#p" x="320.5" y="434.4"/><use href="#p" x="647.5" y="528.8"/><use href="#p" x="383.7" y="407.6"/><use href="#p" x="359.8" y="392.6"/><use href="#p" x="551.4" y="445.7"/><use href="#p" x="209.4" y="597.3"/><use href="#p" x="530.8" y="447.1"/><use href="#p" x="535.5" y="330.2"/><use href="#p" x="257.5" y="528.8"/><use href="#p" x="624.2" y="568.9"/><use href="#p" x="426.9" y="333.7"/><use href="#p" x="563.1" y="619.5"/><use href="#p" x="563.2" y="495.8"/><use href="#p" x="234.4" y="574.1"/><use href="#p" x="585.3" y="539.4"/><use href="#p" x="237.4" y="536.3"/><use href="#p" x="580.9" y="484.8"/><use href="#p" x="602.5" y="433.8"/><use href="#p" x="545.6" y="451.4"/><use href="#p" x="510.5" y="433.3"/><use href="#p" x="223.7" y="622.1"/><use href="#p" x="249.0" y="538.7"/><use href="#p" x="459.6" y="397.0"/><use href="#p" x="601.5" y="561.1"/><use href="#p" x="444.4" y="406.0"/><use href="#p" x="175.2" y="602.5"/><use href="#p" x="544.2" y="469.0"/><use href="#p" x="231.5" y="576.9"/><use href="#p" x="260.9" y="537.5"/><use href="#p" x="228.3" y="619.7"/><use href="#p" x="658.5" y="536.6"/><use href="#p" x="651.1" y="384.4"/><use href="#p" x="505.2" y="430.7"/><use href="#p" x="250.0" y="434.4"/><use href="#p" x="538.9" y="433.6"/><use href="#p" x="352.8" y="425.2"/><use href="#p" x="592.5" y="566.3"/><use href="#p" x="506.5" y="321.5"/><use href="#p" x="327.9" y="429.5"/><use href="#p" x="372.3" y="384.9"/><use href="#p" x="159.7" y="574.2"/><use href="#p" x="586.1" y="501.5"/><use href="#p" x="237.0" y="570.9"/><use href="#p" x="617.7" y="544.3"/><use href="#p" x="492.9" y="399.2"/><use href="#p" x="157.4" y="574.2"/><use href="#p" x="609.7" y="586.9"/><use href="#p" x="500.5" y="404.0"/><use href="#p" x="164.1" y="612.6"/><use href="#p" x="402.1" y="403.3"/><use href="#p" x="579.3" y="307.4"/><use href="#p" x="302.2" y="461.4"/><use href="#p" x="598.7" y="622.8"/><use href="#p" x="319.3" y="413.9"/><use href="#p" x="749.5" y="513.4"/><use href="#p" x="516.2" y="445.4"/><use href="#p" x="437.3" y="416.0"/><use href="#p" x="606.7" y="516.7"/><use href="#p" x="595.0" y="602.5"/><use href="#p" x="247.3" y="622.2"/><use href="#p" x="370.6" y="414.9"/><use href="#p" x="281.3" y="484.4"/><use href="#p" x="523.7" y="467.5"/><use href="#p" x="292.8" y="484.0"/><use href="#p" x="583.9" y="577.9"/><use href="#p" x="560.3" y="437.1"/><use href="#p" x="448.7" y="405.2"/><use href="#p" x="590.4" y="617.3"/><use href="#p" x="553.4" y="449.1"/><use href="#p" x="424.6" y="406.1"/><use href="#p" x="632.0" y="436.5"/><use href="#p" x="317.0" y="418.0"/><use href="#p" x="583.1" y="623.6"/><use href="#p" x="198.6" y="597.1"/><use href="#p" x="532.8" y="425.9"/><use href="#p" x="586.6" y="602.7"/><use href="#p" x="565.9" y="519.7"/><use href="#p" x="669.8" y="574.1"/><use href="#p" x="573.3" y="553.1"/><use href="#p" x="437.1" y="371.4"/><use href="#p" x="555.8" y="490.4"/><use href="#p" x="540.1" y="474.9"/><use href="#p" x="223.5" y="545.3"/><use href="#p" x="575.4" y="546.6"/><use href="#p" x="237.0" y="531.6"/><use href="#p" x="554.5" y="481.4"/><use href="#p" x="535.0" y="411.9"/><use href="#p" x="577.6" y="527.5"/><use href="#p" x="344.4" y="413.6"/><use href="#p" x="712.6" y="597.8"/><use href="#p" x="418.6" y="385.3"/><use href="#p" x="520.5" y="424.4"/><use href="#p" x="485.2" y="391.9"/><use href="#p" x="665.9" y="570.4"/><use href="#p" x="347.2" y="380.0"/><use href="#p" x="697.3" y="554.6"/><use href="#p" x="277.7" y="382.9"/><use href="#p" x="494.6" y="366.8"/><use href="#p" x="595.4" y="226.3"/><use href="#p" x="395.3" y="312.2"/><use href="#p" x="665.0" y="604.4"/><use href="#p" x="321.8" y="435.9"/><use href="#p" x="601.8" y="528.4"/><use href="#p" x="734.5" y="449.0"/><use href="#p" x="406.5" y="338.3"/><use href="#p" x="409.6" y="404.4"/><use href="#p" x="433.7" y="403.8"/><use href="#p" x="430.6" y="403.0"/><use href="#p" x="580.2" y="544.7"/><use href="#p" x="397.0" y="395.0"/><use href="#p" x="172.5" y="572.5"/><use href="#p" x="186.7" y="618.6"/><use href="#p" x="238.6" y="614.1"/><use href="#p" x="335.2" y="402.8"/><use href="#p" x="236.8" y="528.7"/><use href="#p" x="564.3" y="503.0"/><use href="#p" x="511.2" y="390.8"/><use href="#p" x="451.9" y="356.7"/><use href="#p" x="649.2" y="542.1"/><use href="#p" x="545.6" y="289.1"/><use href="#p" x="422.2" y="411.5"/><use href="#p" x="582.3" y="602.0"/><use href="#p" x="459.8" y="412.4"/><use href="#p" x="426.9" y="418.8"/><use href="#p" x="444.0" y="409.9"/><use href="#p" x="676.6" y="601.6"/><use href="#p" x="225.8" y="534.6"/><use href="#p" x="149.6" y="613.1"/><use href="#p" x="611.7" y="491.1"/><use href="#p" x="612.5" y="472.1"/><use href="#p" x="798.3" y="458.0"/><use href="#p" x="455.0" y="367.9"/><use href="#p" x="603.5" y="496.1"/><use href="#p" x="585.9" y="551.8"/><use href="#p" x="299.0" y="463.2"/><use href="#p" x="397.3" y="372.6"/><use href="#p" x="604.4" y="420.3"/><use href="#p" x="602.3" y="495.9"/><use href="#p" x="390.1" y="413.1"/><use href="#p" x="607.0" y="615.8"/><use href="#p" x="292.6" y="417.8"/><use href="#p" x="587.5" y="584.2"/><use href="#p" x="547.1" y="388.5"/><use href="#p" x="629.6" y="485.3"/><use href="#p" x="389.4" y="412.9"/><use href="#p" x="602.2" y="546.6"/><use href="#p" x="218.0" y="592.1"/><use href="#p" x="494.9" y="409.4"/><use href="#p" x="440.0" y="355.6"/><use href="#p" x="534.3" y="439.5"/><use href="#p" x="577.7" y="496.1"/><use href="#p" x="178.6" y="590.1"/><use href="#p" x="468.0" y="398.5"/><use href="#p" x="605.9" y="427.6"/><use href="#p" x="199.6" y="618.7"/><use href="#p" x="629.5" y="482.2"/><use href="#p" x="484.5" y="374.7"/><use href="#p" x="559.4" y="622.6"/><use href="#p" x="268.4" y="495.1"/><use href="#p" x="538.1" y="484.7"/><use href="#p" x="226.4" y="622.6"/><use href="#p" x="217.1" y="588.8"/><use href="#p" x="423.6" y="417.1"/><use href="#p" x="609.1" y="364.2"/><use href="#p" x="452.8" y="387.2"/><use href="#p" x="614.8" y="590.1"/><use href="#p" x="621.5" y="540.2"/><use href="#p" x="253.5" y="489.8"/><use href="#p" x="601.2" y="580.7"/><use href="#p" x="443.4" y="412.9"/><use href="#p" x="326.0" y="430.1"/><use href="#p" x="278.3" y="399.3"/><use href="#p" x="567.4" y="467.0"/><use href="#p" x="772.6" y="448.4"/><use href="#p" x="348.8" y="409.8"/><use href="#p" x="595.6" y="456.8"/><use href="#p" x="146.5" y="610.8"/><use href="#p" x="638.6" y="427.5"/><use href="#p" x="405.5" y="403.8"/><use href="#p" x="522.6" y="465.4"/><use href="#p" x="734.5" y="297.4"/><use href="#p" x="325.6" y="429.8"/><use href="#p" x="492.1" y="415.2"/><use href="#p" x="513.3" y="404.4"/><use href="#p" x="651.1" y="354.2"/><use href="#p" x="553.8" y="328.5"/><use href="#p" x="498.0" y="411.5"/><use href="#p" x="312.1" y="440.9"/><use href="#p" x="582.8" y="444.7"/><use href="#p" x="379.9" y="230.8"/><use href="#p" x="608.1" y="610.6"/><use href="#p" x="387.6" y="408.4"/><use href="#p" x="319.2" y="361.7"/><use href="#p" x="525.0" y="462.3"/><use href="#p" x="612.3" y="438.8"/><use href="#p" x="567.8" y="472.0"/><use href="#p" x="461.8" y="335.4"/><use href="#p" x="632.0" y="435.6"/><use href="#p" x="703.8" y="554.8"/><use href="#p" x="503.1" y="427.7"/><use href="#p" x="436.2" y="406.3"/><use href="#p" x="585.0" y="577.5"/><use href="#p" x="516.8" y="389.3"/><use href="#p" x="496.3" y="371.4"/><use href="#p" x="233.4" y="557.2"/><use href="#p" x="454.2" y="358.3"/><use href="#p" x="578.2" y="562.1"/><use href="#p" x="578.9" y="538.7"/><use href="#p" x="251.4" y="559.5"/><use href="#p" x="357.5" y="414.0"/><use href="#p" x="632.1" y="526.9"/><use href="#p" x="562.2" y="520.8"/><use href="#p" x="242.4" y="544.9"/><use href="#p" x="173.6" y="570.7"/><use href="#p" x="264.3" y="517.0"/><use href="#p" x="405.6" y="376.2"/><use href="#p" x="589.2" y="592.9"/><use href="#p" x="215.3" y="575.9"/><use href="#p" x="245.0" y="565.2"/><use href="#p" x="589.9" y="453.9"/><use href="#p" x="545.3" y="423.5"/><use href="#p" x="435.8" y="393.7"/><use href="#p" x="221.1" y="617.4"/><use href="#p" x="158.0" y="610.5"/><use href="#p" x="396.7" y="385.1"/><use href="#p" x="660.6" y="521.6"/><use href="#p" x="353.0" y="353.3"/><use href="#p" x="252.5" y="535.2"/><use href="#p" x="441.4" y="383.4"/><use href="#p" x="555.7" y="449.3"/><use href="#p" x="389.4" y="395.2"/><use href="#p" x="639.7" y="454.6"/><use href="#p" x="353.2" y="290.5"/><use href="#p" x="712.3" y="484.9"/><use href="#p" x="821.4" y="481.0"/><use href="#p" x="640.1" y="529.0"/><use href="#p" x="408.3" y="344.8"/><use href="#p" x="467.0" y="371.9"/><use href="#p" x="622.1" y="595.6"/><use href="#p" x="157.6" y="622.9"/><use href="#p" x="387.7" y="383.3"/><use href="#p" x="621.1" y="378.1"/><use href="#p" x="664.3" y="245.3"/><use href="#p" x="663.2" y="548.5"/><use href="#p" x="456.6" y="411.5"/><use href="#p" x="298.5" y="414.1"/><use href="#p" x="309.9" y="427.2"/><use href="#p" x="593.4" y="457.0"/><use href="#p" x="300.6" y="451.6"/><use href="#p" x="691.0" y="579.8"/><use href="#p" x="425.0" y="419.0"/><use href="#p" x="191.8" y="607.5"/><use href="#p" x="220.2" y="591.8"/><use href="#p" x="157.5" y="602.3"/><use href="#p" x="163.9" y="602.0"/><use href="#p" x="657.6" y="354.2"/><use href="#p" x="359.8" y="415.4"/><use href="#p" x="208.7" y="592.8"/><use href="#p" x="353.2" y="398.6"/><use href="#p" x="310.8" y="452.5"/><use href="#p" x="576.7" y="621.7"/><use href="#p" x="402.8" y="370.0"/><use href="#p" x="591.8" y="574.1"/><use href="#p" x="398.1" y="407.6"/><use href="#p" x="583.2" y="470.5"/><use href="#p" x="590.1" y="590.0"/><use href="#p" x="258.3" y="520.9"/><use href="#p" x="573.0" y="491.3"/><use href="#p" x="657.7" y="470.8"/><use href="#p" x="508.2" y="433.3"/><use href="#p" x="393.2" y="324.4"/><use href="#p" x="588.6" y="576.0"/><use href="#p" x="471.5" y="373.4"/><use href="#p" x="195.9" y="597.3"/><use href="#p" x="523.8" y="417.6"/><use href="#p" x="456.7" y="372.3"/><use href="#p" x="322.2" y="392.5"/><use href="#p" x="577.8" y="519.4"/><use href="#p" x="479.5" y="171.3"/><use href="#p" x="186.8" y="617.8"/><use href="#p" x="362.1" y="414.4"/><use href="#p" x="553.7" y="429.2"/><use href="#p" x="202.9" y="623.3"/><use href="#p" x="662.1" y="507.2"/><use href="#p" x="388.8" y="386.4"/><use href="#p" x="263.5" y="526.1"/><use href="#p" x="337.5" y="400.5"/><use href="#p" x="578.1" y="432.5"/><use href="#p" x="353.0" y="423.9"/><use href="#p" x="240.6" y="624.3"/><use href="#p" x="713.8" y="544.3"/><use href="#p" x="601.9" y="593.9"/><use href="#p" x="486.9" y="401.4"/><use href="#p" x="498.5" y="389.9"/><use href="#p" x="661.4" y="338.4"/><use href="#p" x="213.4" y="563.8"/><use href="#p" x="615.3" y="554.7"/><use href="#p" x="188.5" y="605.3"/><use href="#p" x="234.4" y="621.2"/><use href="#p" x="269.0" y="497.1"/><use href="#p" x="567.1" y="617.0"/><use href="#p" x="573.3" y="620.6"/><use href="#p" x="468.7" y="289.3"/><use href="#p" x="226.6" y="497.7"/><use href="#p" x="470.5" y="402.6"/><use href="#p" x="557.0" y="491.9"/><use href="#p" x="244.1" y="532.3"/><use href="#p" x="312.1" y="183.5"/><use href="#p" x="431.4" y="401.6"/><use href="#p" x="631.2" y="616.9"/><use href="#p" x="553.9" y="459.1"/><use href="#p" x="440.4" y="409.6"/><use href="#p" x="563.9" y="510.5"/><use href="#p" x="552.2" y="421.2"/><use href="#p" x="235.2" y="548.5"/><use href="#p" x="483.6" y="404.4"/><use href="#p" x="720.6" y="566.8"/><use href="#p" x="593.6" y="590.9"/><use href="#p" x="383.5" y="400.9"/><use href="#p" x="611.1" y="590.3"/><use href="#p" x="516.3" y="418.4"/><use href="#p" x="619.7" y="606.1"/><use href="#p" x="559.5" y="402.7"/><use href="#p" x="578.5" y="450.6"/><use href="#p" x="555.3" y="619.6"/><use href="#p" x="284.3" y="473.2"/><use href="#p" x="765.4" y="464.3"/><use href="#p" x="292.3" y="448.8"/><use href="#p" x="431.2" y="389.2"/><use href="#p" x="615.1" y="547.9"/><use href="#p" x="493.9" y="377.7"/><use href="#p" x="423.8" y="405.7"/><use href="#p" x="580.9" y="623.2"/><use href="#p" x="592.2" y="570.5"/><use href="#p" x="383.5" y="356.9"/><use href="#p" x="406.7" y="386.4"/><use href="#p" x="259.4" y="535.9"/><use href="#p" x="506.5" y="417.1"/><use href="#p" x="531.0" y="473.0"/><use href="#p" x="622.3" y="587.4"/><use href="#p" x="337.5" y="426.9"/><use href="#p" x="363.5" y="380.2"/><use href="#p" x="512.8" y="412.5"/><use href="#p" x="296.6" y="471.4"/><use href="#p" x="270.5" y="518.5"/><use href="#p" x="283.3" y="472.2"/><use href="#p" x="414.2" y="391.9"/><use href="#p" x="367.5" y="375.1"/><use href="#p" x="312.3" y="402.6"/><use href="#p" x="262.0" y="523.5"/><use href="#p" x="644.7" y="577.6"/><use href="#p" x="327.1" y="332.3"/><use href="#p" x="327.2" y="402.4"/><use href="#p" x="407.3" y="386.6"/><use href="#p" x="201.9" y="618.0"/><use href="#p" x="340.5" y="334.0"/><use href="#p" x="475.8" y="364.6"/><use href="#p" x="494.9" y="420.3"/><use href="#p" x="261.0" y="333.1"/>
</g></g>
<rect x="1173.0" y="266.8" width="180.1" height="385.0" fill="#2ecc71"/>
<rect x="1398.0" y="203.0" width="180.0" height="448.8" fill="#f1c40f"/>
<rect x="1623.0" y="166.0" width="181.0" height="485.8" fill="#e67e22"/>
<rect x="1849.0" y="77.0" width="180.0" height="574.8" fill="#e74c3c"/>
<rect x="88.0" y="48.9" width="941.0" height="602.9" fill="none" stroke="#000" stroke-width="1.67" stroke-linejoin="miter"/>
<rect x="1130.0" y="48.9" width="941.1" height="602.9" fill="none" stroke="#000" stroke-width="1.67" stroke-linejoin="miter"/>
<path d="M113.95 651.8v7.3M240.25 651.8v7.3M366.55 651.8v7.3M492.85 651.8v7.3M619.15 651.8v7.3M745.45 651.8v7.3M871.75 651.8v7.3M998.05 651.8v7.3M88.0 624.80h-7.3M88.0 552.10h-7.3M88.0 479.40h-7.3M88.0 406.70h-7.3M88.0 334.00h-7.3M88.0 261.30h-7.3M88.0 188.60h-7.3M88.0 115.90h-7.3M1262.80 651.8v7.3M1487.90 651.8v7.3M1713.00 651.8v7.3M1938.60 651.8v7.3M1130.0 651.80h-7.3M1130.0 523.52h-7.3M1130.0 395.25h-7.3M1130.0 266.97h-7.3M1130.0 138.70h-7.3" stroke="#000" stroke-width="1.67" fill="none"/>
<text x="335.30" y="36.80" font-size="29.6" textLength="448.60" lengthAdjust="spacingAndGlyphs">Prediction Uncertainty vs Error</text>
<text x="1316.20" y="36.80" font-size="29.6" textLength="570.40" lengthAdjust="spacingAndGlyphs">MAE by Prediction Uncertainty Quartile</text>
<text x="355.70" y="715.00" font-size="25.4" textLength="405.80" lengthAdjust="spacingAndGlyphs">Prediction Std Dev (Uncertainty)</text>
<text transform="translate(33.30 440.90) rotate(-90)" font-size="25.4" textLength="177.80" lengthAdjust="spacingAndGlyphs">Absolute Error</text>
<text transform="translate(1069.40 477.90) rotate(-90)" font-size="25.4" textLength="252.60" lengthAdjust="spacingAndGlyphs">Mean Absolute Error</text>
<text x="107.73" y="683.80" font-size="21.8" textLength="12.45" lengthAdjust="spacingAndGlyphs">0</text>
<text x="234.03" y="683.80" font-size="21.8" textLength="12.45" lengthAdjust="spacingAndGlyphs">1</text>
<text x="360.32" y="683.80" font-size="21.8" textLength="12.45" lengthAdjust="spacingAndGlyphs">2</text>
<text x="486.62" y="683.80" font-size="21.8" textLength="12.45" lengthAdjust="spacingAndGlyphs">3</text>
<text x="612.92" y="683.80" font-size="21.8" textLength="12.45" lengthAdjust="spacingAndGlyphs">4</text>
<text x="739.23" y="683.80" font-size="21.8" textLength="12.45" lengthAdjust="spacingAndGlyphs">5</text>
<text x="865.52" y="683.80" font-size="21.8" textLength="12.45" lengthAdjust="spacingAndGlyphs">6</text>
<text x="991.83" y="683.80" font-size="21.8" textLength="12.45" lengthAdjust="spacingAndGlyphs">7</text>
<text x="61.75" y="633.70" font-size="21.8" textLength="10.85" lengthAdjust="spacingAndGlyphs">0</text>
<text x="61.75" y="561.00" font-size="21.8" textLength="10.85" lengthAdjust="spacingAndGlyphs">2</text>
<text x="61.75" y="488.30" font-size="21.8" textLength="10.85" lengthAdjust="spacingAndGlyphs">4</text>
<text x="61.75" y="415.60" font-size="21.8" textLength="10.85" lengthAdjust="spacingAndGlyphs">6</text>
<text x="61.75" y="342.90" font-size="21.8" textLength="10.85" lengthAdjust="spacingAndGlyphs">8</text>
<text x="48.50" y="270.20" font-size="21.8" textLength="24.10" lengthAdjust="spacingAndGlyphs">10</text>
<text x="48.50" y="197.50" font-size="21.8" textLength="24.10" lengthAdjust="spacingAndGlyphs">12</text>
<text x="48.50" y="124.80" font-size="21.8" textLength="24.10" lengthAdjust="spacingAndGlyphs">14</text>
<text x="1083.20" y="660.70" font-size="21.8" textLength="31.40" lengthAdjust="spacingAndGlyphs">0.0</text>
<text x="1083.20" y="532.42" font-size="21.8" textLength="31.40" lengthAdjust="spacingAndGlyphs">0.5</text>
<text x="1083.20" y="404.15" font-size="21.8" textLength="31.40" lengthAdjust="spacingAndGlyphs">1.0</text>
<text x="1083.20" y="275.87" font-size="21.8" textLength="31.40" lengthAdjust="spacingAndGlyphs">1.5</text>
<text x="1083.20" y="147.60" font-size="21.8" textLength="31.40" lengthAdjust="spacingAndGlyphs">2.0</text>
<text x="1215.80" y="684.10" font-size="21.8" textLength="95.20" lengthAdjust="spacingAndGlyphs">Q1 (Low)</text>
<text x="1473.60" y="684.10" font-size="21.8" textLength="28.60" lengthAdjust="spacingAndGlyphs">Q2</text>
<text x="1698.50" y="684.10" font-size="21.8" textLength="28.70" lengthAdjust="spacingAndGlyphs">Q3</text>
<text x="1888.20" y="684.10" font-size="21.8" textLength="100.80" lengthAdjust="spacingAndGlyphs">Q4 (High)</text>
</svg></body></html>
